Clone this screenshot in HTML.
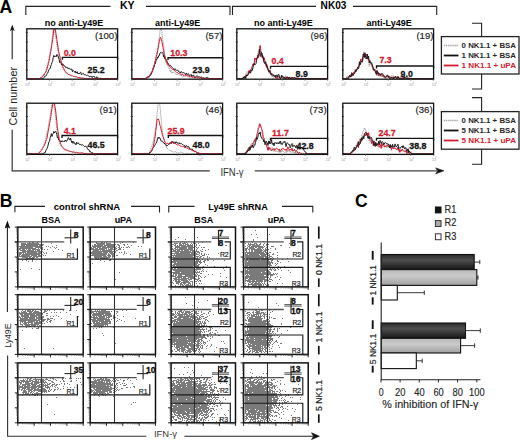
<!DOCTYPE html><html><head><meta charset="utf-8"><title>Figure</title><style>html,body{margin:0;padding:0;background:#fff;overflow:hidden}svg{display:block}text{font-family:"Liberation Sans",sans-serif}</style></head><body><svg width="520" height="441" viewBox="0 0 520 441" font-family="Liberation Sans, sans-serif"><rect width="520" height="441" fill="#fff"/><defs><clipPath id="ca00"><rect x="26.8" y="28.8" width="90.8" height="50.4"/></clipPath><clipPath id="ca01"><rect x="131.8" y="28.8" width="90.8" height="50.4"/></clipPath><clipPath id="ca02"><rect x="236.8" y="28.8" width="90.8" height="50.4"/></clipPath><clipPath id="ca03"><rect x="342.8" y="28.8" width="90.8" height="50.4"/></clipPath><clipPath id="ca10"><rect x="26.8" y="103.2" width="90.8" height="51.2"/></clipPath><clipPath id="ca11"><rect x="131.8" y="103.2" width="90.8" height="51.2"/></clipPath><clipPath id="ca12"><rect x="236.8" y="103.2" width="90.8" height="51.2"/></clipPath><clipPath id="ca13"><rect x="342.8" y="103.2" width="90.8" height="51.2"/></clipPath><linearGradient id="gd" x1="0" y1="0" x2="0" y2="1"><stop offset="0" stop-color="#2a2a2a"/><stop offset="0.38" stop-color="#4e4e4e"/><stop offset="1" stop-color="#161616"/></linearGradient><linearGradient id="gl" x1="0" y1="0" x2="0" y2="1"><stop offset="0" stop-color="#b8b8b8"/><stop offset="0.4" stop-color="#cacaca"/><stop offset="1" stop-color="#a0a0a0"/></linearGradient></defs><g clip-path="url(#ca00)" fill="none" stroke-linejoin="round">
<path d="M26.8 78.6 27.4 78.6 28 78.6 28.6 78.6 29.2 78.6 29.8 78.6 30.4 78.6 31 78.6 31.6 78.6 32.2 78.6 32.8 78.6 33.4 78.6 34 78.6 34.6 78.6 35.2 78.6 35.8 78.6 36.4 78.6 37 78.6 37.6 78.6 38.2 78.6 38.8 78.5 39.4 78.5 40 78.1 40.6 77.4 41.2 77.2 41.8 77.3 42.4 76.3 43 75.2 43.6 74.4 44.2 73.6 44.8 72.8 45.4 72.2 46 70 46.6 68.3 47.2 66.2 47.8 63.3 48.4 61.5 49 58.6 49.6 55.3 50.2 52.3 50.8 48.9 51.4 45.1 52 40.2 52.6 35.3 53.2 29.9 53.8 28.8 54.4 28.8 55 32.8 55.6 36.2 56.2 40.5 56.8 44.8 57.4 47.5 58 51.2 58.6 54.1 59.2 56.4 59.8 60.2 60.4 62.1 61 63.6 61.6 65 62.2 67 62.8 68.5 63.4 69.7 64 70.2 64.6 70.7 65.2 72.2 65.8 73.1 66.4 73.1 67 73.7 67.6 74.3 68.2 74.2 68.8 74.4 69.4 75.1 70 75.3 70.6 75.3 71.2 75.8 71.8 76.3 72.4 76.1 73 76.5 73.6 76.3 74.2 76.7 74.8 76.7 75.4 76.7 76 77 76.6 77.2 77.2 77.5 77.8 76.9 78.4 77.2 79 78 79.6 78 80.2 77.7 80.8 78.1 81.4 78 82 77.9 82.6 78.1 83.2 78.3 83.8 78.3 84.4 78.4 85 78.4 85.6 78.5 86.2 78.5 86.8 78.5 87.4 78.6 88 78.6 88.6 78.6 89.2 78.6 89.8 78.6 90.4 78.6 91 78.6 91.6 78.6 92.2 78.6 92.8 78.6 93.4 78.6 94 78.6 94.6 78.6 95.2 78.6 95.8 78.6 96.4 78.6 97 78.6 97.6 78.6 98.2 78.6 98.8 78.6 99.4 78.6 100 78.6 100.6 78.6 101.2 78.6 101.8 78.6 102.4 78.6 103 78.6 103.6 78.6 104.2 78.6 104.8 78.6 105.4 78.6 106 78.6 106.6 78.6 107.2 78.6 107.8 78.6 108.4 78.6 109 78.6 109.6 78.6 110.2 78.6 110.8 78.6 111.4 78.6 112 78.6 112.6 78.6 113.2 78.6 113.8 78.6 114.4 78.6 115 78.6 115.6 78.6 116.2 78.6 116.8 78.6 117.4 78.6" stroke="#8a8a8a" stroke-width="0.9" stroke-dasharray="1.2 0.8"/>
<path d="M26.8 78.6 27.4 78.6 28 78.6 28.6 78.6 29.2 78.6 29.8 78.6 30.4 78.6 31 78.6 31.6 78.6 32.2 78.6 32.8 78.6 33.4 78.6 34 78.6 34.6 78.6 35.2 78.6 35.8 78.6 36.4 78.6 37 78.6 37.6 78.6 38.2 78.6 38.8 78.6 39.4 78.6 40 78.6 40.6 78.6 41.2 78.6 41.8 78.5 42.4 78.3 43 78.6 43.6 78.4 44.2 77.2 44.8 76.2 45.4 76.2 46 75.9 46.6 74.4 47.2 73.3 47.8 73 48.4 71.2 49 69.5 49.6 69.1 50.2 68.2 50.8 66 51.4 64.6 52 62.2 52.6 61.5 53.2 57.4 53.8 55.4 54.4 56.7 55 56.1 55.6 56.1 56.2 56.9 56.8 54.5 57.4 54.8 58 56 58.6 58.2 59.2 59.6 59.8 62.6 60.4 61.7 61 62.4 61.6 65 62.2 63.8 62.8 64.9 63.4 64.5 64 66 64.6 66.1 65.2 66.3 65.8 67.7 66.4 66.9 67 67.8 67.6 67.7 68.2 68.8 68.8 67.9 69.4 68.6 70 69.5 70.6 69.2 71.2 69.1 71.8 69 72.4 71.7 73 70.3 73.6 70.9 74.2 71.5 74.8 72.4 75.4 71.1 76 73.1 76.6 72 77.2 71.7 77.8 73.8 78.4 73.1 79 74 79.6 73.1 80.2 72.4 80.8 72.2 81.4 74.9 82 74.2 82.6 73.6 83.2 73.2 83.8 74.1 84.4 75 85 74.5 85.6 74.9 86.2 75.2 86.8 75.7 87.4 75.3 88 75.5 88.6 75.9 89.2 76.2 89.8 77 90.4 76.7 91 75.9 91.6 76.8 92.2 77.6 92.8 76.3 93.4 76.9 94 76.2 94.6 77.4 95.2 77.8 95.8 78.4 96.4 77.2 97 76.7 97.6 78.4 98.2 78.4 98.8 77.9 99.4 78.6 100 78.3 100.6 78.4 101.2 78.4 101.8 78.5 102.4 78.5 103 78.6 103.6 78.6 104.2 78.6 104.8 78.6 105.4 78.6 106 78.6 106.6 78.6 107.2 78.6 107.8 78.6 108.4 78.6 109 78.6 109.6 78.6 110.2 78.6 110.8 78.6 111.4 78.6 112 78.6 112.6 78.6 113.2 78.6 113.8 78.6 114.4 78.6 115 78.6 115.6 78.6 116.2 78.6 116.8 78.6 117.4 78.6" stroke="#1a1a1a" stroke-width="1.0"/>
<path d="M26.8 78.6 27.4 78.6 28 78.6 28.6 78.6 29.2 78.6 29.8 78.6 30.4 78.6 31 78.6 31.6 78.6 32.2 78.6 32.8 78.6 33.4 78.6 34 78.6 34.6 78.6 35.2 78.6 35.8 78.6 36.4 78.6 37 78.6 37.6 78.6 38.2 78.6 38.8 78.6 39.4 78.5 40 78.3 40.6 77.9 41.2 77.6 41.8 77.2 42.4 76.7 43 76.3 43.6 75.2 44.2 75 44.8 73.4 45.4 72.7 46 71.5 46.6 70.2 47.2 68 47.8 65.9 48.4 63.5 49 61.3 49.6 58.2 50.2 54.3 50.8 51.4 51.4 48.2 52 43.6 52.6 39.9 53.2 34.8 53.8 29.4 54.4 28.8 55 28.8 55.6 31 56.2 34.9 56.8 39.4 57.4 43 58 47 58.6 51.2 59.2 53.5 59.8 56 60.4 58.7 61 60.8 61.6 62.7 62.2 64.1 62.8 66.4 63.4 67.9 64 68.9 64.6 70.3 65.2 71.3 65.8 71.9 66.4 72.2 67 72.8 67.6 73.9 68.2 74.5 68.8 74.5 69.4 74.7 70 75 70.6 75.1 71.2 75.2 71.8 75.6 72.4 75.7 73 76.3 73.6 76.5 74.2 76.3 74.8 76.4 75.4 76.5 76 76.7 76.6 76.8 77.2 76.9 77.8 77.6 78.4 77.5 79 77.4 79.6 77.5 80.2 78.1 80.8 77.7 81.4 78.1 82 78.1 82.6 78.1 83.2 78.1 83.8 78.3 84.4 78.4 85 78.4 85.6 78.5 86.2 78.5 86.8 78.5 87.4 78.6 88 78.6 88.6 78.6 89.2 78.6 89.8 78.6 90.4 78.6 91 78.6 91.6 78.6 92.2 78.6 92.8 78.6 93.4 78.6 94 78.6 94.6 78.6 95.2 78.6 95.8 78.6 96.4 78.6 97 78.6 97.6 78.6 98.2 78.6 98.8 78.6 99.4 78.6 100 78.6 100.6 78.6 101.2 78.6 101.8 78.6 102.4 78.6 103 78.6 103.6 78.6 104.2 78.6 104.8 78.6 105.4 78.6 106 78.6 106.6 78.6 107.2 78.6 107.8 78.6 108.4 78.6 109 78.6 109.6 78.6 110.2 78.6 110.8 78.6 111.4 78.6 112 78.6 112.6 78.6 113.2 78.6 113.8 78.6 114.4 78.6 115 78.6 115.6 78.6 116.2 78.6 116.8 78.6 117.4 78.6" stroke="#d41a2e" stroke-width="1.0"/>
</g>
<rect x="26.8" y="28.8" width="90.8" height="50.4" fill="none" stroke="#111" stroke-width="1.3"/>
<path d="M62.4 59.7V57.3H117.6V59.7" stroke="#151515" stroke-width="1.35" fill="none"/>
<line x1="25.8" y1="69.9" x2="28" y2="69.9" stroke="#333" stroke-width="0.9"/>
<line x1="25.8" y1="60.5" x2="28" y2="60.5" stroke="#333" stroke-width="0.9"/>
<line x1="25.8" y1="51.2" x2="28" y2="51.2" stroke="#333" stroke-width="0.9"/>
<line x1="25.8" y1="41.9" x2="28" y2="41.9" stroke="#333" stroke-width="0.9"/>
<line x1="25.8" y1="32.5" x2="28" y2="32.5" stroke="#333" stroke-width="0.9"/>
<line x1="26.8" y1="79.2" x2="26.8" y2="80.8" stroke="#666" stroke-width="0.7"/>
<text x="25" y="85.5" font-size="3.6" fill="#9a9a9a">10</text>
<text x="28.4" y="83.8" font-size="2.6" fill="#9a9a9a">0</text>
<line x1="49.5" y1="79.2" x2="49.5" y2="80.8" stroke="#666" stroke-width="0.7"/>
<text x="47.7" y="85.5" font-size="3.6" fill="#9a9a9a">10</text>
<text x="51.1" y="83.8" font-size="2.6" fill="#9a9a9a">1</text>
<line x1="72.2" y1="79.2" x2="72.2" y2="80.8" stroke="#666" stroke-width="0.7"/>
<text x="70.4" y="85.5" font-size="3.6" fill="#9a9a9a">10</text>
<text x="73.8" y="83.8" font-size="2.6" fill="#9a9a9a">2</text>
<line x1="94.9" y1="79.2" x2="94.9" y2="80.8" stroke="#666" stroke-width="0.7"/>
<text x="93.1" y="85.5" font-size="3.6" fill="#9a9a9a">10</text>
<text x="96.5" y="83.8" font-size="2.6" fill="#9a9a9a">3</text>
<line x1="117.6" y1="79.2" x2="117.6" y2="80.8" stroke="#666" stroke-width="0.7"/>
<text x="115.8" y="85.5" font-size="3.6" fill="#9a9a9a">10</text>
<text x="119.2" y="83.8" font-size="2.6" fill="#9a9a9a">4</text>
<text x="63.7" y="55.9" font-size="9.8" font-weight="bold" fill="#d41a2e" textLength="12.2" lengthAdjust="spacingAndGlyphs" stroke="#d41a2e" stroke-width="0.3">0.0</text>
<text x="87.5" y="72.7" font-size="9.8" font-weight="bold" fill="#111" textLength="17.2" lengthAdjust="spacingAndGlyphs" stroke="#111" stroke-width="0.3">25.2</text>
<text x="95" y="39.2" font-size="9.6" fill="#1a1a1a" stroke="#1a1a1a" stroke-width="0.15">(100)</text>
<g clip-path="url(#ca01)" fill="none" stroke-linejoin="round">
<path d="M131.8 78.6 132.4 78.6 133 78.6 133.6 78.6 134.2 78.6 134.8 78.6 135.4 78.6 136 78.6 136.6 78.6 137.2 78.6 137.8 78.6 138.4 78.6 139 78.6 139.6 78.6 140.2 78.6 140.8 78.6 141.4 78.6 142 78.6 142.6 78.6 143.2 78.6 143.8 78.6 144.4 78.6 145 78.6 145.6 78.5 146.2 77.2 146.8 78.6 147.4 78.2 148 77.5 148.6 76.6 149.2 77.1 149.8 75.6 150.4 74.6 151 73.5 151.6 74.2 152.2 70.9 152.8 68.5 153.4 67.3 154 66.1 154.6 63.7 155.2 63.2 155.8 57.8 156.4 54 157 51.8 157.6 52.2 158.2 45.8 158.8 41 159.4 37.2 160 30.7 160.6 29.8 161.2 28.8 161.8 31.9 162.4 37.5 163 41.8 163.6 44.4 164.2 49.5 164.8 55.7 165.4 57.5 166 61.8 166.6 64.8 167.2 64.9 167.8 65.4 168.4 67.3 169 68.1 169.6 69.4 170.2 72 170.8 70.2 171.4 71 172 73.4 172.6 72.4 173.2 72.9 173.8 71.9 174.4 72.8 175 73 175.6 73.3 176.2 74.6 176.8 75.2 177.4 74.2 178 74.6 178.6 74.7 179.2 74.9 179.8 75.3 180.4 74.9 181 75.3 181.6 75.9 182.2 76.8 182.8 77.4 183.4 76.8 184 76.2 184.6 75.8 185.2 76.7 185.8 76.2 186.4 76 187 75.5 187.6 76.8 188.2 76.2 188.8 77 189.4 77.9 190 78.5 190.6 77.3 191.2 77.1 191.8 76.3 192.4 78 193 77.5 193.6 77.9 194.2 78.6 194.8 77.8 195.4 78.2 196 78.6 196.6 77.5 197.2 78.3 197.8 78.4 198.4 78.4 199 78.5 199.6 78.5 200.2 78.6 200.8 78.6 201.4 78.6 202 78.6 202.6 78.6 203.2 78.6 203.8 78.6 204.4 78.6 205 78.6 205.6 78.6 206.2 78.6 206.8 78.6 207.4 78.6 208 78.6 208.6 78.6 209.2 78.6 209.8 78.6 210.4 78.6 211 78.6 211.6 78.6 212.2 78.6 212.8 78.6 213.4 78.6 214 78.6 214.6 78.6 215.2 78.6 215.8 78.6 216.4 78.6 217 78.6 217.6 78.6 218.2 78.6 218.8 78.6 219.4 78.6 220 78.6 220.6 78.6 221.2 78.6 221.8 78.6 222.4 78.6" stroke="#8a8a8a" stroke-width="0.9" stroke-dasharray="1.2 0.8"/>
<path d="M131.8 78.6 132.4 78.6 133 78.6 133.6 78.6 134.2 78.6 134.8 78.6 135.4 78.6 136 78.6 136.6 78.6 137.2 78.6 137.8 78.6 138.4 78.6 139 78.6 139.6 78.6 140.2 78.6 140.8 78.6 141.4 78.6 142 78.6 142.6 78.6 143.2 78.6 143.8 78.6 144.4 78.6 145 78.6 145.6 78.5 146.2 78.4 146.8 77.5 147.4 77.6 148 76.4 148.6 77.3 149.2 76.1 149.8 75.3 150.4 75.4 151 74.8 151.6 72.2 152.2 71.4 152.8 70.3 153.4 68.1 154 67.2 154.6 64.6 155.2 63.9 155.8 61.7 156.4 59.4 157 59.4 157.6 56.9 158.2 57.6 158.8 55.6 159.4 55.5 160 53.1 160.6 52.3 161.2 52.5 161.8 53.2 162.4 52.5 163 53.4 163.6 56.9 164.2 55.2 164.8 59 165.4 58.8 166 59.3 166.6 60.1 167.2 62.3 167.8 63.2 168.4 63.5 169 65.1 169.6 65.8 170.2 65.2 170.8 65.5 171.4 66.9 172 67.2 172.6 67.7 173.2 68.4 173.8 68.9 174.4 69.7 175 68.7 175.6 69.7 176.2 70.2 176.8 70.3 177.4 70.4 178 70.1 178.6 71.7 179.2 72.1 179.8 71.9 180.4 72.9 181 71.5 181.6 72 182.2 72.3 182.8 73.1 183.4 72.6 184 72.5 184.6 73 185.2 73.7 185.8 74.9 186.4 73.1 187 74.2 187.6 74.7 188.2 73.6 188.8 74.2 189.4 75.6 190 74.9 190.6 75.1 191.2 74.5 191.8 76.6 192.4 75.8 193 75.8 193.6 74.9 194.2 76.7 194.8 78 195.4 77.2 196 76.3 196.6 76.1 197.2 75.6 197.8 76.5 198.4 77.4 199 76.5 199.6 77.1 200.2 77.3 200.8 77.3 201.4 76.7 202 78 202.6 78.1 203.2 77.7 203.8 77.8 204.4 78.2 205 78.4 205.6 77.8 206.2 77.3 206.8 77.7 207.4 77.8 208 77.6 208.6 78.3 209.2 78.4 209.8 78.5 210.4 78.5 211 78.6 211.6 78.6 212.2 78.6 212.8 78.6 213.4 78.6 214 78.6 214.6 78.6 215.2 78.6 215.8 78.6 216.4 78.6 217 78.6 217.6 78.6 218.2 78.6 218.8 78.6 219.4 78.6 220 78.6 220.6 78.6 221.2 78.6 221.8 78.6 222.4 78.6" stroke="#1a1a1a" stroke-width="1.0"/>
<path d="M131.8 78.6 132.4 78.6 133 78.6 133.6 78.6 134.2 78.6 134.8 78.6 135.4 78.6 136 78.6 136.6 78.6 137.2 78.6 137.8 78.6 138.4 78.6 139 78.6 139.6 78.6 140.2 78.6 140.8 78.6 141.4 78.6 142 78.6 142.6 78.6 143.2 78.6 143.8 78.6 144.4 78.6 145 78.6 145.6 78.5 146.2 78.4 146.8 78.1 147.4 76.9 148 77.1 148.6 77 149.2 76.4 149.8 74.8 150.4 74.8 151 73.2 151.6 72 152.2 72.3 152.8 69 153.4 67.7 154 65.9 154.6 63.4 155.2 60.7 155.8 58.5 156.4 56.1 157 54.3 157.6 50.6 158.2 47.7 158.8 44.1 159.4 41.4 160 38.3 160.6 37.2 161.2 39.2 161.8 41.3 162.4 44 163 47.5 163.6 50.5 164.2 54.5 164.8 56.1 165.4 57.8 166 61.2 166.6 62.5 167.2 62.2 167.8 64.6 168.4 65.2 169 65.6 169.6 66.7 170.2 67.6 170.8 68 171.4 68.5 172 69.1 172.6 69.3 173.2 69.2 173.8 70.2 174.4 70.1 175 70.9 175.6 71.3 176.2 71.8 176.8 72.5 177.4 72.5 178 72.9 178.6 73.7 179.2 73.2 179.8 73.5 180.4 73.8 181 74.3 181.6 75.3 182.2 73.9 182.8 74.7 183.4 75.6 184 74.7 184.6 75.3 185.2 75 185.8 75.4 186.4 75.1 187 75.6 187.6 75.7 188.2 75.9 188.8 75.7 189.4 76.7 190 76 190.6 76.3 191.2 76.9 191.8 76.8 192.4 77.1 193 77 193.6 76.9 194.2 77.5 194.8 77.1 195.4 77.2 196 77.3 196.6 77.1 197.2 77.7 197.8 77.6 198.4 77.1 199 77.9 199.6 78 200.2 78 200.8 77.9 201.4 78.3 202 78.3 202.6 78.6 203.2 78.3 203.8 78.4 204.4 78.4 205 78.5 205.6 78.5 206.2 78.6 206.8 78.6 207.4 78.6 208 78.6 208.6 78.6 209.2 78.6 209.8 78.6 210.4 78.6 211 78.6 211.6 78.6 212.2 78.6 212.8 78.6 213.4 78.6 214 78.6 214.6 78.6 215.2 78.6 215.8 78.6 216.4 78.6 217 78.6 217.6 78.6 218.2 78.6 218.8 78.6 219.4 78.6 220 78.6 220.6 78.6 221.2 78.6 221.8 78.6 222.4 78.6" stroke="#d41a2e" stroke-width="1.0"/>
</g>
<rect x="131.8" y="28.8" width="90.8" height="50.4" fill="none" stroke="#111" stroke-width="1.3"/>
<path d="M168 60.1V57.7H222.6V60.1" stroke="#151515" stroke-width="1.35" fill="none"/>
<line x1="130.8" y1="69.9" x2="133" y2="69.9" stroke="#333" stroke-width="0.9"/>
<line x1="130.8" y1="60.5" x2="133" y2="60.5" stroke="#333" stroke-width="0.9"/>
<line x1="130.8" y1="51.2" x2="133" y2="51.2" stroke="#333" stroke-width="0.9"/>
<line x1="130.8" y1="41.9" x2="133" y2="41.9" stroke="#333" stroke-width="0.9"/>
<line x1="130.8" y1="32.5" x2="133" y2="32.5" stroke="#333" stroke-width="0.9"/>
<line x1="131.8" y1="79.2" x2="131.8" y2="80.8" stroke="#666" stroke-width="0.7"/>
<text x="130" y="85.5" font-size="3.6" fill="#9a9a9a">10</text>
<text x="133.4" y="83.8" font-size="2.6" fill="#9a9a9a">0</text>
<line x1="154.5" y1="79.2" x2="154.5" y2="80.8" stroke="#666" stroke-width="0.7"/>
<text x="152.7" y="85.5" font-size="3.6" fill="#9a9a9a">10</text>
<text x="156.1" y="83.8" font-size="2.6" fill="#9a9a9a">1</text>
<line x1="177.2" y1="79.2" x2="177.2" y2="80.8" stroke="#666" stroke-width="0.7"/>
<text x="175.4" y="85.5" font-size="3.6" fill="#9a9a9a">10</text>
<text x="178.8" y="83.8" font-size="2.6" fill="#9a9a9a">2</text>
<line x1="199.9" y1="79.2" x2="199.9" y2="80.8" stroke="#666" stroke-width="0.7"/>
<text x="198.1" y="85.5" font-size="3.6" fill="#9a9a9a">10</text>
<text x="201.5" y="83.8" font-size="2.6" fill="#9a9a9a">3</text>
<line x1="222.6" y1="79.2" x2="222.6" y2="80.8" stroke="#666" stroke-width="0.7"/>
<text x="220.8" y="85.5" font-size="3.6" fill="#9a9a9a">10</text>
<text x="224.2" y="83.8" font-size="2.6" fill="#9a9a9a">4</text>
<text x="170.3" y="55.9" font-size="9.8" font-weight="bold" fill="#d41a2e" textLength="17.2" lengthAdjust="spacingAndGlyphs" stroke="#d41a2e" stroke-width="0.3">10.3</text>
<text x="192.5" y="72.7" font-size="9.8" font-weight="bold" fill="#111" textLength="17.2" lengthAdjust="spacingAndGlyphs" stroke="#111" stroke-width="0.3">23.9</text>
<text x="205.4" y="39.2" font-size="9.6" fill="#1a1a1a" stroke="#1a1a1a" stroke-width="0.15">(57)</text>
<g clip-path="url(#ca02)" fill="none" stroke-linejoin="round">
<path d="M236.8 78.6 237.4 78.6 238 78.6 238.6 78.6 239.2 78.6 239.8 78.6 240.4 78.6 241 78.6 241.6 78.6 242.2 78.4 242.8 78.1 243.4 77.3 244 76.6 244.6 76.5 245.2 75.2 245.8 74.9 246.4 73.1 247 71.6 247.6 73.5 248.2 72.8 248.8 71 249.4 73.4 250 69.3 250.6 69.7 251.2 69.3 251.8 69.7 252.4 66.3 253 64 253.6 64.8 254.2 64.5 254.8 62.7 255.4 60.8 256 61.6 256.6 59 257.2 58.8 257.8 55.3 258.4 49.7 259 51.5 259.6 45.7 260.2 50.7 260.8 53.9 261.4 54.5 262 55.6 262.6 56.8 263.2 58.3 263.8 61.3 264.4 60.4 265 63.7 265.6 63.6 266.2 65.3 266.8 66.8 267.4 68 268 70.6 268.6 69.6 269.2 70.6 269.8 73.1 270.4 69.5 271 73.6 271.6 76.1 272.2 76.9 272.8 76.3 273.4 78.4 274 75.4 274.6 77.5 275.2 76 275.8 78.3 276.4 76.6 277 75.6 277.6 76.3 278.2 78.6 278.8 77.1 279.4 77.7 280 76 280.6 76.9 281.2 75.3 281.8 77.2 282.4 78.6 283 78.5 283.6 76.2 284.2 78.6 284.8 77.5 285.4 75.3 286 77.7 286.6 78.6 287.2 76.8 287.8 77.4 288.4 78.6 289 77.1 289.6 77.7 290.2 77.2 290.8 78.6 291.4 76.8 292 78.6 292.6 76.8 293.2 78.6 293.8 77.8 294.4 77.8 295 78.6 295.6 78.6 296.2 78.6 296.8 78.3 297.4 78.3 298 78.4 298.6 78.4 299.2 78.4 299.8 78.5 300.4 78.5 301 78.6 301.6 78.6 302.2 78.6 302.8 78.6 303.4 78.6 304 78.6 304.6 78.6 305.2 78.6 305.8 78.6 306.4 78.6 307 78.6 307.6 78.6 308.2 78.6 308.8 78.6 309.4 78.6 310 78.6 310.6 78.6 311.2 78.6 311.8 78.6 312.4 78.6 313 78.6 313.6 78.6 314.2 78.6 314.8 78.6 315.4 78.6 316 78.6 316.6 78.6 317.2 78.6 317.8 78.6 318.4 78.6 319 78.6 319.6 78.6 320.2 78.6 320.8 78.6 321.4 78.6 322 78.6 322.6 78.6 323.2 78.6 323.8 78.6 324.4 78.6 325 78.6 325.6 78.6 326.2 78.6 326.8 78.6 327.4 78.6" stroke="#8a8a8a" stroke-width="0.9" stroke-dasharray="1.2 0.8"/>
<path d="M236.8 78.6 237.4 78.6 238 78.6 238.6 78.6 239.2 78.6 239.8 78.6 240.4 78.6 241 78.6 241.6 78.6 242.2 78.6 242.8 78.4 243.4 77.7 244 76.3 244.6 76.7 245.2 76.9 245.8 75.3 246.4 75.4 247 74.4 247.6 74.7 248.2 74.6 248.8 70.6 249.4 71.8 250 70.3 250.6 70.3 251.2 69.3 251.8 68.1 252.4 65.6 253 63.8 253.6 63.7 254.2 64.4 254.8 57.9 255.4 59.9 256 58.5 256.6 59.7 257.2 57.9 257.8 54.9 258.4 57.5 259 54.2 259.6 50.7 260.2 45.5 260.8 50.4 261.4 55.5 262 57.4 262.6 55 263.2 59.5 263.8 60.1 264.4 57.8 265 62.3 265.6 64.4 266.2 66.4 266.8 64.5 267.4 65.8 268 69.7 268.6 71.7 269.2 71 269.8 70.1 270.4 72.1 271 74.9 271.6 73.6 272.2 73.6 272.8 74.9 273.4 75.1 274 75.6 274.6 76.5 275.2 76.9 275.8 77.9 276.4 77.9 277 78.6 277.6 76.5 278.2 76.6 278.8 77.1 279.4 76.8 280 77.2 280.6 78.1 281.2 77.2 281.8 77.8 282.4 77.7 283 78.6 283.6 78.1 284.2 77.3 284.8 78 285.4 78.5 286 78.6 286.6 78.4 287.2 76.6 287.8 78.5 288.4 77 289 78.4 289.6 77.1 290.2 78.5 290.8 77.7 291.4 77.5 292 77.6 292.6 78.6 293.2 78.5 293.8 78.6 294.4 78.3 295 78.5 295.6 78.5 296.2 77.8 296.8 78.3 297.4 78.3 298 78.4 298.6 78.4 299.2 78.4 299.8 78.5 300.4 78.5 301 78.6 301.6 78.6 302.2 78.6 302.8 78.6 303.4 78.6 304 78.6 304.6 78.6 305.2 78.6 305.8 78.6 306.4 78.6 307 78.6 307.6 78.6 308.2 78.6 308.8 78.6 309.4 78.6 310 78.6 310.6 78.6 311.2 78.6 311.8 78.6 312.4 78.6 313 78.6 313.6 78.6 314.2 78.6 314.8 78.6 315.4 78.6 316 78.6 316.6 78.6 317.2 78.6 317.8 78.6 318.4 78.6 319 78.6 319.6 78.6 320.2 78.6 320.8 78.6 321.4 78.6 322 78.6 322.6 78.6 323.2 78.6 323.8 78.6 324.4 78.6 325 78.6 325.6 78.6 326.2 78.6 326.8 78.6 327.4 78.6" stroke="#d41a2e" stroke-width="1.0"/>
<path d="M236.8 78.6 237.4 78.6 238 78.6 238.6 78.6 239.2 78.6 239.8 78.6 240.4 78.6 241 78.6 241.6 78.6 242.2 78.6 242.8 78.5 243.4 77 244 78.6 244.6 76.6 245.2 76.4 245.8 78.6 246.4 74.9 247 76.1 247.6 75 248.2 74.8 248.8 73.8 249.4 72.1 250 71.2 250.6 73.2 251.2 70 251.8 71.1 252.4 70.1 253 67.4 253.6 64.2 254.2 63.6 254.8 65.1 255.4 64.3 256 63.5 256.6 60.3 257.2 57.4 257.8 57.8 258.4 54.6 259 53.7 259.6 49.4 260.2 56.5 260.8 56 261.4 52.6 262 53.1 262.6 57.2 263.2 56.7 263.8 61.7 264.4 63.2 265 63.5 265.6 61.7 266.2 63.4 266.8 67.5 267.4 67 268 69.6 268.6 69.4 269.2 72.4 269.8 71.5 270.4 73.5 271 73.2 271.6 74.8 272.2 75.5 272.8 74.5 273.4 75.5 274 75.3 274.6 76.3 275.2 75.1 275.8 77.3 276.4 75.4 277 74.8 277.6 77.1 278.2 74.6 278.8 74.3 279.4 76.5 280 78.6 280.6 78.6 281.2 77.5 281.8 75.2 282.4 76.7 283 76.6 283.6 77.9 284.2 78.5 284.8 77.2 285.4 78.6 286 78 286.6 77.2 287.2 77.8 287.8 77.2 288.4 78.4 289 77.2 289.6 77.5 290.2 78.6 290.8 78.6 291.4 78.6 292 77.3 292.6 77.8 293.2 77.8 293.8 78 294.4 77.5 295 77.2 295.6 78.6 296.2 78.6 296.8 78.3 297.4 78.3 298 78.4 298.6 78.4 299.2 78.4 299.8 78.5 300.4 78.5 301 78.6 301.6 78.6 302.2 78.6 302.8 78.6 303.4 78.6 304 78.6 304.6 78.6 305.2 78.6 305.8 78.6 306.4 78.6 307 78.6 307.6 78.6 308.2 78.6 308.8 78.6 309.4 78.6 310 78.6 310.6 78.6 311.2 78.6 311.8 78.6 312.4 78.6 313 78.6 313.6 78.6 314.2 78.6 314.8 78.6 315.4 78.6 316 78.6 316.6 78.6 317.2 78.6 317.8 78.6 318.4 78.6 319 78.6 319.6 78.6 320.2 78.6 320.8 78.6 321.4 78.6 322 78.6 322.6 78.6 323.2 78.6 323.8 78.6 324.4 78.6 325 78.6 325.6 78.6 326.2 78.6 326.8 78.6 327.4 78.6" stroke="#1a1a1a" stroke-width="1.0"/>
</g>
<rect x="236.8" y="28.8" width="90.8" height="50.4" fill="none" stroke="#111" stroke-width="1.3"/>
<path d="M270.5 68.7V66.3H327.6V68.7" stroke="#151515" stroke-width="1.35" fill="none"/>
<line x1="235.8" y1="69.9" x2="238" y2="69.9" stroke="#333" stroke-width="0.9"/>
<line x1="235.8" y1="60.5" x2="238" y2="60.5" stroke="#333" stroke-width="0.9"/>
<line x1="235.8" y1="51.2" x2="238" y2="51.2" stroke="#333" stroke-width="0.9"/>
<line x1="235.8" y1="41.9" x2="238" y2="41.9" stroke="#333" stroke-width="0.9"/>
<line x1="235.8" y1="32.5" x2="238" y2="32.5" stroke="#333" stroke-width="0.9"/>
<line x1="236.8" y1="79.2" x2="236.8" y2="80.8" stroke="#666" stroke-width="0.7"/>
<text x="235" y="85.5" font-size="3.6" fill="#9a9a9a">10</text>
<text x="238.4" y="83.8" font-size="2.6" fill="#9a9a9a">0</text>
<line x1="259.5" y1="79.2" x2="259.5" y2="80.8" stroke="#666" stroke-width="0.7"/>
<text x="257.7" y="85.5" font-size="3.6" fill="#9a9a9a">10</text>
<text x="261.1" y="83.8" font-size="2.6" fill="#9a9a9a">1</text>
<line x1="282.2" y1="79.2" x2="282.2" y2="80.8" stroke="#666" stroke-width="0.7"/>
<text x="280.4" y="85.5" font-size="3.6" fill="#9a9a9a">10</text>
<text x="283.8" y="83.8" font-size="2.6" fill="#9a9a9a">2</text>
<line x1="304.9" y1="79.2" x2="304.9" y2="80.8" stroke="#666" stroke-width="0.7"/>
<text x="303.1" y="85.5" font-size="3.6" fill="#9a9a9a">10</text>
<text x="306.5" y="83.8" font-size="2.6" fill="#9a9a9a">3</text>
<line x1="327.6" y1="79.2" x2="327.6" y2="80.8" stroke="#666" stroke-width="0.7"/>
<text x="325.8" y="85.5" font-size="3.6" fill="#9a9a9a">10</text>
<text x="329.2" y="83.8" font-size="2.6" fill="#9a9a9a">4</text>
<text x="271.5" y="63.6" font-size="9.8" font-weight="bold" fill="#d41a2e" textLength="12.2" lengthAdjust="spacingAndGlyphs" stroke="#d41a2e" stroke-width="0.3">0.4</text>
<text x="295.6" y="76.7" font-size="9.8" font-weight="bold" fill="#111" textLength="12.2" lengthAdjust="spacingAndGlyphs" stroke="#111" stroke-width="0.3">8.9</text>
<text x="310.4" y="39.2" font-size="9.6" fill="#1a1a1a" stroke="#1a1a1a" stroke-width="0.15">(96)</text>
<g clip-path="url(#ca03)" fill="none" stroke-linejoin="round">
<path d="M342.8 78.6 343.4 78.6 344 78.6 344.6 78.6 345.2 78.5 345.8 78.4 346.4 78.6 347 76.4 347.6 78.6 348.2 78 348.8 76.6 349.4 76.3 350 75.6 350.6 76.4 351.2 76.5 351.8 76.6 352.4 73.8 353 74 353.6 72.4 354.2 72.3 354.8 69.5 355.4 70 356 69.9 356.6 69.3 357.2 69.3 357.8 68.1 358.4 66.9 359 62.4 359.6 64.3 360.2 63.9 360.8 61.2 361.4 59.1 362 61.5 362.6 62.6 363.2 56.8 363.8 51.5 364.4 54 365 52.3 365.6 54.3 366.2 54.6 366.8 58.5 367.4 59 368 56.1 368.6 59.1 369.2 66.4 369.8 60.2 370.4 60 371 65.2 371.6 64.3 372.2 68.2 372.8 67.6 373.4 68.5 374 70.5 374.6 68.8 375.2 70.1 375.8 70.6 376.4 70.9 377 76.1 377.6 72.9 378.2 76.1 378.8 74.9 379.4 74.7 380 76.4 380.6 75 381.2 77.2 381.8 76.2 382.4 74.7 383 77.2 383.6 75.9 384.2 78.2 384.8 76 385.4 78.6 386 77.9 386.6 78.6 387.2 76.5 387.8 78.1 388.4 77.7 389 76.8 389.6 76.1 390.2 76.5 390.8 77.5 391.4 75.6 392 76.4 392.6 77.6 393.2 75.3 393.8 78.6 394.4 77.7 395 76.2 395.6 76.8 396.2 77.1 396.8 78.1 397.4 78.6 398 78.2 398.6 77.3 399.2 78.4 399.8 78.6 400.4 78.3 401 75.6 401.6 76.9 402.2 75.7 402.8 77.9 403.4 78.1 404 78.5 404.6 76.1 405.2 78.6 405.8 78.1 406.4 77.4 407 78.6 407.6 78.6 408.2 78.3 408.8 78.4 409.4 78.4 410 78.5 410.6 78.5 411.2 78.5 411.8 78.6 412.4 78.6 413 78.6 413.6 78.6 414.2 78.6 414.8 78.6 415.4 78.6 416 78.6 416.6 78.6 417.2 78.6 417.8 78.6 418.4 78.6 419 78.6 419.6 78.6 420.2 78.6 420.8 78.6 421.4 78.6 422 78.6 422.6 78.6 423.2 78.6 423.8 78.6 424.4 78.6 425 78.6 425.6 78.6 426.2 78.6 426.8 78.6 427.4 78.6 428 78.6 428.6 78.6 429.2 78.6 429.8 78.6 430.4 78.6 431 78.6 431.6 78.6 432.2 78.6 432.8 78.6 433.4 78.6" stroke="#8a8a8a" stroke-width="0.9" stroke-dasharray="1.2 0.8"/>
<path d="M342.8 78.6 343.4 78.6 344 78.6 344.6 78.6 345.2 78.6 345.8 78.5 346.4 78.3 347 78.4 347.6 77.8 348.2 78.3 348.8 76.2 349.4 75.9 350 76.3 350.6 74.8 351.2 75.1 351.8 76.1 352.4 74.2 353 75.2 353.6 72.4 354.2 72.9 354.8 72.4 355.4 72.3 356 69.1 356.6 70.1 357.2 69.7 357.8 68.6 358.4 66.3 359 65.4 359.6 64.1 360.2 62.9 360.8 59 361.4 61.9 362 60.8 362.6 60 363.2 56.1 363.8 53.6 364.4 53.4 365 54.7 365.6 55.7 366.2 54.1 366.8 55.1 367.4 56.6 368 59.7 368.6 59.3 369.2 60.6 369.8 61.6 370.4 61.6 371 63.7 371.6 64 372.2 65.9 372.8 66.6 373.4 67.1 374 70.9 374.6 70.2 375.2 71.2 375.8 72 376.4 72.2 377 70.6 377.6 74.1 378.2 72.4 378.8 76 379.4 74.8 380 74.6 380.6 74.4 381.2 74.5 381.8 74.6 382.4 76 383 76.3 383.6 75.1 384.2 76.4 384.8 77.6 385.4 77.6 386 77.5 386.6 76.1 387.2 76.6 387.8 76.1 388.4 77.4 389 76.8 389.6 76.5 390.2 77.5 390.8 76.8 391.4 77.9 392 77.7 392.6 77.8 393.2 78.6 393.8 77 394.4 78 395 77.6 395.6 77.2 396.2 77.3 396.8 77.1 397.4 77.9 398 78.2 398.6 77.9 399.2 78.6 399.8 78.6 400.4 78.6 401 78.6 401.6 77.7 402.2 78.6 402.8 78.4 403.4 77 404 78.4 404.6 77.5 405.2 78.6 405.8 78.4 406.4 78.6 407 78.5 407.6 77.6 408.2 78.3 408.8 78.4 409.4 78.4 410 78.5 410.6 78.5 411.2 78.5 411.8 78.6 412.4 78.6 413 78.6 413.6 78.6 414.2 78.6 414.8 78.6 415.4 78.6 416 78.6 416.6 78.6 417.2 78.6 417.8 78.6 418.4 78.6 419 78.6 419.6 78.6 420.2 78.6 420.8 78.6 421.4 78.6 422 78.6 422.6 78.6 423.2 78.6 423.8 78.6 424.4 78.6 425 78.6 425.6 78.6 426.2 78.6 426.8 78.6 427.4 78.6 428 78.6 428.6 78.6 429.2 78.6 429.8 78.6 430.4 78.6 431 78.6 431.6 78.6 432.2 78.6 432.8 78.6 433.4 78.6" stroke="#d41a2e" stroke-width="1.0"/>
<path d="M342.8 78.6 343.4 78.6 344 78.6 344.6 78.6 345.2 78.6 345.8 78.6 346.4 78.4 347 78.6 347.6 78.6 348.2 78.6 348.8 78.2 349.4 75.5 350 75.4 350.6 77 351.2 76.6 351.8 72.6 352.4 73.6 353 75.6 353.6 74.1 354.2 73.9 354.8 72.4 355.4 70.5 356 71.7 356.6 69.8 357.2 68.6 357.8 67.3 358.4 68.9 359 67.1 359.6 61.7 360.2 64.8 360.8 63.1 361.4 61.1 362 62 362.6 60.3 363.2 54.3 363.8 53.7 364.4 57.5 365 53.2 365.6 57.2 366.2 59.1 366.8 56.6 367.4 54.1 368 58.6 368.6 56.2 369.2 62.7 369.8 61.2 370.4 62.4 371 63.4 371.6 62.7 372.2 64.5 372.8 67.6 373.4 70 374 69.4 374.6 69.3 375.2 71 375.8 73.4 376.4 74.4 377 70.7 377.6 72.2 378.2 74.1 378.8 73 379.4 73.4 380 74.9 380.6 75.5 381.2 73.4 381.8 74.1 382.4 73.5 383 74.3 383.6 75.5 384.2 76.7 384.8 76.7 385.4 77.1 386 76.4 386.6 76.3 387.2 75.1 387.8 75 388.4 76.9 389 76.5 389.6 78.5 390.2 78 390.8 78.6 391.4 77.1 392 78 392.6 78.3 393.2 77.5 393.8 78.6 394.4 77.7 395 77 395.6 76.1 396.2 78.6 396.8 78.3 397.4 78.6 398 76.3 398.6 78.1 399.2 77.6 399.8 78.6 400.4 78.3 401 78.6 401.6 78.6 402.2 78.6 402.8 78.6 403.4 78.6 404 78.6 404.6 76.7 405.2 78.3 405.8 78.1 406.4 78.2 407 78.6 407.6 78.5 408.2 78.3 408.8 78.4 409.4 78.4 410 78.5 410.6 78.5 411.2 78.5 411.8 78.6 412.4 78.6 413 78.6 413.6 78.6 414.2 78.6 414.8 78.6 415.4 78.6 416 78.6 416.6 78.6 417.2 78.6 417.8 78.6 418.4 78.6 419 78.6 419.6 78.6 420.2 78.6 420.8 78.6 421.4 78.6 422 78.6 422.6 78.6 423.2 78.6 423.8 78.6 424.4 78.6 425 78.6 425.6 78.6 426.2 78.6 426.8 78.6 427.4 78.6 428 78.6 428.6 78.6 429.2 78.6 429.8 78.6 430.4 78.6 431 78.6 431.6 78.6 432.2 78.6 432.8 78.6 433.4 78.6" stroke="#1a1a1a" stroke-width="1.0"/>
</g>
<rect x="342.8" y="28.8" width="90.8" height="50.4" fill="none" stroke="#111" stroke-width="1.3"/>
<path d="M376.5 68.4V66H433.6V68.4" stroke="#151515" stroke-width="1.35" fill="none"/>
<line x1="341.8" y1="69.9" x2="344" y2="69.9" stroke="#333" stroke-width="0.9"/>
<line x1="341.8" y1="60.5" x2="344" y2="60.5" stroke="#333" stroke-width="0.9"/>
<line x1="341.8" y1="51.2" x2="344" y2="51.2" stroke="#333" stroke-width="0.9"/>
<line x1="341.8" y1="41.9" x2="344" y2="41.9" stroke="#333" stroke-width="0.9"/>
<line x1="341.8" y1="32.5" x2="344" y2="32.5" stroke="#333" stroke-width="0.9"/>
<line x1="342.8" y1="79.2" x2="342.8" y2="80.8" stroke="#666" stroke-width="0.7"/>
<text x="341" y="85.5" font-size="3.6" fill="#9a9a9a">10</text>
<text x="344.4" y="83.8" font-size="2.6" fill="#9a9a9a">0</text>
<line x1="365.5" y1="79.2" x2="365.5" y2="80.8" stroke="#666" stroke-width="0.7"/>
<text x="363.7" y="85.5" font-size="3.6" fill="#9a9a9a">10</text>
<text x="367.1" y="83.8" font-size="2.6" fill="#9a9a9a">1</text>
<line x1="388.2" y1="79.2" x2="388.2" y2="80.8" stroke="#666" stroke-width="0.7"/>
<text x="386.4" y="85.5" font-size="3.6" fill="#9a9a9a">10</text>
<text x="389.8" y="83.8" font-size="2.6" fill="#9a9a9a">2</text>
<line x1="410.9" y1="79.2" x2="410.9" y2="80.8" stroke="#666" stroke-width="0.7"/>
<text x="409.1" y="85.5" font-size="3.6" fill="#9a9a9a">10</text>
<text x="412.5" y="83.8" font-size="2.6" fill="#9a9a9a">3</text>
<line x1="433.6" y1="79.2" x2="433.6" y2="80.8" stroke="#666" stroke-width="0.7"/>
<text x="431.8" y="85.5" font-size="3.6" fill="#9a9a9a">10</text>
<text x="435.2" y="83.8" font-size="2.6" fill="#9a9a9a">4</text>
<text x="379.4" y="62.6" font-size="9.8" font-weight="bold" fill="#d41a2e" textLength="12.2" lengthAdjust="spacingAndGlyphs" stroke="#d41a2e" stroke-width="0.3">7.3</text>
<text x="400.6" y="76.7" font-size="9.8" font-weight="bold" fill="#111" textLength="12.2" lengthAdjust="spacingAndGlyphs" stroke="#111" stroke-width="0.3">9.0</text>
<text x="416.4" y="39.2" font-size="9.6" fill="#1a1a1a" stroke="#1a1a1a" stroke-width="0.15">(19)</text>
<g clip-path="url(#ca10)" fill="none" stroke-linejoin="round">
<path d="M26.8 153.8 27.4 153.8 28 153.8 28.6 153.8 29.2 153.8 29.8 153.8 30.4 153.8 31 153.8 31.6 153.8 32.2 153.8 32.8 153.8 33.4 153.8 34 153.8 34.6 153.8 35.2 153.8 35.8 153.8 36.4 153.8 37 153.8 37.6 153.7 38.2 153.6 38.8 152.7 39.4 151.9 40 151.8 40.6 150.4 41.2 149.5 41.8 148.7 42.4 147.4 43 146.9 43.6 145.1 44.2 143.9 44.8 142.4 45.4 140.5 46 137.7 46.6 134.4 47.2 132.4 47.8 129.7 48.4 125.9 49 121.5 49.6 118.9 50.2 115.4 50.8 111.2 51.4 106.8 52 103.2 52.6 103.2 53.2 103.2 53.8 105.4 54.4 108.7 55 112.6 55.6 118.1 56.2 124.1 56.8 129.3 57.4 132.8 58 137.3 58.6 139.6 59.2 141.3 59.8 143.9 60.4 145.2 61 145.7 61.6 146.6 62.2 147.8 62.8 148.4 63.4 148.8 64 149.1 64.6 149.7 65.2 149.7 65.8 150.8 66.4 150.4 67 150.9 67.6 150.7 68.2 151 68.8 150.7 69.4 151.3 70 151.5 70.6 151.5 71.2 151.5 71.8 151.9 72.4 152.3 73 152.3 73.6 152 74.2 151.8 74.8 152.6 75.4 152.3 76 152.9 76.6 152.4 77.2 152.8 77.8 152.8 78.4 152.5 79 152.4 79.6 153.1 80.2 153.3 80.8 153.3 81.4 153.1 82 153.3 82.6 153.4 83.2 153.6 83.8 153.4 84.4 153.6 85 153.5 85.6 153.6 86.2 153.6 86.8 153.7 87.4 153.7 88 153.8 88.6 153.8 89.2 153.8 89.8 153.8 90.4 153.8 91 153.8 91.6 153.8 92.2 153.8 92.8 153.8 93.4 153.8 94 153.8 94.6 153.8 95.2 153.8 95.8 153.8 96.4 153.8 97 153.8 97.6 153.8 98.2 153.8 98.8 153.8 99.4 153.8 100 153.8 100.6 153.8 101.2 153.8 101.8 153.8 102.4 153.8 103 153.8 103.6 153.8 104.2 153.8 104.8 153.8 105.4 153.8 106 153.8 106.6 153.8 107.2 153.8 107.8 153.8 108.4 153.8 109 153.8 109.6 153.8 110.2 153.8 110.8 153.8 111.4 153.8 112 153.8 112.6 153.8 113.2 153.8 113.8 153.8 114.4 153.8 115 153.8 115.6 153.8 116.2 153.8 116.8 153.8 117.4 153.8" stroke="#8a8a8a" stroke-width="0.9" stroke-dasharray="1.2 0.8"/>
<path d="M26.8 153.8 27.4 153.8 28 153.8 28.6 153.8 29.2 153.8 29.8 153.8 30.4 153.8 31 153.8 31.6 153.8 32.2 153.8 32.8 153.8 33.4 153.8 34 153.8 34.6 153.8 35.2 153.8 35.8 153.8 36.4 153.8 37 153.8 37.6 153.8 38.2 153.8 38.8 153.8 39.4 153.8 40 153.8 40.6 153.8 41.2 153.8 41.8 153.8 42.4 153.8 43 153.8 43.6 153.8 44.2 152.6 44.8 153.1 45.4 152 46 150.2 46.6 149 47.2 148.3 47.8 146.3 48.4 144 49 141.5 49.6 141.1 50.2 137.3 50.8 135.8 51.4 133.6 52 136.5 52.6 134.3 53.2 133.7 53.8 131.4 54.4 132.9 55 131.9 55.6 131.3 56.2 132.5 56.8 134.4 57.4 137.5 58 136.6 58.6 139.9 59.2 140 59.8 140.4 60.4 141.7 61 140.8 61.6 142.1 62.2 140.8 62.8 141 63.4 141.8 64 141.2 64.6 141.6 65.2 140.1 65.8 141.2 66.4 141.4 67 140.1 67.6 140 68.2 137.6 68.8 138.1 69.4 139.3 70 140.1 70.6 138.2 71.2 140.5 71.8 142.6 72.4 141.4 73 143.4 73.6 141.5 74.2 142.4 74.8 143.8 75.4 143.6 76 144.9 76.6 142.2 77.2 143.5 77.8 143.2 78.4 142.8 79 144.2 79.6 144.5 80.2 144.6 80.8 144.2 81.4 145.2 82 145 82.6 144.7 83.2 145.1 83.8 145.8 84.4 146.5 85 146.6 85.6 146.2 86.2 146.3 86.8 147.1 87.4 148.8 88 149 88.6 150 89.2 150.1 89.8 151.9 90.4 151.4 91 152.4 91.6 153.2 92.2 152.4 92.8 153.7 93.4 153.8 94 153.8 94.6 153.8 95.2 153.8 95.8 153.8 96.4 153.8 97 153.8 97.6 153.8 98.2 153.8 98.8 153.8 99.4 153.8 100 153.8 100.6 153.8 101.2 153.8 101.8 153.8 102.4 153.8 103 153.8 103.6 153.8 104.2 153.8 104.8 153.8 105.4 153.8 106 153.8 106.6 153.8 107.2 153.8 107.8 153.8 108.4 153.8 109 153.8 109.6 153.8 110.2 153.8 110.8 153.8 111.4 153.8 112 153.8 112.6 153.8 113.2 153.8 113.8 153.8 114.4 153.8 115 153.8 115.6 153.8 116.2 153.8 116.8 153.8 117.4 153.8" stroke="#1a1a1a" stroke-width="1.0"/>
<path d="M26.8 153.8 27.4 153.8 28 153.8 28.6 153.8 29.2 153.8 29.8 153.8 30.4 153.8 31 153.8 31.6 153.8 32.2 153.8 32.8 153.8 33.4 153.8 34 153.8 34.6 153.8 35.2 153.8 35.8 153.8 36.4 153.8 37 153.8 37.6 153.8 38.2 153.8 38.8 153 39.4 153.1 40 152.1 40.6 151.1 41.2 150.5 41.8 150 42.4 148.8 43 147.8 43.6 146.7 44.2 145.8 44.8 144.1 45.4 143 46 141 46.6 139.4 47.2 137.2 47.8 133.1 48.4 130.2 49 126.9 49.6 123.6 50.2 120.2 50.8 116.6 51.4 112.2 52 108.6 52.6 104.3 53.2 103.2 53.8 103.2 54.4 103.2 55 106.9 55.6 110.1 56.2 115.8 56.8 121.6 57.4 127.9 58 131.6 58.6 135 59.2 139.1 59.8 141.3 60.4 143.1 61 144.5 61.6 145.8 62.2 146.4 62.8 147.2 63.4 148.1 64 148.9 64.6 149.2 65.2 149.3 65.8 149.8 66.4 149.9 67 150.4 67.6 150.4 68.2 150.7 68.8 151.1 69.4 151.2 70 151.5 70.6 151.5 71.2 151.7 71.8 151.7 72.4 151.9 73 152.1 73.6 152 74.2 152.4 74.8 152.3 75.4 152.8 76 152.6 76.6 152.4 77.2 152.6 77.8 152.6 78.4 152.9 79 153.1 79.6 153.1 80.2 152.9 80.8 153.1 81.4 152.7 82 152.7 82.6 153 83.2 153.4 83.8 153.2 84.4 153.4 85 153.4 85.6 153.5 86.2 153.4 86.8 153.5 87.4 153.6 88 153.6 88.6 153.7 89.2 153.7 89.8 153.8 90.4 153.8 91 153.8 91.6 153.8 92.2 153.8 92.8 153.8 93.4 153.8 94 153.8 94.6 153.8 95.2 153.8 95.8 153.8 96.4 153.8 97 153.8 97.6 153.8 98.2 153.8 98.8 153.8 99.4 153.8 100 153.8 100.6 153.8 101.2 153.8 101.8 153.8 102.4 153.8 103 153.8 103.6 153.8 104.2 153.8 104.8 153.8 105.4 153.8 106 153.8 106.6 153.8 107.2 153.8 107.8 153.8 108.4 153.8 109 153.8 109.6 153.8 110.2 153.8 110.8 153.8 111.4 153.8 112 153.8 112.6 153.8 113.2 153.8 113.8 153.8 114.4 153.8 115 153.8 115.6 153.8 116.2 153.8 116.8 153.8 117.4 153.8" stroke="#d41a2e" stroke-width="1.0"/>
</g>
<rect x="26.8" y="103.2" width="90.8" height="51.2" fill="none" stroke="#111" stroke-width="1.3"/>
<path d="M62 137.9V135.5H117.6V137.9" stroke="#151515" stroke-width="1.35" fill="none"/>
<line x1="25.8" y1="144.9" x2="28" y2="144.9" stroke="#333" stroke-width="0.9"/>
<line x1="25.8" y1="135.4" x2="28" y2="135.4" stroke="#333" stroke-width="0.9"/>
<line x1="25.8" y1="126" x2="28" y2="126" stroke="#333" stroke-width="0.9"/>
<line x1="25.8" y1="116.5" x2="28" y2="116.5" stroke="#333" stroke-width="0.9"/>
<line x1="25.8" y1="107" x2="28" y2="107" stroke="#333" stroke-width="0.9"/>
<line x1="26.8" y1="154.4" x2="26.8" y2="156" stroke="#666" stroke-width="0.7"/>
<text x="25" y="160.7" font-size="3.6" fill="#9a9a9a">10</text>
<text x="28.4" y="159" font-size="2.6" fill="#9a9a9a">0</text>
<line x1="49.5" y1="154.4" x2="49.5" y2="156" stroke="#666" stroke-width="0.7"/>
<text x="47.7" y="160.7" font-size="3.6" fill="#9a9a9a">10</text>
<text x="51.1" y="159" font-size="2.6" fill="#9a9a9a">1</text>
<line x1="72.2" y1="154.4" x2="72.2" y2="156" stroke="#666" stroke-width="0.7"/>
<text x="70.4" y="160.7" font-size="3.6" fill="#9a9a9a">10</text>
<text x="73.8" y="159" font-size="2.6" fill="#9a9a9a">2</text>
<line x1="94.9" y1="154.4" x2="94.9" y2="156" stroke="#666" stroke-width="0.7"/>
<text x="93.1" y="160.7" font-size="3.6" fill="#9a9a9a">10</text>
<text x="96.5" y="159" font-size="2.6" fill="#9a9a9a">3</text>
<line x1="117.6" y1="154.4" x2="117.6" y2="156" stroke="#666" stroke-width="0.7"/>
<text x="115.8" y="160.7" font-size="3.6" fill="#9a9a9a">10</text>
<text x="119.2" y="159" font-size="2.6" fill="#9a9a9a">4</text>
<text x="63.7" y="133.7" font-size="9.8" font-weight="bold" fill="#d41a2e" textLength="12.2" lengthAdjust="spacingAndGlyphs" stroke="#d41a2e" stroke-width="0.3">4.1</text>
<text x="87.5" y="147.7" font-size="9.8" font-weight="bold" fill="#111" textLength="17.2" lengthAdjust="spacingAndGlyphs" stroke="#111" stroke-width="0.3">46.5</text>
<text x="99.6" y="113.4" font-size="9.6" fill="#1a1a1a" stroke="#1a1a1a" stroke-width="0.15">(91)</text>
<g clip-path="url(#ca11)" fill="none" stroke-linejoin="round">
<path d="M131.8 153.8 132.4 153.8 133 153.8 133.6 153.8 134.2 153.8 134.8 153.8 135.4 153.8 136 153.8 136.6 153.8 137.2 153.8 137.8 153.8 138.4 153.8 139 153.8 139.6 153.8 140.2 153.8 140.8 153.8 141.4 153.8 142 153.8 142.6 153.8 143.2 153.8 143.8 153.8 144.4 153.8 145 153.8 145.6 153.8 146.2 153.8 146.8 153.8 147.4 153.8 148 153.8 148.6 153.6 149.2 153.2 149.8 151.9 150.4 150.2 151 148.3 151.6 146.6 152.2 144.6 152.8 142.8 153.4 140.8 154 137.5 154.6 135.6 155.2 130.3 155.8 127.2 156.4 122 157 114.7 157.6 108.9 158.2 103.2 158.8 103.2 159.4 103.2 160 106.4 160.6 113.5 161.2 118.7 161.8 126.6 162.4 131.1 163 134.5 163.6 138.2 164.2 139.8 164.8 141.3 165.4 144.3 166 145.9 166.6 147.8 167.2 148.1 167.8 149.1 168.4 149.6 169 150.4 169.6 150.5 170.2 150.8 170.8 150.4 171.4 151.5 172 151.2 172.6 151.4 173.2 151.8 173.8 152.1 174.4 151.7 175 152.1 175.6 151.7 176.2 151.6 176.8 152.7 177.4 152.3 178 152.6 178.6 153 179.2 152.9 179.8 152.4 180.4 152.2 181 152.6 181.6 152.4 182.2 152.7 182.8 152.5 183.4 153.2 184 153.4 184.6 152.9 185.2 153.5 185.8 153.6 186.4 153.3 187 153 187.6 153.4 188.2 153.2 188.8 153.5 189.4 152.8 190 153.5 190.6 153.4 191.2 153.5 191.8 153.5 192.4 153.5 193 153.6 193.6 153.6 194.2 153.7 194.8 153.7 195.4 153.7 196 153.8 196.6 153.8 197.2 153.8 197.8 153.8 198.4 153.8 199 153.8 199.6 153.8 200.2 153.8 200.8 153.8 201.4 153.8 202 153.8 202.6 153.8 203.2 153.8 203.8 153.8 204.4 153.8 205 153.8 205.6 153.8 206.2 153.8 206.8 153.8 207.4 153.8 208 153.8 208.6 153.8 209.2 153.8 209.8 153.8 210.4 153.8 211 153.8 211.6 153.8 212.2 153.8 212.8 153.8 213.4 153.8 214 153.8 214.6 153.8 215.2 153.8 215.8 153.8 216.4 153.8 217 153.8 217.6 153.8 218.2 153.8 218.8 153.8 219.4 153.8 220 153.8 220.6 153.8 221.2 153.8 221.8 153.8 222.4 153.8" stroke="#8a8a8a" stroke-width="0.9" stroke-dasharray="1.2 0.8"/>
<path d="M131.8 153.8 132.4 153.8 133 153.8 133.6 153.8 134.2 153.8 134.8 153.8 135.4 153.8 136 153.8 136.6 153.8 137.2 153.8 137.8 153.8 138.4 153.8 139 153.8 139.6 153.8 140.2 153.8 140.8 153.8 141.4 153.8 142 153.8 142.6 153.8 143.2 153.8 143.8 153.8 144.4 153.8 145 153.8 145.6 153.8 146.2 153.8 146.8 153.8 147.4 153.8 148 153.8 148.6 153.7 149.2 153.8 149.8 152.2 150.4 152.6 151 151.4 151.6 150.7 152.2 149.4 152.8 148 153.4 147.6 154 146.8 154.6 145.6 155.2 144.7 155.8 143.5 156.4 142.9 157 141.1 157.6 138.3 158.2 137.2 158.8 138.5 159.4 137.4 160 138 160.6 139.9 161.2 141.1 161.8 141.4 162.4 141.3 163 141.8 163.6 143 164.2 143 164.8 144.1 165.4 144.1 166 144.9 166.6 146.1 167.2 145.8 167.8 145.1 168.4 144.4 169 144.5 169.6 142.9 170.2 143.2 170.8 143.4 171.4 143.4 172 141.1 172.6 142.5 173.2 142.9 173.8 141.8 174.4 142.5 175 141.8 175.6 143.5 176.2 141.9 176.8 142 177.4 143.1 178 143.7 178.6 143.1 179.2 142.6 179.8 144 180.4 143.9 181 143.2 181.6 143.8 182.2 144.5 182.8 144.5 183.4 144.8 184 145.5 184.6 145.5 185.2 147.5 185.8 145.9 186.4 145.7 187 146.2 187.6 147.2 188.2 146.2 188.8 146.8 189.4 148.5 190 148.3 190.6 148.9 191.2 149.5 191.8 148.8 192.4 149.2 193 150.5 193.6 150.6 194.2 150.7 194.8 151.4 195.4 151.1 196 151.9 196.6 152.3 197.2 153.6 197.8 152.8 198.4 153.6 199 153.8 199.6 153.8 200.2 153.8 200.8 153.8 201.4 153.8 202 153.8 202.6 153.8 203.2 153.8 203.8 153.8 204.4 153.8 205 153.8 205.6 153.8 206.2 153.8 206.8 153.8 207.4 153.8 208 153.8 208.6 153.8 209.2 153.8 209.8 153.8 210.4 153.8 211 153.8 211.6 153.8 212.2 153.8 212.8 153.8 213.4 153.8 214 153.8 214.6 153.8 215.2 153.8 215.8 153.8 216.4 153.8 217 153.8 217.6 153.8 218.2 153.8 218.8 153.8 219.4 153.8 220 153.8 220.6 153.8 221.2 153.8 221.8 153.8 222.4 153.8" stroke="#1a1a1a" stroke-width="1.0"/>
<path d="M131.8 153.8 132.4 153.8 133 153.8 133.6 153.8 134.2 153.8 134.8 153.8 135.4 153.8 136 153.8 136.6 153.8 137.2 153.8 137.8 153.8 138.4 153.8 139 153.8 139.6 153.8 140.2 153.8 140.8 153.8 141.4 153.8 142 153.8 142.6 153.8 143.2 153.8 143.8 153.8 144.4 153.8 145 153.8 145.6 153.8 146.2 153.8 146.8 153.8 147.4 153.8 148 153.8 148.6 153.7 149.2 153.3 149.8 153.3 150.4 152.7 151 151.9 151.6 151 152.2 150 152.8 147.8 153.4 146.1 154 143 154.6 139.4 155.2 136.3 155.8 130.6 156.4 126.3 157 120.3 157.6 118.9 158.2 118.9 158.8 120.2 159.4 122.2 160 125.6 160.6 126.7 161.2 129.8 161.8 132.1 162.4 135.4 163 136.7 163.6 138 164.2 140.1 164.8 141.7 165.4 142.6 166 143.3 166.6 143.7 167.2 143.4 167.8 143.1 168.4 144 169 144.3 169.6 143.6 170.2 142.6 170.8 142.4 171.4 143.5 172 142.3 172.6 142.1 173.2 143.4 173.8 143.4 174.4 143.5 175 143.3 175.6 143.9 176.2 144.2 176.8 144.7 177.4 145.2 178 144.4 178.6 145.2 179.2 145.5 179.8 145.7 180.4 146.1 181 145.9 181.6 146.4 182.2 146.9 182.8 146.3 183.4 146.5 184 146.8 184.6 147.7 185.2 147.6 185.8 147.3 186.4 148.1 187 148.3 187.6 148.3 188.2 148.4 188.8 149.5 189.4 149.1 190 149.7 190.6 149.5 191.2 149.9 191.8 150.2 192.4 150.6 193 150.8 193.6 151 194.2 151.3 194.8 151.7 195.4 151.6 196 151.5 196.6 152.5 197.2 152.4 197.8 152.9 198.4 152.6 199 153 199.6 153.3 200.2 153.6 200.8 153.7 201.4 153.8 202 153.8 202.6 153.8 203.2 153.8 203.8 153.8 204.4 153.8 205 153.8 205.6 153.8 206.2 153.8 206.8 153.8 207.4 153.8 208 153.8 208.6 153.8 209.2 153.8 209.8 153.8 210.4 153.8 211 153.8 211.6 153.8 212.2 153.8 212.8 153.8 213.4 153.8 214 153.8 214.6 153.8 215.2 153.8 215.8 153.8 216.4 153.8 217 153.8 217.6 153.8 218.2 153.8 218.8 153.8 219.4 153.8 220 153.8 220.6 153.8 221.2 153.8 221.8 153.8 222.4 153.8" stroke="#d41a2e" stroke-width="1.0"/>
</g>
<rect x="131.8" y="103.2" width="90.8" height="51.2" fill="none" stroke="#111" stroke-width="1.3"/>
<path d="M168.3 137.9V135.5H222.6V137.9" stroke="#151515" stroke-width="1.35" fill="none"/>
<line x1="130.8" y1="144.9" x2="133" y2="144.9" stroke="#333" stroke-width="0.9"/>
<line x1="130.8" y1="135.4" x2="133" y2="135.4" stroke="#333" stroke-width="0.9"/>
<line x1="130.8" y1="126" x2="133" y2="126" stroke="#333" stroke-width="0.9"/>
<line x1="130.8" y1="116.5" x2="133" y2="116.5" stroke="#333" stroke-width="0.9"/>
<line x1="130.8" y1="107" x2="133" y2="107" stroke="#333" stroke-width="0.9"/>
<line x1="131.8" y1="154.4" x2="131.8" y2="156" stroke="#666" stroke-width="0.7"/>
<text x="130" y="160.7" font-size="3.6" fill="#9a9a9a">10</text>
<text x="133.4" y="159" font-size="2.6" fill="#9a9a9a">0</text>
<line x1="154.5" y1="154.4" x2="154.5" y2="156" stroke="#666" stroke-width="0.7"/>
<text x="152.7" y="160.7" font-size="3.6" fill="#9a9a9a">10</text>
<text x="156.1" y="159" font-size="2.6" fill="#9a9a9a">1</text>
<line x1="177.2" y1="154.4" x2="177.2" y2="156" stroke="#666" stroke-width="0.7"/>
<text x="175.4" y="160.7" font-size="3.6" fill="#9a9a9a">10</text>
<text x="178.8" y="159" font-size="2.6" fill="#9a9a9a">2</text>
<line x1="199.9" y1="154.4" x2="199.9" y2="156" stroke="#666" stroke-width="0.7"/>
<text x="198.1" y="160.7" font-size="3.6" fill="#9a9a9a">10</text>
<text x="201.5" y="159" font-size="2.6" fill="#9a9a9a">3</text>
<line x1="222.6" y1="154.4" x2="222.6" y2="156" stroke="#666" stroke-width="0.7"/>
<text x="220.8" y="160.7" font-size="3.6" fill="#9a9a9a">10</text>
<text x="224.2" y="159" font-size="2.6" fill="#9a9a9a">4</text>
<text x="167.5" y="133.7" font-size="9.8" font-weight="bold" fill="#d41a2e" textLength="17.2" lengthAdjust="spacingAndGlyphs" stroke="#d41a2e" stroke-width="0.3">25.9</text>
<text x="192.5" y="147.7" font-size="9.8" font-weight="bold" fill="#111" textLength="17.2" lengthAdjust="spacingAndGlyphs" stroke="#111" stroke-width="0.3">48.0</text>
<text x="205.4" y="113.4" font-size="9.6" fill="#1a1a1a" stroke="#1a1a1a" stroke-width="0.15">(46)</text>
<g clip-path="url(#ca12)" fill="none" stroke-linejoin="round">
<path d="M236.8 153.8 237.4 153.8 238 153.8 238.6 153.8 239.2 153.8 239.8 153.8 240.4 153.8 241 153.8 241.6 153.8 242.2 153.8 242.8 153.8 243.4 153.8 244 153.8 244.6 153.5 245.2 152.1 245.8 152.9 246.4 150 247 151.4 247.6 150.4 248.2 148.1 248.8 148.4 249.4 146.6 250 146.3 250.6 147.6 251.2 143.8 251.8 144.1 252.4 143 253 142.6 253.6 144.7 254.2 142.3 254.8 138.9 255.4 140.8 256 140.6 256.6 136.5 257.2 133.4 257.8 128.8 258.4 126.4 259 124.8 259.6 122.9 260.2 125.2 260.8 127.9 261.4 127.6 262 133.1 262.6 134.4 263.2 139.7 263.8 140.5 264.4 141.5 265 141.9 265.6 144 266.2 145.9 266.8 146.2 267.4 148.7 268 146.3 268.6 150.1 269.2 148.9 269.8 148.2 270.4 151 271 150.4 271.6 149.3 272.2 147.2 272.8 150.9 273.4 149 274 151.4 274.6 148.9 275.2 150.3 275.8 151.9 276.4 151.2 277 150.8 277.6 151.8 278.2 152.2 278.8 149.4 279.4 151.1 280 152.8 280.6 152 281.2 150.5 281.8 152.1 282.4 150.4 283 150.9 283.6 152.1 284.2 152.4 284.8 152.7 285.4 152 286 151.4 286.6 152.8 287.2 149.8 287.8 151.9 288.4 150.5 289 150.9 289.6 149.4 290.2 152.6 290.8 151.7 291.4 152.2 292 152.6 292.6 151.1 293.2 151.2 293.8 152.8 294.4 151.9 295 153.8 295.6 151.9 296.2 153.6 296.8 153.6 297.4 151.6 298 153.7 298.6 153.1 299.2 152.5 299.8 153.6 300.4 153.6 301 153.7 301.6 153.8 302.2 153.8 302.8 153.8 303.4 153.8 304 153.8 304.6 153.8 305.2 153.8 305.8 153.8 306.4 153.8 307 153.8 307.6 153.8 308.2 153.8 308.8 153.8 309.4 153.8 310 153.8 310.6 153.8 311.2 153.8 311.8 153.8 312.4 153.8 313 153.8 313.6 153.8 314.2 153.8 314.8 153.8 315.4 153.8 316 153.8 316.6 153.8 317.2 153.8 317.8 153.8 318.4 153.8 319 153.8 319.6 153.8 320.2 153.8 320.8 153.8 321.4 153.8 322 153.8 322.6 153.8 323.2 153.8 323.8 153.8 324.4 153.8 325 153.8 325.6 153.8 326.2 153.8 326.8 153.8 327.4 153.8" stroke="#8a8a8a" stroke-width="0.9" stroke-dasharray="1.2 0.8"/>
<path d="M236.8 153.8 237.4 153.8 238 153.8 238.6 153.8 239.2 153.8 239.8 153.8 240.4 153.8 241 153.8 241.6 153.8 242.2 153.8 242.8 153.8 243.4 153.8 244 153.8 244.6 153.7 245.2 153.3 245.8 153.8 246.4 151.7 247 151 247.6 151.1 248.2 148.9 248.8 147.5 249.4 147.5 250 147.5 250.6 147.6 251.2 145.6 251.8 147 252.4 143.6 253 142.9 253.6 142.7 254.2 140.6 254.8 141.5 255.4 138.6 256 137.7 256.6 136.9 257.2 133.7 257.8 132.4 258.4 128.4 259 127.6 259.6 124.1 260.2 124.3 260.8 126.1 261.4 128.4 262 129.9 262.6 131.6 263.2 137.1 263.8 137.5 264.4 140.3 265 141.7 265.6 142.8 266.2 143.3 266.8 146.6 267.4 148.1 268 150.4 268.6 147.2 269.2 149.3 269.8 147.5 270.4 148.5 271 149.7 271.6 150.7 272.2 149.7 272.8 149.3 273.4 149.1 274 148.4 274.6 150.4 275.2 149.5 275.8 149.4 276.4 148 277 148.6 277.6 149.1 278.2 149.3 278.8 150.3 279.4 149.1 280 151.5 280.6 150.6 281.2 150.1 281.8 148.8 282.4 148.8 283 148.8 283.6 148.5 284.2 149.9 284.8 149.6 285.4 150.3 286 149 286.6 150.5 287.2 149 287.8 146.8 288.4 147.6 289 149.8 289.6 150.3 290.2 149.3 290.8 150.2 291.4 150.3 292 148.1 292.6 151.1 293.2 150.1 293.8 150.7 294.4 149.3 295 150.5 295.6 151.6 296.2 150.1 296.8 151.1 297.4 152.4 298 152.4 298.6 153.5 299.2 152.5 299.8 152.3 300.4 152.9 301 153.7 301.6 153.4 302.2 153.7 302.8 153.8 303.4 153.8 304 153.8 304.6 153.8 305.2 153.8 305.8 153.8 306.4 153.8 307 153.8 307.6 153.8 308.2 153.8 308.8 153.8 309.4 153.8 310 153.8 310.6 153.8 311.2 153.8 311.8 153.8 312.4 153.8 313 153.8 313.6 153.8 314.2 153.8 314.8 153.8 315.4 153.8 316 153.8 316.6 153.8 317.2 153.8 317.8 153.8 318.4 153.8 319 153.8 319.6 153.8 320.2 153.8 320.8 153.8 321.4 153.8 322 153.8 322.6 153.8 323.2 153.8 323.8 153.8 324.4 153.8 325 153.8 325.6 153.8 326.2 153.8 326.8 153.8 327.4 153.8" stroke="#d41a2e" stroke-width="1.0"/>
<path d="M236.8 153.8 237.4 153.8 238 153.8 238.6 153.8 239.2 153.8 239.8 153.8 240.4 153.8 241 153.8 241.6 153.8 242.2 153.8 242.8 153.8 243.4 153.8 244 153.8 244.6 153.8 245.2 153.7 245.8 153.8 246.4 152.1 247 152.5 247.6 150.9 248.2 149.8 248.8 151.1 249.4 147.6 250 150.2 250.6 147.1 251.2 146.9 251.8 147.6 252.4 145 253 147.2 253.6 147.7 254.2 144.7 254.8 145.3 255.4 142.7 256 140.9 256.6 137.4 257.2 139.4 257.8 137.2 258.4 134.6 259 132.9 259.6 133.9 260.2 131.9 260.8 136.5 261.4 136.8 262 138.5 262.6 139.1 263.2 139.4 263.8 142 264.4 140.8 265 144.7 265.6 143.4 266.2 141.1 266.8 142.6 267.4 143 268 145.5 268.6 140.9 269.2 143.8 269.8 141.1 270.4 143.7 271 143 271.6 139.6 272.2 144.2 272.8 144.2 273.4 143.1 274 145.9 274.6 142.7 275.2 142.5 275.8 142.9 276.4 143.8 277 142.5 277.6 143.5 278.2 143 278.8 143.9 279.4 141.6 280 143.4 280.6 141.2 281.2 144.4 281.8 143.5 282.4 144.4 283 142.7 283.6 141.7 284.2 142.5 284.8 141.3 285.4 143.2 286 146.7 286.6 144 287.2 142.7 287.8 143.4 288.4 144.4 289 144.5 289.6 144.6 290.2 147.8 290.8 146.4 291.4 144.3 292 143.5 292.6 146.7 293.2 146.5 293.8 145.2 294.4 145.4 295 146.5 295.6 147.6 296.2 145.4 296.8 145.4 297.4 149.1 298 149.4 298.6 146.6 299.2 147.4 299.8 149.2 300.4 148.6 301 148.3 301.6 147.3 302.2 148.4 302.8 148.7 303.4 149 304 150.3 304.6 151.2 305.2 152.1 305.8 152 306.4 153.8 307 153.7 307.6 153.8 308.2 153.8 308.8 153.8 309.4 153.8 310 153.8 310.6 153.8 311.2 153.8 311.8 153.8 312.4 153.8 313 153.8 313.6 153.8 314.2 153.8 314.8 153.8 315.4 153.8 316 153.8 316.6 153.8 317.2 153.8 317.8 153.8 318.4 153.8 319 153.8 319.6 153.8 320.2 153.8 320.8 153.8 321.4 153.8 322 153.8 322.6 153.8 323.2 153.8 323.8 153.8 324.4 153.8 325 153.8 325.6 153.8 326.2 153.8 326.8 153.8 327.4 153.8" stroke="#1a1a1a" stroke-width="1.0"/>
</g>
<rect x="236.8" y="103.2" width="90.8" height="51.2" fill="none" stroke="#111" stroke-width="1.3"/>
<path d="M270.5 140.8V138.4H327.6V140.8" stroke="#151515" stroke-width="1.35" fill="none"/>
<line x1="235.8" y1="144.9" x2="238" y2="144.9" stroke="#333" stroke-width="0.9"/>
<line x1="235.8" y1="135.4" x2="238" y2="135.4" stroke="#333" stroke-width="0.9"/>
<line x1="235.8" y1="126" x2="238" y2="126" stroke="#333" stroke-width="0.9"/>
<line x1="235.8" y1="116.5" x2="238" y2="116.5" stroke="#333" stroke-width="0.9"/>
<line x1="235.8" y1="107" x2="238" y2="107" stroke="#333" stroke-width="0.9"/>
<line x1="236.8" y1="154.4" x2="236.8" y2="156" stroke="#666" stroke-width="0.7"/>
<text x="235" y="160.7" font-size="3.6" fill="#9a9a9a">10</text>
<text x="238.4" y="159" font-size="2.6" fill="#9a9a9a">0</text>
<line x1="259.5" y1="154.4" x2="259.5" y2="156" stroke="#666" stroke-width="0.7"/>
<text x="257.7" y="160.7" font-size="3.6" fill="#9a9a9a">10</text>
<text x="261.1" y="159" font-size="2.6" fill="#9a9a9a">1</text>
<line x1="282.2" y1="154.4" x2="282.2" y2="156" stroke="#666" stroke-width="0.7"/>
<text x="280.4" y="160.7" font-size="3.6" fill="#9a9a9a">10</text>
<text x="283.8" y="159" font-size="2.6" fill="#9a9a9a">2</text>
<line x1="304.9" y1="154.4" x2="304.9" y2="156" stroke="#666" stroke-width="0.7"/>
<text x="303.1" y="160.7" font-size="3.6" fill="#9a9a9a">10</text>
<text x="306.5" y="159" font-size="2.6" fill="#9a9a9a">3</text>
<line x1="327.6" y1="154.4" x2="327.6" y2="156" stroke="#666" stroke-width="0.7"/>
<text x="325.8" y="160.7" font-size="3.6" fill="#9a9a9a">10</text>
<text x="329.2" y="159" font-size="2.6" fill="#9a9a9a">4</text>
<text x="272.1" y="135.6" font-size="9.8" font-weight="bold" fill="#d41a2e" textLength="16.7" lengthAdjust="spacingAndGlyphs" stroke="#d41a2e" stroke-width="0.3">11.7</text>
<text x="296.5" y="149.1" font-size="9.8" font-weight="bold" fill="#111" textLength="17.2" lengthAdjust="spacingAndGlyphs" stroke="#111" stroke-width="0.3">42.8</text>
<text x="309.6" y="113.4" font-size="9.6" fill="#1a1a1a" stroke="#1a1a1a" stroke-width="0.15">(73)</text>
<g clip-path="url(#ca13)" fill="none" stroke-linejoin="round">
<path d="M342.8 153.8 343.4 153.8 344 153.8 344.6 153.8 345.2 153.8 345.8 153.8 346.4 153.8 347 153.8 347.6 153.8 348.2 153.8 348.8 153.8 349.4 153.8 350 153.8 350.6 153.8 351.2 152.1 351.8 152.7 352.4 152.3 353 150.7 353.6 150.5 354.2 148.7 354.8 150.6 355.4 148 356 145 356.6 146.7 357.2 143.2 357.8 142 358.4 144.8 359 142 359.6 143 360.2 141.2 360.8 140.9 361.4 137.3 362 134.8 362.6 132.7 363.2 130.5 363.8 130.3 364.4 128.1 365 128 365.6 130.6 366.2 135 366.8 133.7 367.4 134 368 137.5 368.6 136.9 369.2 139.2 369.8 142.2 370.4 141.6 371 139.9 371.6 142.9 372.2 143.5 372.8 144.7 373.4 145.2 374 139.8 374.6 143.1 375.2 144.6 375.8 142.7 376.4 145.8 377 145.3 377.6 144.6 378.2 146.9 378.8 142.9 379.4 143.2 380 144.6 380.6 145.7 381.2 144.5 381.8 147.4 382.4 147.3 383 147.2 383.6 146.2 384.2 145.5 384.8 146.6 385.4 145.8 386 146.3 386.6 147.9 387.2 148.1 387.8 144.5 388.4 146.9 389 147.8 389.6 147.4 390.2 148 390.8 147.1 391.4 150.5 392 148.5 392.6 145.8 393.2 147.1 393.8 148.9 394.4 148.3 395 148.3 395.6 148.8 396.2 148.6 396.8 149.8 397.4 148.9 398 149 398.6 151.3 399.2 149.2 399.8 151.8 400.4 150.2 401 149.2 401.6 151 402.2 149.8 402.8 149.5 403.4 150.3 404 150.7 404.6 150.8 405.2 151.3 405.8 151.5 406.4 153.8 407 149.8 407.6 151.5 408.2 153.8 408.8 149.9 409.4 150.4 410 152.8 410.6 151.5 411.2 151.8 411.8 153.6 412.4 153.8 413 153.8 413.6 153.8 414.2 153.8 414.8 153.8 415.4 153.8 416 153.8 416.6 153.8 417.2 153.8 417.8 153.8 418.4 153.8 419 153.8 419.6 153.8 420.2 153.8 420.8 153.8 421.4 153.8 422 153.8 422.6 153.8 423.2 153.8 423.8 153.8 424.4 153.8 425 153.8 425.6 153.8 426.2 153.8 426.8 153.8 427.4 153.8 428 153.8 428.6 153.8 429.2 153.8 429.8 153.8 430.4 153.8 431 153.8 431.6 153.8 432.2 153.8 432.8 153.8 433.4 153.8" stroke="#8a8a8a" stroke-width="0.9" stroke-dasharray="1.2 0.8"/>
<path d="M342.8 153.8 343.4 153.8 344 153.8 344.6 153.8 345.2 153.8 345.8 153.8 346.4 153.8 347 153.8 347.6 153.8 348.2 153.8 348.8 153.8 349.4 153.8 350 153.8 350.6 153.5 351.2 151.9 351.8 153.1 352.4 151.3 353 150.5 353.6 150.8 354.2 149.9 354.8 150.4 355.4 149.1 356 147.4 356.6 146.6 357.2 145.1 357.8 143.6 358.4 147.7 359 144.5 359.6 143.5 360.2 139 360.8 141.7 361.4 139.6 362 137.6 362.6 138 363.2 138.6 363.8 136.5 364.4 134.7 365 134.8 365.6 135.9 366.2 131.9 366.8 134.6 367.4 133 368 136.2 368.6 132.7 369.2 136.5 369.8 139.4 370.4 138.3 371 139.5 371.6 143.6 372.2 143 372.8 141.1 373.4 146 374 141.1 374.6 142.1 375.2 143.2 375.8 142.8 376.4 145.1 377 145.8 377.6 144.7 378.2 143.4 378.8 145.2 379.4 147.3 380 146.2 380.6 144.7 381.2 148.6 381.8 143.1 382.4 146.2 383 144.7 383.6 143.6 384.2 145.6 384.8 147.2 385.4 146 386 146.5 386.6 146.4 387.2 144.8 387.8 145.9 388.4 146.5 389 145.6 389.6 145.9 390.2 147.5 390.8 145.6 391.4 149.6 392 148.6 392.6 147.2 393.2 148.9 393.8 148.5 394.4 148.4 395 148.2 395.6 148.1 396.2 149.3 396.8 149.9 397.4 149.3 398 147 398.6 150.3 399.2 149.3 399.8 152.4 400.4 149.9 401 150.6 401.6 151.2 402.2 149 402.8 150.3 403.4 150.8 404 151.4 404.6 151.7 405.2 151.9 405.8 150.2 406.4 150.3 407 153.4 407.6 151.6 408.2 150.9 408.8 152.5 409.4 153.5 410 152.8 410.6 152.3 411.2 153.8 411.8 153.6 412.4 153.8 413 153.8 413.6 153.8 414.2 153.8 414.8 153.8 415.4 153.8 416 153.8 416.6 153.8 417.2 153.8 417.8 153.8 418.4 153.8 419 153.8 419.6 153.8 420.2 153.8 420.8 153.8 421.4 153.8 422 153.8 422.6 153.8 423.2 153.8 423.8 153.8 424.4 153.8 425 153.8 425.6 153.8 426.2 153.8 426.8 153.8 427.4 153.8 428 153.8 428.6 153.8 429.2 153.8 429.8 153.8 430.4 153.8 431 153.8 431.6 153.8 432.2 153.8 432.8 153.8 433.4 153.8" stroke="#d41a2e" stroke-width="1.0"/>
<path d="M342.8 153.8 343.4 153.8 344 153.8 344.6 153.8 345.2 153.8 345.8 153.8 346.4 153.8 347 153.8 347.6 153.8 348.2 153.8 348.8 153.8 349.4 153.8 350 153.8 350.6 153.5 351.2 152.6 351.8 151.5 352.4 151.3 353 149.9 353.6 151.3 354.2 147.1 354.8 148.1 355.4 149.5 356 148 356.6 146.7 357.2 145.2 357.8 146.4 358.4 141.6 359 144.8 359.6 144 360.2 143.8 360.8 141.4 361.4 137.9 362 140.3 362.6 138.8 363.2 136.2 363.8 138.8 364.4 133.7 365 133.2 365.6 132.5 366.2 133.2 366.8 134.3 367.4 136.2 368 138.3 368.6 136.3 369.2 138.7 369.8 136.7 370.4 137.3 371 137 371.6 137.6 372.2 140.4 372.8 140.6 373.4 141.7 374 145.4 374.6 143.4 375.2 146.5 375.8 142.4 376.4 145.4 377 145.1 377.6 143.7 378.2 143.5 378.8 141.1 379.4 144.8 380 140.4 380.6 141.1 381.2 143.5 381.8 142.1 382.4 141.6 383 142.5 383.6 144.8 384.2 144.1 384.8 143 385.4 142.3 386 142.7 386.6 143.8 387.2 143.7 387.8 144 388.4 144.1 389 145.9 389.6 147.9 390.2 144.4 390.8 147.4 391.4 145.8 392 146.7 392.6 144.2 393.2 147 393.8 147 394.4 147.1 395 143.9 395.6 145.4 396.2 146.9 396.8 146 397.4 145.7 398 144.2 398.6 148.6 399.2 147.9 399.8 148.1 400.4 148.3 401 146.8 401.6 146.5 402.2 146 402.8 148.1 403.4 145.7 404 147.3 404.6 149.1 405.2 147.7 405.8 147.7 406.4 149.6 407 151.1 407.6 149.1 408.2 148.7 408.8 152.6 409.4 151.2 410 152.4 410.6 152.6 411.2 153.7 411.8 153.8 412.4 153.8 413 153.8 413.6 153.8 414.2 153.8 414.8 153.8 415.4 153.8 416 153.8 416.6 153.8 417.2 153.8 417.8 153.8 418.4 153.8 419 153.8 419.6 153.8 420.2 153.8 420.8 153.8 421.4 153.8 422 153.8 422.6 153.8 423.2 153.8 423.8 153.8 424.4 153.8 425 153.8 425.6 153.8 426.2 153.8 426.8 153.8 427.4 153.8 428 153.8 428.6 153.8 429.2 153.8 429.8 153.8 430.4 153.8 431 153.8 431.6 153.8 432.2 153.8 432.8 153.8 433.4 153.8" stroke="#1a1a1a" stroke-width="1.0"/>
</g>
<rect x="342.8" y="103.2" width="90.8" height="51.2" fill="none" stroke="#111" stroke-width="1.3"/>
<path d="M376.5 140.8V138.4H433.6V140.8" stroke="#151515" stroke-width="1.35" fill="none"/>
<line x1="341.8" y1="144.9" x2="344" y2="144.9" stroke="#333" stroke-width="0.9"/>
<line x1="341.8" y1="135.4" x2="344" y2="135.4" stroke="#333" stroke-width="0.9"/>
<line x1="341.8" y1="126" x2="344" y2="126" stroke="#333" stroke-width="0.9"/>
<line x1="341.8" y1="116.5" x2="344" y2="116.5" stroke="#333" stroke-width="0.9"/>
<line x1="341.8" y1="107" x2="344" y2="107" stroke="#333" stroke-width="0.9"/>
<line x1="342.8" y1="154.4" x2="342.8" y2="156" stroke="#666" stroke-width="0.7"/>
<text x="341" y="160.7" font-size="3.6" fill="#9a9a9a">10</text>
<text x="344.4" y="159" font-size="2.6" fill="#9a9a9a">0</text>
<line x1="365.5" y1="154.4" x2="365.5" y2="156" stroke="#666" stroke-width="0.7"/>
<text x="363.7" y="160.7" font-size="3.6" fill="#9a9a9a">10</text>
<text x="367.1" y="159" font-size="2.6" fill="#9a9a9a">1</text>
<line x1="388.2" y1="154.4" x2="388.2" y2="156" stroke="#666" stroke-width="0.7"/>
<text x="386.4" y="160.7" font-size="3.6" fill="#9a9a9a">10</text>
<text x="389.8" y="159" font-size="2.6" fill="#9a9a9a">2</text>
<line x1="410.9" y1="154.4" x2="410.9" y2="156" stroke="#666" stroke-width="0.7"/>
<text x="409.1" y="160.7" font-size="3.6" fill="#9a9a9a">10</text>
<text x="412.5" y="159" font-size="2.6" fill="#9a9a9a">3</text>
<line x1="433.6" y1="154.4" x2="433.6" y2="156" stroke="#666" stroke-width="0.7"/>
<text x="431.8" y="160.7" font-size="3.6" fill="#9a9a9a">10</text>
<text x="435.2" y="159" font-size="2.6" fill="#9a9a9a">4</text>
<text x="378.5" y="135.6" font-size="9.8" font-weight="bold" fill="#d41a2e" textLength="17.2" lengthAdjust="spacingAndGlyphs" stroke="#d41a2e" stroke-width="0.3">24.7</text>
<text x="409.3" y="149.1" font-size="9.8" font-weight="bold" fill="#111" textLength="17.2" lengthAdjust="spacingAndGlyphs" stroke="#111" stroke-width="0.3">38.8</text>
<text x="415.6" y="113.4" font-size="9.6" fill="#1a1a1a" stroke="#1a1a1a" stroke-width="0.15">(36)</text>
<text x="-0.6" y="12.5" font-size="17.6" font-weight="bold">A</text>
<path d="M25.8 15.1V6.4H110.5M146 6.4H230V14.9" stroke="#222" stroke-width="1.1" fill="none"/>
<path d="M232.5 14.9V6.4H316M353 6.4H436.7V14.9" stroke="#222" stroke-width="1.1" fill="none"/>
<text x="119.9" y="9.3" font-size="10.6" font-weight="bold" textLength="14.6" lengthAdjust="spacingAndGlyphs">KY</text>
<text x="320.6" y="9.3" font-size="10.4" font-weight="bold" textLength="25.8" lengthAdjust="spacingAndGlyphs">NK03</text>
<text x="74" y="26.4" font-size="9" font-weight="bold" text-anchor="middle">no anti-Ly49E</text>
<text x="177.7" y="26.4" font-size="9" font-weight="bold" text-anchor="middle">anti-Ly49E</text>
<text x="283.4" y="26.4" font-size="9" font-weight="bold" text-anchor="middle">no anti-Ly49E</text>
<text x="389.1" y="26.4" font-size="9" font-weight="bold" text-anchor="middle">anti-Ly49E</text>
<path d="M12.2 28V59.2" stroke="#222" stroke-width="1.1" fill="none"/>
<path d="M12.3 24.4L9.9 31.2L12.3 29.6L14.7 31.2Z" stroke="none" stroke-width="1" fill="#111"/>
<text x="17.1" y="96.2" font-size="10.8" fill="#222" text-anchor="middle" textLength="58.5" lengthAdjust="spacingAndGlyphs" transform="rotate(-90 17.1 96.2)">Cell number</text>
<path d="M12.2 129.7V170.9H209.8" stroke="#333" stroke-width="1.2" fill="none"/>
<text x="220.4" y="175.9" font-size="11" fill="#333" textLength="23.2" lengthAdjust="spacingAndGlyphs">IFN-γ</text>
<path d="M254.7 170.9H437" stroke="#444" stroke-width="1.3" fill="none"/>
<path d="M443.9 170.8L435.6 167.9L437.8 170.8L435.6 173.8Z" stroke="#111" stroke-width="0.6" fill="#111"/>
<path d="M472 23.2H481.6V36.6M481.6 74V89H472" stroke="#222" stroke-width="1.1" fill="none"/>
<rect x="441.4" y="36.6" width="77.6" height="37.4" fill="#fff" stroke="#222" stroke-width="1.3"/>
<line x1="443.8" y1="45.5" x2="458.5" y2="45.5" stroke="#aaa" stroke-width="1.3" stroke-dasharray="1.5 0.6"/>
<text x="461.6" y="48" font-size="7.9" font-weight="bold" fill="#262626" textLength="54.4" lengthAdjust="spacingAndGlyphs">0 NK1.1 + BSA</text>
<line x1="443.8" y1="55.5" x2="458.5" y2="55.5" stroke="#111" stroke-width="1.8"/>
<text x="461.6" y="58" font-size="7.9" font-weight="bold" fill="#262626" textLength="54.4" lengthAdjust="spacingAndGlyphs">1 NK1.1 + BSA</text>
<line x1="443.8" y1="65.5" x2="458.5" y2="65.5" stroke="#d41a2e" stroke-width="1.8"/>
<text x="461.6" y="68" font-size="7.9" font-weight="bold" fill="#d41a2e" textLength="54.4" lengthAdjust="spacingAndGlyphs">1 NK1.1 + uPA</text>
<path d="M472 97.6H481.6V111.6M481.6 149.2V164.2H472" stroke="#222" stroke-width="1.1" fill="none"/>
<rect x="441.4" y="111.6" width="77.6" height="37.6" fill="#fff" stroke="#222" stroke-width="1.3"/>
<line x1="443.8" y1="120.5" x2="458.5" y2="120.5" stroke="#aaa" stroke-width="1.3" stroke-dasharray="1.5 0.6"/>
<text x="461.6" y="123" font-size="7.9" font-weight="bold" fill="#262626" textLength="54.4" lengthAdjust="spacingAndGlyphs">0 NK1.1 + BSA</text>
<line x1="443.8" y1="130.5" x2="458.5" y2="130.5" stroke="#111" stroke-width="1.8"/>
<text x="461.6" y="133" font-size="7.9" font-weight="bold" fill="#262626" textLength="54.4" lengthAdjust="spacingAndGlyphs">5 NK1.1 + BSA</text>
<line x1="443.8" y1="140.5" x2="458.5" y2="140.5" stroke="#d41a2e" stroke-width="1.8"/>
<text x="461.6" y="143" font-size="7.9" font-weight="bold" fill="#d41a2e" textLength="54.4" lengthAdjust="spacingAndGlyphs">5 NK1.1 + uPA</text>
<path d="M29 242.5h1M32 242.5h2M37 242.5h1M21 243.5h5M27 243.5h12M51 243.5h1M21 244.5h23M21 245.5h4M26 245.5h12M39 245.5h2M42 245.5h1M56 245.5h1M19 246.5h22M46 246.5h1M48 246.5h1M52 246.5h1M20 247.5h13M35 247.5h6M42 247.5h1M50 247.5h1M54 247.5h1M56 247.5h1M19 248.5h17M38 248.5h1M40 248.5h1M42 248.5h1M55 248.5h1M19 249.5h2M22 249.5h3M26 249.5h1M28 249.5h3M32 249.5h8M42 249.5h1M44 249.5h1M47 249.5h1M58 249.5h1M20 250.5h6M27 250.5h7M35 250.5h1M37 250.5h3M41 250.5h1M62 250.5h1M22 251.5h19M42 251.5h1M53 251.5h1M19 252.5h7M27 252.5h10M38 252.5h3M43 252.5h1M46 252.5h1M19 253.5h3M23 253.5h1M25 253.5h17M44 253.5h1M46 253.5h1M19 254.5h2M22 254.5h18M41 254.5h2M19 255.5h1M21 255.5h9M31 255.5h6M38 255.5h3M43 255.5h1M45 255.5h1M19 256.5h13M33 256.5h8M22 257.5h6M29 257.5h2M32 257.5h3M36 257.5h2M26 258.5h8M25 259.5h1M32 259.5h1M22 260.5h1M26 260.5h1M32 260.5h1M28 261.5h1M32 261.5h1M31 268.5h1M20 269.5h1M39 269.5h1" stroke="#7a7a7a" stroke-width="1" fill="none"/>
<line x1="41.5" y1="227.1" x2="41.5" y2="286.9" stroke="#333" stroke-width="1.1"/>
<line x1="14.8" y1="241.8" x2="64.3" y2="241.8" stroke="#505050" stroke-width="1.3"/>
<path d="M17.8 259.1H77.4V248.4" stroke="#1a1a1a" stroke-width="1.15" fill="none"/>
<text x="66.4" y="257.9" font-size="8" fill="#1a1a1a" textLength="8.8" lengthAdjust="spacingAndGlyphs" stroke="#1a1a1a" stroke-width="0.2">R1</text>
<line x1="64.5" y1="237.8" x2="75.6" y2="237.8" stroke="#2a2a2a" stroke-width="1.1"/>
<line x1="70.7" y1="229.3" x2="70.7" y2="243.5" stroke="#2a2a2a" stroke-width="1.1"/>
<text x="73.7" y="237.5" font-size="8.6" font-weight="bold" fill="#111" stroke="#111" stroke-width="0.3">8</text>
<rect x="17.8" y="227.1" width="65.4" height="59.8" fill="none" stroke="#111" stroke-width="1.5"/>
<line x1="14.8" y1="286.9" x2="17.8" y2="286.9" stroke="#222" stroke-width="1.0"/>
<line x1="16.2" y1="282.4" x2="17.8" y2="282.4" stroke="#555" stroke-width="0.6"/>
<line x1="16.2" y1="279.8" x2="17.8" y2="279.8" stroke="#555" stroke-width="0.6"/>
<line x1="16.2" y1="277.9" x2="17.8" y2="277.9" stroke="#555" stroke-width="0.6"/>
<line x1="16.2" y1="276.5" x2="17.8" y2="276.5" stroke="#555" stroke-width="0.6"/>
<line x1="16.2" y1="275.3" x2="17.8" y2="275.3" stroke="#555" stroke-width="0.6"/>
<line x1="16.2" y1="274.3" x2="17.8" y2="274.3" stroke="#555" stroke-width="0.6"/>
<line x1="16.2" y1="273.4" x2="17.8" y2="273.4" stroke="#555" stroke-width="0.6"/>
<line x1="16.2" y1="272.6" x2="17.8" y2="272.6" stroke="#555" stroke-width="0.6"/>
<line x1="14.8" y1="271.9" x2="17.8" y2="271.9" stroke="#222" stroke-width="1.0"/>
<line x1="16.2" y1="267.4" x2="17.8" y2="267.4" stroke="#555" stroke-width="0.6"/>
<line x1="16.2" y1="264.8" x2="17.8" y2="264.8" stroke="#555" stroke-width="0.6"/>
<line x1="16.2" y1="262.9" x2="17.8" y2="262.9" stroke="#555" stroke-width="0.6"/>
<line x1="16.2" y1="261.5" x2="17.8" y2="261.5" stroke="#555" stroke-width="0.6"/>
<line x1="16.2" y1="260.3" x2="17.8" y2="260.3" stroke="#555" stroke-width="0.6"/>
<line x1="16.2" y1="259.3" x2="17.8" y2="259.3" stroke="#555" stroke-width="0.6"/>
<line x1="16.2" y1="258.4" x2="17.8" y2="258.4" stroke="#555" stroke-width="0.6"/>
<line x1="16.2" y1="257.7" x2="17.8" y2="257.7" stroke="#555" stroke-width="0.6"/>
<line x1="14.8" y1="257" x2="17.8" y2="257" stroke="#222" stroke-width="1.0"/>
<line x1="16.2" y1="252.5" x2="17.8" y2="252.5" stroke="#555" stroke-width="0.6"/>
<line x1="16.2" y1="249.9" x2="17.8" y2="249.9" stroke="#555" stroke-width="0.6"/>
<line x1="16.2" y1="248" x2="17.8" y2="248" stroke="#555" stroke-width="0.6"/>
<line x1="16.2" y1="246.6" x2="17.8" y2="246.6" stroke="#555" stroke-width="0.6"/>
<line x1="16.2" y1="245.4" x2="17.8" y2="245.4" stroke="#555" stroke-width="0.6"/>
<line x1="16.2" y1="244.4" x2="17.8" y2="244.4" stroke="#555" stroke-width="0.6"/>
<line x1="16.2" y1="243.5" x2="17.8" y2="243.5" stroke="#555" stroke-width="0.6"/>
<line x1="16.2" y1="242.7" x2="17.8" y2="242.7" stroke="#555" stroke-width="0.6"/>
<line x1="14.8" y1="242" x2="17.8" y2="242" stroke="#222" stroke-width="1.0"/>
<line x1="16.2" y1="237.5" x2="17.8" y2="237.5" stroke="#555" stroke-width="0.6"/>
<line x1="16.2" y1="234.9" x2="17.8" y2="234.9" stroke="#555" stroke-width="0.6"/>
<line x1="16.2" y1="233" x2="17.8" y2="233" stroke="#555" stroke-width="0.6"/>
<line x1="16.2" y1="231.6" x2="17.8" y2="231.6" stroke="#555" stroke-width="0.6"/>
<line x1="16.2" y1="230.4" x2="17.8" y2="230.4" stroke="#555" stroke-width="0.6"/>
<line x1="16.2" y1="229.4" x2="17.8" y2="229.4" stroke="#555" stroke-width="0.6"/>
<line x1="16.2" y1="228.5" x2="17.8" y2="228.5" stroke="#555" stroke-width="0.6"/>
<line x1="16.2" y1="227.8" x2="17.8" y2="227.8" stroke="#555" stroke-width="0.6"/>
<line x1="14.8" y1="227.1" x2="17.8" y2="227.1" stroke="#222" stroke-width="1.0"/>
<line x1="17.8" y1="286.9" x2="17.8" y2="289.9" stroke="#222" stroke-width="1.0"/>
<line x1="22.7" y1="286.9" x2="22.7" y2="288.5" stroke="#555" stroke-width="0.6"/>
<line x1="25.6" y1="286.9" x2="25.6" y2="288.5" stroke="#555" stroke-width="0.6"/>
<line x1="27.6" y1="286.9" x2="27.6" y2="288.5" stroke="#555" stroke-width="0.6"/>
<line x1="29.2" y1="286.9" x2="29.2" y2="288.5" stroke="#555" stroke-width="0.6"/>
<line x1="30.5" y1="286.9" x2="30.5" y2="288.5" stroke="#555" stroke-width="0.6"/>
<line x1="31.6" y1="286.9" x2="31.6" y2="288.5" stroke="#555" stroke-width="0.6"/>
<line x1="32.6" y1="286.9" x2="32.6" y2="288.5" stroke="#555" stroke-width="0.6"/>
<line x1="33.4" y1="286.9" x2="33.4" y2="288.5" stroke="#555" stroke-width="0.6"/>
<line x1="34.2" y1="286.9" x2="34.2" y2="289.9" stroke="#222" stroke-width="1.0"/>
<line x1="39.1" y1="286.9" x2="39.1" y2="288.5" stroke="#555" stroke-width="0.6"/>
<line x1="42" y1="286.9" x2="42" y2="288.5" stroke="#555" stroke-width="0.6"/>
<line x1="44" y1="286.9" x2="44" y2="288.5" stroke="#555" stroke-width="0.6"/>
<line x1="45.6" y1="286.9" x2="45.6" y2="288.5" stroke="#555" stroke-width="0.6"/>
<line x1="46.9" y1="286.9" x2="46.9" y2="288.5" stroke="#555" stroke-width="0.6"/>
<line x1="48" y1="286.9" x2="48" y2="288.5" stroke="#555" stroke-width="0.6"/>
<line x1="48.9" y1="286.9" x2="48.9" y2="288.5" stroke="#555" stroke-width="0.6"/>
<line x1="49.8" y1="286.9" x2="49.8" y2="288.5" stroke="#555" stroke-width="0.6"/>
<line x1="50.5" y1="286.9" x2="50.5" y2="289.9" stroke="#222" stroke-width="1.0"/>
<line x1="55.4" y1="286.9" x2="55.4" y2="288.5" stroke="#555" stroke-width="0.6"/>
<line x1="58.3" y1="286.9" x2="58.3" y2="288.5" stroke="#555" stroke-width="0.6"/>
<line x1="60.3" y1="286.9" x2="60.3" y2="288.5" stroke="#555" stroke-width="0.6"/>
<line x1="61.9" y1="286.9" x2="61.9" y2="288.5" stroke="#555" stroke-width="0.6"/>
<line x1="63.2" y1="286.9" x2="63.2" y2="288.5" stroke="#555" stroke-width="0.6"/>
<line x1="64.3" y1="286.9" x2="64.3" y2="288.5" stroke="#555" stroke-width="0.6"/>
<line x1="65.3" y1="286.9" x2="65.3" y2="288.5" stroke="#555" stroke-width="0.6"/>
<line x1="66.1" y1="286.9" x2="66.1" y2="288.5" stroke="#555" stroke-width="0.6"/>
<line x1="66.9" y1="286.9" x2="66.9" y2="289.9" stroke="#222" stroke-width="1.0"/>
<line x1="71.8" y1="286.9" x2="71.8" y2="288.5" stroke="#555" stroke-width="0.6"/>
<line x1="74.7" y1="286.9" x2="74.7" y2="288.5" stroke="#555" stroke-width="0.6"/>
<line x1="76.7" y1="286.9" x2="76.7" y2="288.5" stroke="#555" stroke-width="0.6"/>
<line x1="78.3" y1="286.9" x2="78.3" y2="288.5" stroke="#555" stroke-width="0.6"/>
<line x1="79.6" y1="286.9" x2="79.6" y2="288.5" stroke="#555" stroke-width="0.6"/>
<line x1="80.7" y1="286.9" x2="80.7" y2="288.5" stroke="#555" stroke-width="0.6"/>
<line x1="81.6" y1="286.9" x2="81.6" y2="288.5" stroke="#555" stroke-width="0.6"/>
<line x1="82.5" y1="286.9" x2="82.5" y2="288.5" stroke="#555" stroke-width="0.6"/>
<line x1="83.2" y1="286.9" x2="83.2" y2="289.9" stroke="#222" stroke-width="1.0"/>
<path d="M96 242.5h1M101 242.5h2M104 242.5h1M106 242.5h1M122 242.5h1M133 242.5h1M96 243.5h9M106 243.5h5M120 243.5h1M94 244.5h2M97 244.5h8M106 244.5h8M115 244.5h1M117 244.5h2M123 244.5h2M127 244.5h1M92 245.5h1M94 245.5h9M104 245.5h11M118 245.5h2M124 245.5h1M131 245.5h1M92 246.5h14M107 246.5h7M116 246.5h1M119 246.5h1M128 246.5h1M138 246.5h1M141 246.5h1M91 247.5h1M93 247.5h3M97 247.5h4M102 247.5h12M115 247.5h1M118 247.5h2M121 247.5h1M123 247.5h1M126 247.5h2M129 247.5h1M91 248.5h3M95 248.5h3M99 248.5h8M108 248.5h1M110 248.5h3M115 248.5h2M119 248.5h2M91 249.5h14M106 249.5h1M108 249.5h8M118 249.5h3M123 249.5h1M93 250.5h6M100 250.5h1M102 250.5h10M116 250.5h2M92 251.5h24M124 251.5h1M91 252.5h11M103 252.5h5M109 252.5h4M115 252.5h1M119 252.5h1M121 252.5h1M124 252.5h1M91 253.5h16M108 253.5h1M110 253.5h4M124 253.5h1M126 253.5h1M92 254.5h15M108 254.5h2M111 254.5h3M123 254.5h1M130 254.5h1M91 255.5h15M107 255.5h4M112 255.5h3M116 255.5h2M94 256.5h8M103 256.5h4M108 256.5h3M112 256.5h2M94 257.5h16M112 257.5h1M95 258.5h2M98 258.5h1M100 258.5h8M97 259.5h1M110 259.5h1M100 260.5h1M109 260.5h2M104 261.5h1M92 263.5h1M119 272.5h1M115 279.5h1" stroke="#7a7a7a" stroke-width="1" fill="none"/>
<line x1="114.5" y1="227.1" x2="114.5" y2="286.9" stroke="#333" stroke-width="1.1"/>
<line x1="87.2" y1="241.8" x2="136.7" y2="241.8" stroke="#505050" stroke-width="1.3"/>
<path d="M90.2 259.1H149.8V248.4" stroke="#1a1a1a" stroke-width="1.15" fill="none"/>
<text x="138.8" y="257.9" font-size="8" fill="#1a1a1a" textLength="8.8" lengthAdjust="spacingAndGlyphs" stroke="#1a1a1a" stroke-width="0.2">R1</text>
<line x1="136.9" y1="237.8" x2="148" y2="237.8" stroke="#2a2a2a" stroke-width="1.1"/>
<line x1="143.1" y1="229.3" x2="143.1" y2="243.5" stroke="#2a2a2a" stroke-width="1.1"/>
<text x="146.1" y="237.5" font-size="8.6" font-weight="bold" fill="#111" stroke="#111" stroke-width="0.3">8</text>
<rect x="90.2" y="227.1" width="65.3" height="59.8" fill="none" stroke="#111" stroke-width="1.5"/>
<line x1="87.2" y1="286.9" x2="90.2" y2="286.9" stroke="#222" stroke-width="1.0"/>
<line x1="88.6" y1="282.4" x2="90.2" y2="282.4" stroke="#555" stroke-width="0.6"/>
<line x1="88.6" y1="279.8" x2="90.2" y2="279.8" stroke="#555" stroke-width="0.6"/>
<line x1="88.6" y1="277.9" x2="90.2" y2="277.9" stroke="#555" stroke-width="0.6"/>
<line x1="88.6" y1="276.5" x2="90.2" y2="276.5" stroke="#555" stroke-width="0.6"/>
<line x1="88.6" y1="275.3" x2="90.2" y2="275.3" stroke="#555" stroke-width="0.6"/>
<line x1="88.6" y1="274.3" x2="90.2" y2="274.3" stroke="#555" stroke-width="0.6"/>
<line x1="88.6" y1="273.4" x2="90.2" y2="273.4" stroke="#555" stroke-width="0.6"/>
<line x1="88.6" y1="272.6" x2="90.2" y2="272.6" stroke="#555" stroke-width="0.6"/>
<line x1="87.2" y1="271.9" x2="90.2" y2="271.9" stroke="#222" stroke-width="1.0"/>
<line x1="88.6" y1="267.4" x2="90.2" y2="267.4" stroke="#555" stroke-width="0.6"/>
<line x1="88.6" y1="264.8" x2="90.2" y2="264.8" stroke="#555" stroke-width="0.6"/>
<line x1="88.6" y1="262.9" x2="90.2" y2="262.9" stroke="#555" stroke-width="0.6"/>
<line x1="88.6" y1="261.5" x2="90.2" y2="261.5" stroke="#555" stroke-width="0.6"/>
<line x1="88.6" y1="260.3" x2="90.2" y2="260.3" stroke="#555" stroke-width="0.6"/>
<line x1="88.6" y1="259.3" x2="90.2" y2="259.3" stroke="#555" stroke-width="0.6"/>
<line x1="88.6" y1="258.4" x2="90.2" y2="258.4" stroke="#555" stroke-width="0.6"/>
<line x1="88.6" y1="257.7" x2="90.2" y2="257.7" stroke="#555" stroke-width="0.6"/>
<line x1="87.2" y1="257" x2="90.2" y2="257" stroke="#222" stroke-width="1.0"/>
<line x1="88.6" y1="252.5" x2="90.2" y2="252.5" stroke="#555" stroke-width="0.6"/>
<line x1="88.6" y1="249.9" x2="90.2" y2="249.9" stroke="#555" stroke-width="0.6"/>
<line x1="88.6" y1="248" x2="90.2" y2="248" stroke="#555" stroke-width="0.6"/>
<line x1="88.6" y1="246.6" x2="90.2" y2="246.6" stroke="#555" stroke-width="0.6"/>
<line x1="88.6" y1="245.4" x2="90.2" y2="245.4" stroke="#555" stroke-width="0.6"/>
<line x1="88.6" y1="244.4" x2="90.2" y2="244.4" stroke="#555" stroke-width="0.6"/>
<line x1="88.6" y1="243.5" x2="90.2" y2="243.5" stroke="#555" stroke-width="0.6"/>
<line x1="88.6" y1="242.7" x2="90.2" y2="242.7" stroke="#555" stroke-width="0.6"/>
<line x1="87.2" y1="242" x2="90.2" y2="242" stroke="#222" stroke-width="1.0"/>
<line x1="88.6" y1="237.5" x2="90.2" y2="237.5" stroke="#555" stroke-width="0.6"/>
<line x1="88.6" y1="234.9" x2="90.2" y2="234.9" stroke="#555" stroke-width="0.6"/>
<line x1="88.6" y1="233" x2="90.2" y2="233" stroke="#555" stroke-width="0.6"/>
<line x1="88.6" y1="231.6" x2="90.2" y2="231.6" stroke="#555" stroke-width="0.6"/>
<line x1="88.6" y1="230.4" x2="90.2" y2="230.4" stroke="#555" stroke-width="0.6"/>
<line x1="88.6" y1="229.4" x2="90.2" y2="229.4" stroke="#555" stroke-width="0.6"/>
<line x1="88.6" y1="228.5" x2="90.2" y2="228.5" stroke="#555" stroke-width="0.6"/>
<line x1="88.6" y1="227.8" x2="90.2" y2="227.8" stroke="#555" stroke-width="0.6"/>
<line x1="87.2" y1="227.1" x2="90.2" y2="227.1" stroke="#222" stroke-width="1.0"/>
<line x1="90.2" y1="286.9" x2="90.2" y2="289.9" stroke="#222" stroke-width="1.0"/>
<line x1="95.1" y1="286.9" x2="95.1" y2="288.5" stroke="#555" stroke-width="0.6"/>
<line x1="98" y1="286.9" x2="98" y2="288.5" stroke="#555" stroke-width="0.6"/>
<line x1="100" y1="286.9" x2="100" y2="288.5" stroke="#555" stroke-width="0.6"/>
<line x1="101.6" y1="286.9" x2="101.6" y2="288.5" stroke="#555" stroke-width="0.6"/>
<line x1="102.9" y1="286.9" x2="102.9" y2="288.5" stroke="#555" stroke-width="0.6"/>
<line x1="104" y1="286.9" x2="104" y2="288.5" stroke="#555" stroke-width="0.6"/>
<line x1="104.9" y1="286.9" x2="104.9" y2="288.5" stroke="#555" stroke-width="0.6"/>
<line x1="105.8" y1="286.9" x2="105.8" y2="288.5" stroke="#555" stroke-width="0.6"/>
<line x1="106.5" y1="286.9" x2="106.5" y2="289.9" stroke="#222" stroke-width="1.0"/>
<line x1="111.4" y1="286.9" x2="111.4" y2="288.5" stroke="#555" stroke-width="0.6"/>
<line x1="114.3" y1="286.9" x2="114.3" y2="288.5" stroke="#555" stroke-width="0.6"/>
<line x1="116.4" y1="286.9" x2="116.4" y2="288.5" stroke="#555" stroke-width="0.6"/>
<line x1="117.9" y1="286.9" x2="117.9" y2="288.5" stroke="#555" stroke-width="0.6"/>
<line x1="119.2" y1="286.9" x2="119.2" y2="288.5" stroke="#555" stroke-width="0.6"/>
<line x1="120.3" y1="286.9" x2="120.3" y2="288.5" stroke="#555" stroke-width="0.6"/>
<line x1="121.3" y1="286.9" x2="121.3" y2="288.5" stroke="#555" stroke-width="0.6"/>
<line x1="122.1" y1="286.9" x2="122.1" y2="288.5" stroke="#555" stroke-width="0.6"/>
<line x1="122.8" y1="286.9" x2="122.8" y2="289.9" stroke="#222" stroke-width="1.0"/>
<line x1="127.8" y1="286.9" x2="127.8" y2="288.5" stroke="#555" stroke-width="0.6"/>
<line x1="130.6" y1="286.9" x2="130.6" y2="288.5" stroke="#555" stroke-width="0.6"/>
<line x1="132.7" y1="286.9" x2="132.7" y2="288.5" stroke="#555" stroke-width="0.6"/>
<line x1="134.3" y1="286.9" x2="134.3" y2="288.5" stroke="#555" stroke-width="0.6"/>
<line x1="135.6" y1="286.9" x2="135.6" y2="288.5" stroke="#555" stroke-width="0.6"/>
<line x1="136.6" y1="286.9" x2="136.6" y2="288.5" stroke="#555" stroke-width="0.6"/>
<line x1="137.6" y1="286.9" x2="137.6" y2="288.5" stroke="#555" stroke-width="0.6"/>
<line x1="138.4" y1="286.9" x2="138.4" y2="288.5" stroke="#555" stroke-width="0.6"/>
<line x1="139.2" y1="286.9" x2="139.2" y2="289.9" stroke="#222" stroke-width="1.0"/>
<line x1="144.1" y1="286.9" x2="144.1" y2="288.5" stroke="#555" stroke-width="0.6"/>
<line x1="147" y1="286.9" x2="147" y2="288.5" stroke="#555" stroke-width="0.6"/>
<line x1="149" y1="286.9" x2="149" y2="288.5" stroke="#555" stroke-width="0.6"/>
<line x1="150.6" y1="286.9" x2="150.6" y2="288.5" stroke="#555" stroke-width="0.6"/>
<line x1="151.9" y1="286.9" x2="151.9" y2="288.5" stroke="#555" stroke-width="0.6"/>
<line x1="153" y1="286.9" x2="153" y2="288.5" stroke="#555" stroke-width="0.6"/>
<line x1="153.9" y1="286.9" x2="153.9" y2="288.5" stroke="#555" stroke-width="0.6"/>
<line x1="154.8" y1="286.9" x2="154.8" y2="288.5" stroke="#555" stroke-width="0.6"/>
<line x1="155.5" y1="286.9" x2="155.5" y2="289.9" stroke="#222" stroke-width="1.0"/>
<path d="M178 237.5h1M197 237.5h1M175 239.5h1M185 239.5h1M182 241.5h1M180 242.5h1M184 242.5h1M186 242.5h1M193 242.5h1M202 242.5h1M174 243.5h4M179 243.5h2M182 243.5h4M187 243.5h1M191 243.5h1M193 243.5h1M195 243.5h1M198 243.5h1M172 244.5h2M175 244.5h1M179 244.5h3M183 244.5h1M185 244.5h4M190 244.5h1M192 244.5h1M194 244.5h1M196 244.5h1M174 245.5h2M177 245.5h1M179 245.5h7M187 245.5h6M196 245.5h1M199 245.5h1M225 245.5h2M172 246.5h1M175 246.5h5M181 246.5h12M194 246.5h2M175 247.5h12M188 247.5h6M196 247.5h1M198 247.5h1M201 247.5h1M203 247.5h2M172 248.5h1M174 248.5h2M177 248.5h1M179 248.5h8M188 248.5h5M194 248.5h1M197 248.5h1M172 249.5h2M175 249.5h18M194 249.5h1M196 249.5h1M202 249.5h1M208 249.5h1M173 250.5h3M177 250.5h3M181 250.5h2M184 250.5h5M190 250.5h5M196 250.5h1M200 250.5h1M205 250.5h1M172 251.5h19M192 251.5h7M201 251.5h2M175 252.5h4M180 252.5h16M197 252.5h3M221 252.5h1M172 253.5h18M191 253.5h6M199 253.5h1M201 253.5h1M204 253.5h1M218 253.5h1M174 254.5h1M176 254.5h23M201 254.5h1M204 254.5h1M206 254.5h1M208 254.5h1M172 255.5h24M199 255.5h1M202 255.5h3M173 256.5h1M175 256.5h18M194 256.5h5M200 256.5h2M207 256.5h1M172 257.5h24M197 257.5h1M199 257.5h2M203 257.5h1M207 257.5h1M209 257.5h1M173 258.5h25M172 259.5h28M202 259.5h1M207 259.5h1M173 260.5h22M196 260.5h3M200 260.5h1M204 260.5h2M207 260.5h2M213 260.5h1M224 260.5h1M172 261.5h29M203 261.5h2M172 262.5h4M177 262.5h21M199 262.5h3M204 262.5h1M174 263.5h24M200 263.5h1M173 264.5h24M198 264.5h2M205 264.5h1M172 265.5h3M176 265.5h23M207 265.5h1M173 266.5h20M195 266.5h4M203 266.5h1M214 266.5h1M226 266.5h1M172 267.5h18M191 267.5h6M198 267.5h2M172 268.5h1M174 268.5h2M177 268.5h18M196 268.5h5M202 268.5h1M223 268.5h1M172 269.5h29M203 269.5h1M173 270.5h22M196 270.5h1M202 270.5h1M224 270.5h1M175 271.5h19M195 271.5h1M197 271.5h1M199 271.5h1M201 271.5h1M203 271.5h1M206 271.5h1M172 272.5h8M181 272.5h19M173 273.5h22M196 273.5h1M200 273.5h2M220 273.5h1M173 274.5h1M175 274.5h2M178 274.5h18M197 274.5h1M208 274.5h1M212 274.5h1M172 275.5h2M175 275.5h2M178 275.5h4M185 275.5h8M194 275.5h3M198 275.5h2M172 276.5h4M177 276.5h20M198 276.5h1M200 276.5h1M205 276.5h1M220 276.5h1M175 277.5h7M183 277.5h3M188 277.5h6M198 277.5h1M201 277.5h1M204 277.5h1M226 277.5h1M173 278.5h4M178 278.5h2M181 278.5h8M190 278.5h4M195 278.5h1M198 278.5h2M174 279.5h13M188 279.5h4M195 279.5h4M173 280.5h1M175 280.5h2M178 280.5h2M181 280.5h7M189 280.5h1M194 280.5h1M197 280.5h1M199 280.5h2M175 281.5h6M183 281.5h6M190 281.5h3M195 281.5h2M198 281.5h1M200 281.5h1M172 282.5h1M176 282.5h4M181 282.5h9M192 282.5h1M173 283.5h1M176 283.5h3M180 283.5h2M183 283.5h3M188 283.5h3M192 283.5h1M194 283.5h1M196 283.5h1M199 283.5h1M201 283.5h1M178 284.5h1M180 284.5h3M184 284.5h1M186 284.5h3M190 284.5h1M192 284.5h1M225 284.5h1M175 285.5h1M180 285.5h1M182 285.5h2M185 285.5h8M194 285.5h1M197 285.5h1" stroke="#7a7a7a" stroke-width="1" fill="none"/>
<line x1="194.5" y1="227.1" x2="194.5" y2="286.9" stroke="#333" stroke-width="1.1"/>
<line x1="167.6" y1="241.9" x2="211.3" y2="241.9" stroke="#505050" stroke-width="1.3"/>
<path d="M224.6 241.9H230.3V259H171.1" stroke="#1a1a1a" stroke-width="1.15" fill="none"/>
<path d="M171.1 267.4H230.3V286.9" stroke="#1a1a1a" stroke-width="1.15" fill="none"/>
<text x="219.9" y="257" font-size="8" fill="#1a1a1a" textLength="8.8" lengthAdjust="spacingAndGlyphs" stroke="#1a1a1a" stroke-width="0.2">R2</text>
<text x="219.3" y="285.6" font-size="8" fill="#1a1a1a" textLength="8.8" lengthAdjust="spacingAndGlyphs" stroke="#1a1a1a" stroke-width="0.2">R3</text>
<line x1="211.9" y1="237" x2="229.1" y2="237" stroke="#555" stroke-width="1"/>
<line x1="211.9" y1="238.5" x2="229.1" y2="238.5" stroke="#555" stroke-width="1"/>
<line x1="218.5" y1="230" x2="218.5" y2="245.9" stroke="#222" stroke-width="1.1"/>
<text x="218.5" y="236.3" font-size="8.6" font-weight="bold" fill="#111" stroke="#111" stroke-width="0.3">7</text>
<text x="218.5" y="245.9" font-size="8.6" font-weight="bold" fill="#111" stroke="#111" stroke-width="0.3">8</text>
<rect x="171.1" y="227.1" width="64.4" height="59.8" fill="none" stroke="#111" stroke-width="1.5"/>
<line x1="168.1" y1="286.9" x2="171.1" y2="286.9" stroke="#222" stroke-width="1.0"/>
<line x1="169.5" y1="282.4" x2="171.1" y2="282.4" stroke="#555" stroke-width="0.6"/>
<line x1="169.5" y1="279.8" x2="171.1" y2="279.8" stroke="#555" stroke-width="0.6"/>
<line x1="169.5" y1="277.9" x2="171.1" y2="277.9" stroke="#555" stroke-width="0.6"/>
<line x1="169.5" y1="276.5" x2="171.1" y2="276.5" stroke="#555" stroke-width="0.6"/>
<line x1="169.5" y1="275.3" x2="171.1" y2="275.3" stroke="#555" stroke-width="0.6"/>
<line x1="169.5" y1="274.3" x2="171.1" y2="274.3" stroke="#555" stroke-width="0.6"/>
<line x1="169.5" y1="273.4" x2="171.1" y2="273.4" stroke="#555" stroke-width="0.6"/>
<line x1="169.5" y1="272.6" x2="171.1" y2="272.6" stroke="#555" stroke-width="0.6"/>
<line x1="168.1" y1="271.9" x2="171.1" y2="271.9" stroke="#222" stroke-width="1.0"/>
<line x1="169.5" y1="267.4" x2="171.1" y2="267.4" stroke="#555" stroke-width="0.6"/>
<line x1="169.5" y1="264.8" x2="171.1" y2="264.8" stroke="#555" stroke-width="0.6"/>
<line x1="169.5" y1="262.9" x2="171.1" y2="262.9" stroke="#555" stroke-width="0.6"/>
<line x1="169.5" y1="261.5" x2="171.1" y2="261.5" stroke="#555" stroke-width="0.6"/>
<line x1="169.5" y1="260.3" x2="171.1" y2="260.3" stroke="#555" stroke-width="0.6"/>
<line x1="169.5" y1="259.3" x2="171.1" y2="259.3" stroke="#555" stroke-width="0.6"/>
<line x1="169.5" y1="258.4" x2="171.1" y2="258.4" stroke="#555" stroke-width="0.6"/>
<line x1="169.5" y1="257.7" x2="171.1" y2="257.7" stroke="#555" stroke-width="0.6"/>
<line x1="168.1" y1="257" x2="171.1" y2="257" stroke="#222" stroke-width="1.0"/>
<line x1="169.5" y1="252.5" x2="171.1" y2="252.5" stroke="#555" stroke-width="0.6"/>
<line x1="169.5" y1="249.9" x2="171.1" y2="249.9" stroke="#555" stroke-width="0.6"/>
<line x1="169.5" y1="248" x2="171.1" y2="248" stroke="#555" stroke-width="0.6"/>
<line x1="169.5" y1="246.6" x2="171.1" y2="246.6" stroke="#555" stroke-width="0.6"/>
<line x1="169.5" y1="245.4" x2="171.1" y2="245.4" stroke="#555" stroke-width="0.6"/>
<line x1="169.5" y1="244.4" x2="171.1" y2="244.4" stroke="#555" stroke-width="0.6"/>
<line x1="169.5" y1="243.5" x2="171.1" y2="243.5" stroke="#555" stroke-width="0.6"/>
<line x1="169.5" y1="242.7" x2="171.1" y2="242.7" stroke="#555" stroke-width="0.6"/>
<line x1="168.1" y1="242" x2="171.1" y2="242" stroke="#222" stroke-width="1.0"/>
<line x1="169.5" y1="237.5" x2="171.1" y2="237.5" stroke="#555" stroke-width="0.6"/>
<line x1="169.5" y1="234.9" x2="171.1" y2="234.9" stroke="#555" stroke-width="0.6"/>
<line x1="169.5" y1="233" x2="171.1" y2="233" stroke="#555" stroke-width="0.6"/>
<line x1="169.5" y1="231.6" x2="171.1" y2="231.6" stroke="#555" stroke-width="0.6"/>
<line x1="169.5" y1="230.4" x2="171.1" y2="230.4" stroke="#555" stroke-width="0.6"/>
<line x1="169.5" y1="229.4" x2="171.1" y2="229.4" stroke="#555" stroke-width="0.6"/>
<line x1="169.5" y1="228.5" x2="171.1" y2="228.5" stroke="#555" stroke-width="0.6"/>
<line x1="169.5" y1="227.8" x2="171.1" y2="227.8" stroke="#555" stroke-width="0.6"/>
<line x1="168.1" y1="227.1" x2="171.1" y2="227.1" stroke="#222" stroke-width="1.0"/>
<line x1="171.1" y1="286.9" x2="171.1" y2="289.9" stroke="#222" stroke-width="1.0"/>
<line x1="175.9" y1="286.9" x2="175.9" y2="288.5" stroke="#555" stroke-width="0.6"/>
<line x1="178.8" y1="286.9" x2="178.8" y2="288.5" stroke="#555" stroke-width="0.6"/>
<line x1="180.8" y1="286.9" x2="180.8" y2="288.5" stroke="#555" stroke-width="0.6"/>
<line x1="182.4" y1="286.9" x2="182.4" y2="288.5" stroke="#555" stroke-width="0.6"/>
<line x1="183.6" y1="286.9" x2="183.6" y2="288.5" stroke="#555" stroke-width="0.6"/>
<line x1="184.7" y1="286.9" x2="184.7" y2="288.5" stroke="#555" stroke-width="0.6"/>
<line x1="185.6" y1="286.9" x2="185.6" y2="288.5" stroke="#555" stroke-width="0.6"/>
<line x1="186.5" y1="286.9" x2="186.5" y2="288.5" stroke="#555" stroke-width="0.6"/>
<line x1="187.2" y1="286.9" x2="187.2" y2="289.9" stroke="#222" stroke-width="1.0"/>
<line x1="192" y1="286.9" x2="192" y2="288.5" stroke="#555" stroke-width="0.6"/>
<line x1="194.9" y1="286.9" x2="194.9" y2="288.5" stroke="#555" stroke-width="0.6"/>
<line x1="196.9" y1="286.9" x2="196.9" y2="288.5" stroke="#555" stroke-width="0.6"/>
<line x1="198.5" y1="286.9" x2="198.5" y2="288.5" stroke="#555" stroke-width="0.6"/>
<line x1="199.7" y1="286.9" x2="199.7" y2="288.5" stroke="#555" stroke-width="0.6"/>
<line x1="200.8" y1="286.9" x2="200.8" y2="288.5" stroke="#555" stroke-width="0.6"/>
<line x1="201.7" y1="286.9" x2="201.7" y2="288.5" stroke="#555" stroke-width="0.6"/>
<line x1="202.6" y1="286.9" x2="202.6" y2="288.5" stroke="#555" stroke-width="0.6"/>
<line x1="203.3" y1="286.9" x2="203.3" y2="289.9" stroke="#222" stroke-width="1.0"/>
<line x1="208.1" y1="286.9" x2="208.1" y2="288.5" stroke="#555" stroke-width="0.6"/>
<line x1="211" y1="286.9" x2="211" y2="288.5" stroke="#555" stroke-width="0.6"/>
<line x1="213" y1="286.9" x2="213" y2="288.5" stroke="#555" stroke-width="0.6"/>
<line x1="214.6" y1="286.9" x2="214.6" y2="288.5" stroke="#555" stroke-width="0.6"/>
<line x1="215.8" y1="286.9" x2="215.8" y2="288.5" stroke="#555" stroke-width="0.6"/>
<line x1="216.9" y1="286.9" x2="216.9" y2="288.5" stroke="#555" stroke-width="0.6"/>
<line x1="217.8" y1="286.9" x2="217.8" y2="288.5" stroke="#555" stroke-width="0.6"/>
<line x1="218.7" y1="286.9" x2="218.7" y2="288.5" stroke="#555" stroke-width="0.6"/>
<line x1="219.4" y1="286.9" x2="219.4" y2="289.9" stroke="#222" stroke-width="1.0"/>
<line x1="224.2" y1="286.9" x2="224.2" y2="288.5" stroke="#555" stroke-width="0.6"/>
<line x1="227.1" y1="286.9" x2="227.1" y2="288.5" stroke="#555" stroke-width="0.6"/>
<line x1="229.1" y1="286.9" x2="229.1" y2="288.5" stroke="#555" stroke-width="0.6"/>
<line x1="230.7" y1="286.9" x2="230.7" y2="288.5" stroke="#555" stroke-width="0.6"/>
<line x1="231.9" y1="286.9" x2="231.9" y2="288.5" stroke="#555" stroke-width="0.6"/>
<line x1="233" y1="286.9" x2="233" y2="288.5" stroke="#555" stroke-width="0.6"/>
<line x1="233.9" y1="286.9" x2="233.9" y2="288.5" stroke="#555" stroke-width="0.6"/>
<line x1="234.8" y1="286.9" x2="234.8" y2="288.5" stroke="#555" stroke-width="0.6"/>
<line x1="235.5" y1="286.9" x2="235.5" y2="289.9" stroke="#222" stroke-width="1.0"/>
<path d="M255 230.5h1M251 234.5h1M256 234.5h1M269 234.5h1M257 237.5h1M253 239.5h1M253 240.5h1M251 241.5h1M263 241.5h1M252 242.5h1M245 243.5h1M248 243.5h1M250 243.5h1M254 243.5h3M260 243.5h1M264 243.5h1M289 243.5h1M248 244.5h7M256 244.5h2M259 244.5h2M263 244.5h1M266 244.5h1M268 244.5h1M247 245.5h1M249 245.5h2M252 245.5h8M263 245.5h1M266 245.5h1M280 245.5h2M245 246.5h1M248 246.5h2M251 246.5h12M264 246.5h1M267 246.5h1M271 246.5h3M247 247.5h1M249 247.5h5M255 247.5h2M258 247.5h6M266 247.5h1M289 247.5h1M245 248.5h3M249 248.5h6M257 248.5h4M262 248.5h1M265 248.5h1M270 248.5h1M275 248.5h1M245 249.5h2M248 249.5h2M251 249.5h11M263 249.5h1M265 249.5h2M268 249.5h1M275 249.5h1M245 250.5h2M249 250.5h1M251 250.5h2M254 250.5h9M264 250.5h3M246 251.5h1M249 251.5h1M251 251.5h2M254 251.5h8M263 251.5h3M267 251.5h1M245 252.5h19M265 252.5h3M269 252.5h2M277 252.5h1M245 253.5h1M247 253.5h18M266 253.5h1M268 253.5h1M273 253.5h1M298 253.5h1M245 254.5h3M249 254.5h10M260 254.5h8M269 254.5h1M272 254.5h2M245 255.5h15M261 255.5h5M267 255.5h3M277 255.5h1M245 256.5h23M269 256.5h3M245 257.5h19M265 257.5h5M272 257.5h1M277 257.5h1M246 258.5h22M270 258.5h2M273 258.5h1M287 258.5h1M246 259.5h2M249 259.5h11M261 259.5h6M268 259.5h3M272 259.5h1M282 259.5h1M245 260.5h24M271 260.5h2M277 260.5h1M245 261.5h2M248 261.5h22M271 261.5h1M277 261.5h2M288 261.5h1M245 262.5h28M280 262.5h1M245 263.5h26M272 263.5h1M275 263.5h1M277 263.5h1M245 264.5h26M276 264.5h1M245 265.5h23M269 265.5h3M275 265.5h1M245 266.5h3M249 266.5h21M278 266.5h1M284 266.5h1M245 267.5h23M270 267.5h1M272 267.5h1M245 268.5h23M270 268.5h1M272 268.5h1M274 268.5h1M277 268.5h1M280 268.5h1M245 269.5h1M247 269.5h21M269 269.5h3M273 269.5h1M275 269.5h1M278 269.5h1M245 270.5h3M249 270.5h20M271 270.5h1M274 270.5h2M281 270.5h1M288 270.5h1M245 271.5h20M266 271.5h4M245 272.5h16M262 272.5h9M290 272.5h1M245 273.5h26M273 273.5h1M275 273.5h1M277 273.5h1M245 274.5h1M247 274.5h1M249 274.5h18M268 274.5h7M276 274.5h1M246 275.5h3M250 275.5h14M266 275.5h3M270 275.5h3M245 276.5h23M270 276.5h1M277 276.5h1M245 277.5h24M270 277.5h1M275 277.5h1M280 277.5h1M245 278.5h3M249 278.5h16M269 278.5h1M245 279.5h1M248 279.5h19M269 279.5h3M279 279.5h1M245 280.5h6M252 280.5h3M256 280.5h7M264 280.5h3M268 280.5h1M272 280.5h1M245 281.5h1M247 281.5h16M264 281.5h2M267 281.5h1M269 281.5h2M249 282.5h2M252 282.5h2M255 282.5h2M258 282.5h2M261 282.5h1M264 282.5h1M245 283.5h1M248 283.5h1M251 283.5h2M254 283.5h7M262 283.5h1M264 283.5h1M277 283.5h1M282 283.5h1M248 284.5h14M263 284.5h1M265 284.5h1M267 284.5h2M294 284.5h1M245 285.5h1M248 285.5h1M252 285.5h5M258 285.5h4M263 285.5h1M266 285.5h1M268 285.5h1" stroke="#7a7a7a" stroke-width="1" fill="none"/>
<line x1="267.5" y1="227.1" x2="267.5" y2="286.9" stroke="#333" stroke-width="1.1"/>
<line x1="240.1" y1="241.9" x2="283.8" y2="241.9" stroke="#505050" stroke-width="1.3"/>
<path d="M297.1 241.9H302.8V259H243.6" stroke="#1a1a1a" stroke-width="1.15" fill="none"/>
<path d="M243.6 267.4H302.8V286.9" stroke="#1a1a1a" stroke-width="1.15" fill="none"/>
<text x="292.4" y="257" font-size="8" fill="#1a1a1a" textLength="8.8" lengthAdjust="spacingAndGlyphs" stroke="#1a1a1a" stroke-width="0.2">R2</text>
<text x="291.8" y="285.6" font-size="8" fill="#1a1a1a" textLength="8.8" lengthAdjust="spacingAndGlyphs" stroke="#1a1a1a" stroke-width="0.2">R3</text>
<line x1="284.4" y1="237" x2="301.6" y2="237" stroke="#555" stroke-width="1"/>
<line x1="284.4" y1="238.5" x2="301.6" y2="238.5" stroke="#555" stroke-width="1"/>
<line x1="291" y1="230" x2="291" y2="245.9" stroke="#222" stroke-width="1.1"/>
<text x="291" y="236.3" font-size="8.6" font-weight="bold" fill="#111" stroke="#111" stroke-width="0.3">7</text>
<text x="291" y="245.9" font-size="8.6" font-weight="bold" fill="#111" stroke="#111" stroke-width="0.3">8</text>
<rect x="243.6" y="227.1" width="64.6" height="59.8" fill="none" stroke="#111" stroke-width="1.5"/>
<line x1="240.6" y1="286.9" x2="243.6" y2="286.9" stroke="#222" stroke-width="1.0"/>
<line x1="242" y1="282.4" x2="243.6" y2="282.4" stroke="#555" stroke-width="0.6"/>
<line x1="242" y1="279.8" x2="243.6" y2="279.8" stroke="#555" stroke-width="0.6"/>
<line x1="242" y1="277.9" x2="243.6" y2="277.9" stroke="#555" stroke-width="0.6"/>
<line x1="242" y1="276.5" x2="243.6" y2="276.5" stroke="#555" stroke-width="0.6"/>
<line x1="242" y1="275.3" x2="243.6" y2="275.3" stroke="#555" stroke-width="0.6"/>
<line x1="242" y1="274.3" x2="243.6" y2="274.3" stroke="#555" stroke-width="0.6"/>
<line x1="242" y1="273.4" x2="243.6" y2="273.4" stroke="#555" stroke-width="0.6"/>
<line x1="242" y1="272.6" x2="243.6" y2="272.6" stroke="#555" stroke-width="0.6"/>
<line x1="240.6" y1="271.9" x2="243.6" y2="271.9" stroke="#222" stroke-width="1.0"/>
<line x1="242" y1="267.4" x2="243.6" y2="267.4" stroke="#555" stroke-width="0.6"/>
<line x1="242" y1="264.8" x2="243.6" y2="264.8" stroke="#555" stroke-width="0.6"/>
<line x1="242" y1="262.9" x2="243.6" y2="262.9" stroke="#555" stroke-width="0.6"/>
<line x1="242" y1="261.5" x2="243.6" y2="261.5" stroke="#555" stroke-width="0.6"/>
<line x1="242" y1="260.3" x2="243.6" y2="260.3" stroke="#555" stroke-width="0.6"/>
<line x1="242" y1="259.3" x2="243.6" y2="259.3" stroke="#555" stroke-width="0.6"/>
<line x1="242" y1="258.4" x2="243.6" y2="258.4" stroke="#555" stroke-width="0.6"/>
<line x1="242" y1="257.7" x2="243.6" y2="257.7" stroke="#555" stroke-width="0.6"/>
<line x1="240.6" y1="257" x2="243.6" y2="257" stroke="#222" stroke-width="1.0"/>
<line x1="242" y1="252.5" x2="243.6" y2="252.5" stroke="#555" stroke-width="0.6"/>
<line x1="242" y1="249.9" x2="243.6" y2="249.9" stroke="#555" stroke-width="0.6"/>
<line x1="242" y1="248" x2="243.6" y2="248" stroke="#555" stroke-width="0.6"/>
<line x1="242" y1="246.6" x2="243.6" y2="246.6" stroke="#555" stroke-width="0.6"/>
<line x1="242" y1="245.4" x2="243.6" y2="245.4" stroke="#555" stroke-width="0.6"/>
<line x1="242" y1="244.4" x2="243.6" y2="244.4" stroke="#555" stroke-width="0.6"/>
<line x1="242" y1="243.5" x2="243.6" y2="243.5" stroke="#555" stroke-width="0.6"/>
<line x1="242" y1="242.7" x2="243.6" y2="242.7" stroke="#555" stroke-width="0.6"/>
<line x1="240.6" y1="242" x2="243.6" y2="242" stroke="#222" stroke-width="1.0"/>
<line x1="242" y1="237.5" x2="243.6" y2="237.5" stroke="#555" stroke-width="0.6"/>
<line x1="242" y1="234.9" x2="243.6" y2="234.9" stroke="#555" stroke-width="0.6"/>
<line x1="242" y1="233" x2="243.6" y2="233" stroke="#555" stroke-width="0.6"/>
<line x1="242" y1="231.6" x2="243.6" y2="231.6" stroke="#555" stroke-width="0.6"/>
<line x1="242" y1="230.4" x2="243.6" y2="230.4" stroke="#555" stroke-width="0.6"/>
<line x1="242" y1="229.4" x2="243.6" y2="229.4" stroke="#555" stroke-width="0.6"/>
<line x1="242" y1="228.5" x2="243.6" y2="228.5" stroke="#555" stroke-width="0.6"/>
<line x1="242" y1="227.8" x2="243.6" y2="227.8" stroke="#555" stroke-width="0.6"/>
<line x1="240.6" y1="227.1" x2="243.6" y2="227.1" stroke="#222" stroke-width="1.0"/>
<line x1="243.6" y1="286.9" x2="243.6" y2="289.9" stroke="#222" stroke-width="1.0"/>
<line x1="248.5" y1="286.9" x2="248.5" y2="288.5" stroke="#555" stroke-width="0.6"/>
<line x1="251.3" y1="286.9" x2="251.3" y2="288.5" stroke="#555" stroke-width="0.6"/>
<line x1="253.3" y1="286.9" x2="253.3" y2="288.5" stroke="#555" stroke-width="0.6"/>
<line x1="254.9" y1="286.9" x2="254.9" y2="288.5" stroke="#555" stroke-width="0.6"/>
<line x1="256.2" y1="286.9" x2="256.2" y2="288.5" stroke="#555" stroke-width="0.6"/>
<line x1="257.2" y1="286.9" x2="257.2" y2="288.5" stroke="#555" stroke-width="0.6"/>
<line x1="258.2" y1="286.9" x2="258.2" y2="288.5" stroke="#555" stroke-width="0.6"/>
<line x1="259" y1="286.9" x2="259" y2="288.5" stroke="#555" stroke-width="0.6"/>
<line x1="259.8" y1="286.9" x2="259.8" y2="289.9" stroke="#222" stroke-width="1.0"/>
<line x1="264.6" y1="286.9" x2="264.6" y2="288.5" stroke="#555" stroke-width="0.6"/>
<line x1="267.5" y1="286.9" x2="267.5" y2="288.5" stroke="#555" stroke-width="0.6"/>
<line x1="269.5" y1="286.9" x2="269.5" y2="288.5" stroke="#555" stroke-width="0.6"/>
<line x1="271" y1="286.9" x2="271" y2="288.5" stroke="#555" stroke-width="0.6"/>
<line x1="272.3" y1="286.9" x2="272.3" y2="288.5" stroke="#555" stroke-width="0.6"/>
<line x1="273.4" y1="286.9" x2="273.4" y2="288.5" stroke="#555" stroke-width="0.6"/>
<line x1="274.3" y1="286.9" x2="274.3" y2="288.5" stroke="#555" stroke-width="0.6"/>
<line x1="275.2" y1="286.9" x2="275.2" y2="288.5" stroke="#555" stroke-width="0.6"/>
<line x1="275.9" y1="286.9" x2="275.9" y2="289.9" stroke="#222" stroke-width="1.0"/>
<line x1="280.8" y1="286.9" x2="280.8" y2="288.5" stroke="#555" stroke-width="0.6"/>
<line x1="283.6" y1="286.9" x2="283.6" y2="288.5" stroke="#555" stroke-width="0.6"/>
<line x1="285.6" y1="286.9" x2="285.6" y2="288.5" stroke="#555" stroke-width="0.6"/>
<line x1="287.2" y1="286.9" x2="287.2" y2="288.5" stroke="#555" stroke-width="0.6"/>
<line x1="288.5" y1="286.9" x2="288.5" y2="288.5" stroke="#555" stroke-width="0.6"/>
<line x1="289.5" y1="286.9" x2="289.5" y2="288.5" stroke="#555" stroke-width="0.6"/>
<line x1="290.5" y1="286.9" x2="290.5" y2="288.5" stroke="#555" stroke-width="0.6"/>
<line x1="291.3" y1="286.9" x2="291.3" y2="288.5" stroke="#555" stroke-width="0.6"/>
<line x1="292.1" y1="286.9" x2="292.1" y2="289.9" stroke="#222" stroke-width="1.0"/>
<line x1="296.9" y1="286.9" x2="296.9" y2="288.5" stroke="#555" stroke-width="0.6"/>
<line x1="299.8" y1="286.9" x2="299.8" y2="288.5" stroke="#555" stroke-width="0.6"/>
<line x1="301.8" y1="286.9" x2="301.8" y2="288.5" stroke="#555" stroke-width="0.6"/>
<line x1="303.3" y1="286.9" x2="303.3" y2="288.5" stroke="#555" stroke-width="0.6"/>
<line x1="304.6" y1="286.9" x2="304.6" y2="288.5" stroke="#555" stroke-width="0.6"/>
<line x1="305.7" y1="286.9" x2="305.7" y2="288.5" stroke="#555" stroke-width="0.6"/>
<line x1="306.6" y1="286.9" x2="306.6" y2="288.5" stroke="#555" stroke-width="0.6"/>
<line x1="307.5" y1="286.9" x2="307.5" y2="288.5" stroke="#555" stroke-width="0.6"/>
<line x1="308.2" y1="286.9" x2="308.2" y2="289.9" stroke="#222" stroke-width="1.0"/>
<path d="M30 309.5h1M38 309.5h1M22 310.5h1M25 310.5h1M27 310.5h4M32 310.5h2M35 310.5h1M40 310.5h2M44 310.5h2M47 310.5h1M49 310.5h1M54 310.5h1M63 310.5h1M69 310.5h1M76 310.5h1M21 311.5h1M23 311.5h3M27 311.5h6M34 311.5h5M41 311.5h1M44 311.5h3M19 312.5h1M21 312.5h6M29 312.5h3M33 312.5h8M43 312.5h2M51 312.5h1M54 312.5h1M56 312.5h1M60 312.5h1M66 312.5h1M19 313.5h22M42 313.5h1M46 313.5h2M20 314.5h3M24 314.5h11M36 314.5h7M70 314.5h1M21 315.5h8M30 315.5h12M46 315.5h2M56 315.5h1M19 316.5h1M21 316.5h8M30 316.5h7M38 316.5h6M50 316.5h1M53 316.5h1M58 316.5h1M78 316.5h1M19 317.5h2M22 317.5h1M24 317.5h11M36 317.5h5M42 317.5h2M20 318.5h8M29 318.5h6M36 318.5h5M42 318.5h1M47 318.5h2M50 318.5h3M61 318.5h1M20 319.5h17M38 319.5h8M47 319.5h3M54 319.5h1M19 320.5h21M42 320.5h3M47 320.5h1M50 320.5h2M66 320.5h1M20 321.5h6M28 321.5h7M36 321.5h2M39 321.5h5M46 321.5h1M49 321.5h2M20 322.5h1M22 322.5h1M24 322.5h9M34 322.5h8M47 322.5h1M50 322.5h1M20 323.5h1M23 323.5h4M28 323.5h1M31 323.5h2M34 323.5h9M44 323.5h1M20 324.5h3M24 324.5h15M22 325.5h1M25 325.5h5M31 325.5h5M37 325.5h1M39 325.5h2M29 326.5h2M34 326.5h1M26 327.5h1M38 327.5h1M32 328.5h1M36 328.5h3M22 330.5h1M24 348.5h1M53 348.5h1" stroke="#7a7a7a" stroke-width="1" fill="none"/>
<line x1="41.5" y1="294.7" x2="41.5" y2="354.4" stroke="#333" stroke-width="1.1"/>
<line x1="14.8" y1="309.4" x2="64.3" y2="309.4" stroke="#505050" stroke-width="1.3"/>
<path d="M17.8 326.7H77.4V316" stroke="#1a1a1a" stroke-width="1.15" fill="none"/>
<text x="66.4" y="325.5" font-size="8" fill="#1a1a1a" textLength="8.8" lengthAdjust="spacingAndGlyphs" stroke="#1a1a1a" stroke-width="0.2">R1</text>
<line x1="64.5" y1="305.4" x2="75.6" y2="305.4" stroke="#2a2a2a" stroke-width="1.1"/>
<line x1="70.7" y1="296.9" x2="70.7" y2="311.1" stroke="#2a2a2a" stroke-width="1.1"/>
<text x="73.7" y="305.1" font-size="8.6" font-weight="bold" fill="#111" stroke="#111" stroke-width="0.3">20</text>
<rect x="17.8" y="294.7" width="65.4" height="59.7" fill="none" stroke="#111" stroke-width="1.5"/>
<line x1="14.8" y1="354.4" x2="17.8" y2="354.4" stroke="#222" stroke-width="1.0"/>
<line x1="16.2" y1="349.9" x2="17.8" y2="349.9" stroke="#555" stroke-width="0.6"/>
<line x1="16.2" y1="347.3" x2="17.8" y2="347.3" stroke="#555" stroke-width="0.6"/>
<line x1="16.2" y1="345.4" x2="17.8" y2="345.4" stroke="#555" stroke-width="0.6"/>
<line x1="16.2" y1="344" x2="17.8" y2="344" stroke="#555" stroke-width="0.6"/>
<line x1="16.2" y1="342.8" x2="17.8" y2="342.8" stroke="#555" stroke-width="0.6"/>
<line x1="16.2" y1="341.8" x2="17.8" y2="341.8" stroke="#555" stroke-width="0.6"/>
<line x1="16.2" y1="340.9" x2="17.8" y2="340.9" stroke="#555" stroke-width="0.6"/>
<line x1="16.2" y1="340.2" x2="17.8" y2="340.2" stroke="#555" stroke-width="0.6"/>
<line x1="14.8" y1="339.5" x2="17.8" y2="339.5" stroke="#222" stroke-width="1.0"/>
<line x1="16.2" y1="335" x2="17.8" y2="335" stroke="#555" stroke-width="0.6"/>
<line x1="16.2" y1="332.4" x2="17.8" y2="332.4" stroke="#555" stroke-width="0.6"/>
<line x1="16.2" y1="330.5" x2="17.8" y2="330.5" stroke="#555" stroke-width="0.6"/>
<line x1="16.2" y1="329" x2="17.8" y2="329" stroke="#555" stroke-width="0.6"/>
<line x1="16.2" y1="327.9" x2="17.8" y2="327.9" stroke="#555" stroke-width="0.6"/>
<line x1="16.2" y1="326.9" x2="17.8" y2="326.9" stroke="#555" stroke-width="0.6"/>
<line x1="16.2" y1="326" x2="17.8" y2="326" stroke="#555" stroke-width="0.6"/>
<line x1="16.2" y1="325.2" x2="17.8" y2="325.2" stroke="#555" stroke-width="0.6"/>
<line x1="14.8" y1="324.5" x2="17.8" y2="324.5" stroke="#222" stroke-width="1.0"/>
<line x1="16.2" y1="320.1" x2="17.8" y2="320.1" stroke="#555" stroke-width="0.6"/>
<line x1="16.2" y1="317.4" x2="17.8" y2="317.4" stroke="#555" stroke-width="0.6"/>
<line x1="16.2" y1="315.6" x2="17.8" y2="315.6" stroke="#555" stroke-width="0.6"/>
<line x1="16.2" y1="314.1" x2="17.8" y2="314.1" stroke="#555" stroke-width="0.6"/>
<line x1="16.2" y1="312.9" x2="17.8" y2="312.9" stroke="#555" stroke-width="0.6"/>
<line x1="16.2" y1="311.9" x2="17.8" y2="311.9" stroke="#555" stroke-width="0.6"/>
<line x1="16.2" y1="311.1" x2="17.8" y2="311.1" stroke="#555" stroke-width="0.6"/>
<line x1="16.2" y1="310.3" x2="17.8" y2="310.3" stroke="#555" stroke-width="0.6"/>
<line x1="14.8" y1="309.6" x2="17.8" y2="309.6" stroke="#222" stroke-width="1.0"/>
<line x1="16.2" y1="305.1" x2="17.8" y2="305.1" stroke="#555" stroke-width="0.6"/>
<line x1="16.2" y1="302.5" x2="17.8" y2="302.5" stroke="#555" stroke-width="0.6"/>
<line x1="16.2" y1="300.6" x2="17.8" y2="300.6" stroke="#555" stroke-width="0.6"/>
<line x1="16.2" y1="299.2" x2="17.8" y2="299.2" stroke="#555" stroke-width="0.6"/>
<line x1="16.2" y1="298" x2="17.8" y2="298" stroke="#555" stroke-width="0.6"/>
<line x1="16.2" y1="297" x2="17.8" y2="297" stroke="#555" stroke-width="0.6"/>
<line x1="16.2" y1="296.1" x2="17.8" y2="296.1" stroke="#555" stroke-width="0.6"/>
<line x1="16.2" y1="295.4" x2="17.8" y2="295.4" stroke="#555" stroke-width="0.6"/>
<line x1="14.8" y1="294.7" x2="17.8" y2="294.7" stroke="#222" stroke-width="1.0"/>
<line x1="17.8" y1="354.4" x2="17.8" y2="357.4" stroke="#222" stroke-width="1.0"/>
<line x1="22.7" y1="354.4" x2="22.7" y2="356" stroke="#555" stroke-width="0.6"/>
<line x1="25.6" y1="354.4" x2="25.6" y2="356" stroke="#555" stroke-width="0.6"/>
<line x1="27.6" y1="354.4" x2="27.6" y2="356" stroke="#555" stroke-width="0.6"/>
<line x1="29.2" y1="354.4" x2="29.2" y2="356" stroke="#555" stroke-width="0.6"/>
<line x1="30.5" y1="354.4" x2="30.5" y2="356" stroke="#555" stroke-width="0.6"/>
<line x1="31.6" y1="354.4" x2="31.6" y2="356" stroke="#555" stroke-width="0.6"/>
<line x1="32.6" y1="354.4" x2="32.6" y2="356" stroke="#555" stroke-width="0.6"/>
<line x1="33.4" y1="354.4" x2="33.4" y2="356" stroke="#555" stroke-width="0.6"/>
<line x1="34.2" y1="354.4" x2="34.2" y2="357.4" stroke="#222" stroke-width="1.0"/>
<line x1="39.1" y1="354.4" x2="39.1" y2="356" stroke="#555" stroke-width="0.6"/>
<line x1="42" y1="354.4" x2="42" y2="356" stroke="#555" stroke-width="0.6"/>
<line x1="44" y1="354.4" x2="44" y2="356" stroke="#555" stroke-width="0.6"/>
<line x1="45.6" y1="354.4" x2="45.6" y2="356" stroke="#555" stroke-width="0.6"/>
<line x1="46.9" y1="354.4" x2="46.9" y2="356" stroke="#555" stroke-width="0.6"/>
<line x1="48" y1="354.4" x2="48" y2="356" stroke="#555" stroke-width="0.6"/>
<line x1="48.9" y1="354.4" x2="48.9" y2="356" stroke="#555" stroke-width="0.6"/>
<line x1="49.8" y1="354.4" x2="49.8" y2="356" stroke="#555" stroke-width="0.6"/>
<line x1="50.5" y1="354.4" x2="50.5" y2="357.4" stroke="#222" stroke-width="1.0"/>
<line x1="55.4" y1="354.4" x2="55.4" y2="356" stroke="#555" stroke-width="0.6"/>
<line x1="58.3" y1="354.4" x2="58.3" y2="356" stroke="#555" stroke-width="0.6"/>
<line x1="60.3" y1="354.4" x2="60.3" y2="356" stroke="#555" stroke-width="0.6"/>
<line x1="61.9" y1="354.4" x2="61.9" y2="356" stroke="#555" stroke-width="0.6"/>
<line x1="63.2" y1="354.4" x2="63.2" y2="356" stroke="#555" stroke-width="0.6"/>
<line x1="64.3" y1="354.4" x2="64.3" y2="356" stroke="#555" stroke-width="0.6"/>
<line x1="65.3" y1="354.4" x2="65.3" y2="356" stroke="#555" stroke-width="0.6"/>
<line x1="66.1" y1="354.4" x2="66.1" y2="356" stroke="#555" stroke-width="0.6"/>
<line x1="66.9" y1="354.4" x2="66.9" y2="357.4" stroke="#222" stroke-width="1.0"/>
<line x1="71.8" y1="354.4" x2="71.8" y2="356" stroke="#555" stroke-width="0.6"/>
<line x1="74.7" y1="354.4" x2="74.7" y2="356" stroke="#555" stroke-width="0.6"/>
<line x1="76.7" y1="354.4" x2="76.7" y2="356" stroke="#555" stroke-width="0.6"/>
<line x1="78.3" y1="354.4" x2="78.3" y2="356" stroke="#555" stroke-width="0.6"/>
<line x1="79.6" y1="354.4" x2="79.6" y2="356" stroke="#555" stroke-width="0.6"/>
<line x1="80.7" y1="354.4" x2="80.7" y2="356" stroke="#555" stroke-width="0.6"/>
<line x1="81.6" y1="354.4" x2="81.6" y2="356" stroke="#555" stroke-width="0.6"/>
<line x1="82.5" y1="354.4" x2="82.5" y2="356" stroke="#555" stroke-width="0.6"/>
<line x1="83.2" y1="354.4" x2="83.2" y2="357.4" stroke="#222" stroke-width="1.0"/>
<path d="M102 309.5h1M91 310.5h1M95 310.5h1M97 310.5h1M99 310.5h1M101 310.5h5M122 310.5h1M126 310.5h1M91 311.5h19M111 311.5h1M116 311.5h2M91 312.5h3M96 312.5h1M98 312.5h12M114 312.5h1M117 312.5h1M91 313.5h1M93 313.5h18M116 313.5h1M92 314.5h12M105 314.5h6M92 315.5h10M103 315.5h9M113 315.5h1M117 315.5h1M91 316.5h1M93 316.5h2M96 316.5h1M98 316.5h7M106 316.5h1M108 316.5h4M113 316.5h2M123 316.5h1M91 317.5h7M99 317.5h6M106 317.5h4M113 317.5h1M115 317.5h1M93 318.5h14M108 318.5h1M113 318.5h1M117 318.5h1M135 318.5h1M91 319.5h5M97 319.5h13M111 319.5h1M119 319.5h1M92 320.5h12M105 320.5h5M117 320.5h1M121 320.5h1M92 321.5h6M99 321.5h12M116 321.5h1M124 321.5h1M93 322.5h2M96 322.5h4M101 322.5h7M109 322.5h2M114 322.5h1M91 323.5h1M93 323.5h18M94 324.5h14M93 325.5h11M105 325.5h1M107 325.5h1M101 326.5h2M99 327.5h1M101 327.5h1M113 327.5h1M93 328.5h1M96 328.5h1M102 333.5h1M103 335.5h1M115 343.5h1" stroke="#7a7a7a" stroke-width="1" fill="none"/>
<line x1="114.5" y1="294.7" x2="114.5" y2="354.4" stroke="#333" stroke-width="1.1"/>
<line x1="87.2" y1="309.4" x2="136.7" y2="309.4" stroke="#505050" stroke-width="1.3"/>
<path d="M90.2 326.7H149.8V316" stroke="#1a1a1a" stroke-width="1.15" fill="none"/>
<text x="138.8" y="325.5" font-size="8" fill="#1a1a1a" textLength="8.8" lengthAdjust="spacingAndGlyphs" stroke="#1a1a1a" stroke-width="0.2">R1</text>
<line x1="136.9" y1="305.4" x2="148" y2="305.4" stroke="#2a2a2a" stroke-width="1.1"/>
<line x1="143.1" y1="296.9" x2="143.1" y2="311.1" stroke="#2a2a2a" stroke-width="1.1"/>
<text x="146.1" y="305.1" font-size="8.6" font-weight="bold" fill="#111" stroke="#111" stroke-width="0.3">6</text>
<rect x="90.2" y="294.7" width="65.3" height="59.7" fill="none" stroke="#111" stroke-width="1.5"/>
<line x1="87.2" y1="354.4" x2="90.2" y2="354.4" stroke="#222" stroke-width="1.0"/>
<line x1="88.6" y1="349.9" x2="90.2" y2="349.9" stroke="#555" stroke-width="0.6"/>
<line x1="88.6" y1="347.3" x2="90.2" y2="347.3" stroke="#555" stroke-width="0.6"/>
<line x1="88.6" y1="345.4" x2="90.2" y2="345.4" stroke="#555" stroke-width="0.6"/>
<line x1="88.6" y1="344" x2="90.2" y2="344" stroke="#555" stroke-width="0.6"/>
<line x1="88.6" y1="342.8" x2="90.2" y2="342.8" stroke="#555" stroke-width="0.6"/>
<line x1="88.6" y1="341.8" x2="90.2" y2="341.8" stroke="#555" stroke-width="0.6"/>
<line x1="88.6" y1="340.9" x2="90.2" y2="340.9" stroke="#555" stroke-width="0.6"/>
<line x1="88.6" y1="340.2" x2="90.2" y2="340.2" stroke="#555" stroke-width="0.6"/>
<line x1="87.2" y1="339.5" x2="90.2" y2="339.5" stroke="#222" stroke-width="1.0"/>
<line x1="88.6" y1="335" x2="90.2" y2="335" stroke="#555" stroke-width="0.6"/>
<line x1="88.6" y1="332.4" x2="90.2" y2="332.4" stroke="#555" stroke-width="0.6"/>
<line x1="88.6" y1="330.5" x2="90.2" y2="330.5" stroke="#555" stroke-width="0.6"/>
<line x1="88.6" y1="329" x2="90.2" y2="329" stroke="#555" stroke-width="0.6"/>
<line x1="88.6" y1="327.9" x2="90.2" y2="327.9" stroke="#555" stroke-width="0.6"/>
<line x1="88.6" y1="326.9" x2="90.2" y2="326.9" stroke="#555" stroke-width="0.6"/>
<line x1="88.6" y1="326" x2="90.2" y2="326" stroke="#555" stroke-width="0.6"/>
<line x1="88.6" y1="325.2" x2="90.2" y2="325.2" stroke="#555" stroke-width="0.6"/>
<line x1="87.2" y1="324.5" x2="90.2" y2="324.5" stroke="#222" stroke-width="1.0"/>
<line x1="88.6" y1="320.1" x2="90.2" y2="320.1" stroke="#555" stroke-width="0.6"/>
<line x1="88.6" y1="317.4" x2="90.2" y2="317.4" stroke="#555" stroke-width="0.6"/>
<line x1="88.6" y1="315.6" x2="90.2" y2="315.6" stroke="#555" stroke-width="0.6"/>
<line x1="88.6" y1="314.1" x2="90.2" y2="314.1" stroke="#555" stroke-width="0.6"/>
<line x1="88.6" y1="312.9" x2="90.2" y2="312.9" stroke="#555" stroke-width="0.6"/>
<line x1="88.6" y1="311.9" x2="90.2" y2="311.9" stroke="#555" stroke-width="0.6"/>
<line x1="88.6" y1="311.1" x2="90.2" y2="311.1" stroke="#555" stroke-width="0.6"/>
<line x1="88.6" y1="310.3" x2="90.2" y2="310.3" stroke="#555" stroke-width="0.6"/>
<line x1="87.2" y1="309.6" x2="90.2" y2="309.6" stroke="#222" stroke-width="1.0"/>
<line x1="88.6" y1="305.1" x2="90.2" y2="305.1" stroke="#555" stroke-width="0.6"/>
<line x1="88.6" y1="302.5" x2="90.2" y2="302.5" stroke="#555" stroke-width="0.6"/>
<line x1="88.6" y1="300.6" x2="90.2" y2="300.6" stroke="#555" stroke-width="0.6"/>
<line x1="88.6" y1="299.2" x2="90.2" y2="299.2" stroke="#555" stroke-width="0.6"/>
<line x1="88.6" y1="298" x2="90.2" y2="298" stroke="#555" stroke-width="0.6"/>
<line x1="88.6" y1="297" x2="90.2" y2="297" stroke="#555" stroke-width="0.6"/>
<line x1="88.6" y1="296.1" x2="90.2" y2="296.1" stroke="#555" stroke-width="0.6"/>
<line x1="88.6" y1="295.4" x2="90.2" y2="295.4" stroke="#555" stroke-width="0.6"/>
<line x1="87.2" y1="294.7" x2="90.2" y2="294.7" stroke="#222" stroke-width="1.0"/>
<line x1="90.2" y1="354.4" x2="90.2" y2="357.4" stroke="#222" stroke-width="1.0"/>
<line x1="95.1" y1="354.4" x2="95.1" y2="356" stroke="#555" stroke-width="0.6"/>
<line x1="98" y1="354.4" x2="98" y2="356" stroke="#555" stroke-width="0.6"/>
<line x1="100" y1="354.4" x2="100" y2="356" stroke="#555" stroke-width="0.6"/>
<line x1="101.6" y1="354.4" x2="101.6" y2="356" stroke="#555" stroke-width="0.6"/>
<line x1="102.9" y1="354.4" x2="102.9" y2="356" stroke="#555" stroke-width="0.6"/>
<line x1="104" y1="354.4" x2="104" y2="356" stroke="#555" stroke-width="0.6"/>
<line x1="104.9" y1="354.4" x2="104.9" y2="356" stroke="#555" stroke-width="0.6"/>
<line x1="105.8" y1="354.4" x2="105.8" y2="356" stroke="#555" stroke-width="0.6"/>
<line x1="106.5" y1="354.4" x2="106.5" y2="357.4" stroke="#222" stroke-width="1.0"/>
<line x1="111.4" y1="354.4" x2="111.4" y2="356" stroke="#555" stroke-width="0.6"/>
<line x1="114.3" y1="354.4" x2="114.3" y2="356" stroke="#555" stroke-width="0.6"/>
<line x1="116.4" y1="354.4" x2="116.4" y2="356" stroke="#555" stroke-width="0.6"/>
<line x1="117.9" y1="354.4" x2="117.9" y2="356" stroke="#555" stroke-width="0.6"/>
<line x1="119.2" y1="354.4" x2="119.2" y2="356" stroke="#555" stroke-width="0.6"/>
<line x1="120.3" y1="354.4" x2="120.3" y2="356" stroke="#555" stroke-width="0.6"/>
<line x1="121.3" y1="354.4" x2="121.3" y2="356" stroke="#555" stroke-width="0.6"/>
<line x1="122.1" y1="354.4" x2="122.1" y2="356" stroke="#555" stroke-width="0.6"/>
<line x1="122.8" y1="354.4" x2="122.8" y2="357.4" stroke="#222" stroke-width="1.0"/>
<line x1="127.8" y1="354.4" x2="127.8" y2="356" stroke="#555" stroke-width="0.6"/>
<line x1="130.6" y1="354.4" x2="130.6" y2="356" stroke="#555" stroke-width="0.6"/>
<line x1="132.7" y1="354.4" x2="132.7" y2="356" stroke="#555" stroke-width="0.6"/>
<line x1="134.3" y1="354.4" x2="134.3" y2="356" stroke="#555" stroke-width="0.6"/>
<line x1="135.6" y1="354.4" x2="135.6" y2="356" stroke="#555" stroke-width="0.6"/>
<line x1="136.6" y1="354.4" x2="136.6" y2="356" stroke="#555" stroke-width="0.6"/>
<line x1="137.6" y1="354.4" x2="137.6" y2="356" stroke="#555" stroke-width="0.6"/>
<line x1="138.4" y1="354.4" x2="138.4" y2="356" stroke="#555" stroke-width="0.6"/>
<line x1="139.2" y1="354.4" x2="139.2" y2="357.4" stroke="#222" stroke-width="1.0"/>
<line x1="144.1" y1="354.4" x2="144.1" y2="356" stroke="#555" stroke-width="0.6"/>
<line x1="147" y1="354.4" x2="147" y2="356" stroke="#555" stroke-width="0.6"/>
<line x1="149" y1="354.4" x2="149" y2="356" stroke="#555" stroke-width="0.6"/>
<line x1="150.6" y1="354.4" x2="150.6" y2="356" stroke="#555" stroke-width="0.6"/>
<line x1="151.9" y1="354.4" x2="151.9" y2="356" stroke="#555" stroke-width="0.6"/>
<line x1="153" y1="354.4" x2="153" y2="356" stroke="#555" stroke-width="0.6"/>
<line x1="153.9" y1="354.4" x2="153.9" y2="356" stroke="#555" stroke-width="0.6"/>
<line x1="154.8" y1="354.4" x2="154.8" y2="356" stroke="#555" stroke-width="0.6"/>
<line x1="155.5" y1="354.4" x2="155.5" y2="357.4" stroke="#222" stroke-width="1.0"/>
<path d="M185 297.5h1M207 300.5h1M198 302.5h1M186 303.5h1M192 305.5h1M197 307.5h1M226 309.5h1M180 310.5h2M184 310.5h1M193 310.5h2M172 311.5h1M175 311.5h1M178 311.5h4M183 311.5h1M185 311.5h5M191 311.5h2M195 311.5h2M198 311.5h1M201 311.5h1M209 311.5h2M175 312.5h1M177 312.5h1M179 312.5h1M181 312.5h3M185 312.5h6M194 312.5h3M201 312.5h1M208 312.5h1M172 313.5h2M175 313.5h1M177 313.5h3M182 313.5h1M184 313.5h3M188 313.5h2M191 313.5h2M194 313.5h5M203 313.5h2M208 313.5h1M172 314.5h3M176 314.5h1M178 314.5h10M189 314.5h3M193 314.5h1M196 314.5h1M201 314.5h2M206 314.5h1M213 314.5h1M172 315.5h2M175 315.5h1M177 315.5h6M184 315.5h1M186 315.5h4M191 315.5h4M197 315.5h2M200 315.5h1M209 315.5h1M174 316.5h3M179 316.5h15M195 316.5h2M199 316.5h1M201 316.5h3M207 316.5h1M172 317.5h1M174 317.5h3M178 317.5h11M190 317.5h8M199 317.5h2M205 317.5h2M172 318.5h2M177 318.5h4M183 318.5h8M192 318.5h4M197 318.5h3M201 318.5h1M203 318.5h2M174 319.5h19M194 319.5h7M205 319.5h2M172 320.5h4M177 320.5h20M198 320.5h1M205 320.5h1M207 320.5h1M172 321.5h6M179 321.5h22M202 321.5h1M204 321.5h1M208 321.5h1M172 322.5h1M174 322.5h1M176 322.5h23M200 322.5h1M202 322.5h1M204 322.5h2M173 323.5h25M199 323.5h3M203 323.5h3M173 324.5h23M197 324.5h3M201 324.5h1M204 324.5h1M173 325.5h27M201 325.5h4M206 325.5h1M173 326.5h1M175 326.5h27M204 326.5h1M206 326.5h1M211 326.5h1M172 327.5h30M203 327.5h1M209 327.5h3M172 328.5h28M202 328.5h1M206 328.5h1M210 328.5h1M212 328.5h1M172 329.5h33M206 329.5h1M210 329.5h1M172 330.5h27M200 330.5h1M203 330.5h1M208 330.5h3M215 330.5h2M225 330.5h1M172 331.5h30M204 331.5h1M206 331.5h1M208 331.5h1M172 332.5h29M202 332.5h1M204 332.5h1M210 332.5h1M212 332.5h1M217 332.5h1M173 333.5h28M209 333.5h2M214 333.5h2M172 334.5h29M203 334.5h2M207 334.5h1M211 334.5h1M215 334.5h1M172 335.5h26M199 335.5h2M203 335.5h2M207 335.5h1M218 335.5h2M172 336.5h14M187 336.5h18M207 336.5h2M210 336.5h1M212 336.5h1M172 337.5h34M212 337.5h1M172 338.5h5M178 338.5h21M201 338.5h2M205 338.5h2M210 338.5h1M172 339.5h15M188 339.5h9M198 339.5h4M172 340.5h24M197 340.5h3M201 340.5h2M209 340.5h1M172 341.5h28M201 341.5h1M203 341.5h1M207 341.5h1M221 341.5h1M223 341.5h1M172 342.5h3M176 342.5h12M189 342.5h1M191 342.5h3M197 342.5h2M200 342.5h1M203 342.5h3M172 343.5h1M174 343.5h19M194 343.5h2M197 343.5h3M201 343.5h1M203 343.5h1M205 343.5h1M224 343.5h1M172 344.5h15M188 344.5h7M196 344.5h3M200 344.5h1M204 344.5h1M211 344.5h1M174 345.5h1M176 345.5h24M201 345.5h2M207 345.5h1M211 345.5h1M172 346.5h1M174 346.5h1M176 346.5h7M184 346.5h5M190 346.5h5M196 346.5h3M200 346.5h1M202 346.5h1M206 346.5h1M210 346.5h1M175 347.5h5M181 347.5h8M191 347.5h4M197 347.5h2M200 347.5h1M202 347.5h1M216 347.5h1M176 348.5h2M179 348.5h6M187 348.5h11M199 348.5h1M201 348.5h2M206 348.5h1M174 349.5h1M177 349.5h3M181 349.5h5M188 349.5h7M196 349.5h1M198 349.5h2M172 350.5h1M177 350.5h3M181 350.5h4M186 350.5h5M192 350.5h5M199 350.5h1M172 351.5h1M175 351.5h2M179 351.5h1M181 351.5h3M185 351.5h1M187 351.5h5M193 351.5h1M195 351.5h1M198 351.5h1M200 351.5h1M214 351.5h1M183 352.5h1M185 352.5h3M189 352.5h2M199 352.5h1M220 352.5h1" stroke="#7a7a7a" stroke-width="1" fill="none"/>
<line x1="194.5" y1="294.7" x2="194.5" y2="354.4" stroke="#333" stroke-width="1.1"/>
<line x1="167.6" y1="309.5" x2="211.3" y2="309.5" stroke="#505050" stroke-width="1.3"/>
<path d="M224.6 309.5H230.3V326.6H171.1" stroke="#1a1a1a" stroke-width="1.15" fill="none"/>
<path d="M171.1 335H230.3V354.4" stroke="#1a1a1a" stroke-width="1.15" fill="none"/>
<text x="219.9" y="324.6" font-size="8" fill="#1a1a1a" textLength="8.8" lengthAdjust="spacingAndGlyphs" stroke="#1a1a1a" stroke-width="0.2">R2</text>
<text x="219.3" y="353.1" font-size="8" fill="#1a1a1a" textLength="8.8" lengthAdjust="spacingAndGlyphs" stroke="#1a1a1a" stroke-width="0.2">R3</text>
<line x1="211.9" y1="304.6" x2="229.1" y2="304.6" stroke="#555" stroke-width="1"/>
<line x1="211.9" y1="306.1" x2="229.1" y2="306.1" stroke="#555" stroke-width="1"/>
<line x1="218.5" y1="297.6" x2="218.5" y2="313.5" stroke="#222" stroke-width="1.1"/>
<text x="218.5" y="303.9" font-size="8.6" font-weight="bold" fill="#111" stroke="#111" stroke-width="0.3">20</text>
<text x="218.5" y="313.5" font-size="8.6" font-weight="bold" fill="#111" stroke="#111" stroke-width="0.3">13</text>
<rect x="171.1" y="294.7" width="64.4" height="59.7" fill="none" stroke="#111" stroke-width="1.5"/>
<line x1="168.1" y1="354.4" x2="171.1" y2="354.4" stroke="#222" stroke-width="1.0"/>
<line x1="169.5" y1="349.9" x2="171.1" y2="349.9" stroke="#555" stroke-width="0.6"/>
<line x1="169.5" y1="347.3" x2="171.1" y2="347.3" stroke="#555" stroke-width="0.6"/>
<line x1="169.5" y1="345.4" x2="171.1" y2="345.4" stroke="#555" stroke-width="0.6"/>
<line x1="169.5" y1="344" x2="171.1" y2="344" stroke="#555" stroke-width="0.6"/>
<line x1="169.5" y1="342.8" x2="171.1" y2="342.8" stroke="#555" stroke-width="0.6"/>
<line x1="169.5" y1="341.8" x2="171.1" y2="341.8" stroke="#555" stroke-width="0.6"/>
<line x1="169.5" y1="340.9" x2="171.1" y2="340.9" stroke="#555" stroke-width="0.6"/>
<line x1="169.5" y1="340.2" x2="171.1" y2="340.2" stroke="#555" stroke-width="0.6"/>
<line x1="168.1" y1="339.5" x2="171.1" y2="339.5" stroke="#222" stroke-width="1.0"/>
<line x1="169.5" y1="335" x2="171.1" y2="335" stroke="#555" stroke-width="0.6"/>
<line x1="169.5" y1="332.4" x2="171.1" y2="332.4" stroke="#555" stroke-width="0.6"/>
<line x1="169.5" y1="330.5" x2="171.1" y2="330.5" stroke="#555" stroke-width="0.6"/>
<line x1="169.5" y1="329" x2="171.1" y2="329" stroke="#555" stroke-width="0.6"/>
<line x1="169.5" y1="327.9" x2="171.1" y2="327.9" stroke="#555" stroke-width="0.6"/>
<line x1="169.5" y1="326.9" x2="171.1" y2="326.9" stroke="#555" stroke-width="0.6"/>
<line x1="169.5" y1="326" x2="171.1" y2="326" stroke="#555" stroke-width="0.6"/>
<line x1="169.5" y1="325.2" x2="171.1" y2="325.2" stroke="#555" stroke-width="0.6"/>
<line x1="168.1" y1="324.5" x2="171.1" y2="324.5" stroke="#222" stroke-width="1.0"/>
<line x1="169.5" y1="320.1" x2="171.1" y2="320.1" stroke="#555" stroke-width="0.6"/>
<line x1="169.5" y1="317.4" x2="171.1" y2="317.4" stroke="#555" stroke-width="0.6"/>
<line x1="169.5" y1="315.6" x2="171.1" y2="315.6" stroke="#555" stroke-width="0.6"/>
<line x1="169.5" y1="314.1" x2="171.1" y2="314.1" stroke="#555" stroke-width="0.6"/>
<line x1="169.5" y1="312.9" x2="171.1" y2="312.9" stroke="#555" stroke-width="0.6"/>
<line x1="169.5" y1="311.9" x2="171.1" y2="311.9" stroke="#555" stroke-width="0.6"/>
<line x1="169.5" y1="311.1" x2="171.1" y2="311.1" stroke="#555" stroke-width="0.6"/>
<line x1="169.5" y1="310.3" x2="171.1" y2="310.3" stroke="#555" stroke-width="0.6"/>
<line x1="168.1" y1="309.6" x2="171.1" y2="309.6" stroke="#222" stroke-width="1.0"/>
<line x1="169.5" y1="305.1" x2="171.1" y2="305.1" stroke="#555" stroke-width="0.6"/>
<line x1="169.5" y1="302.5" x2="171.1" y2="302.5" stroke="#555" stroke-width="0.6"/>
<line x1="169.5" y1="300.6" x2="171.1" y2="300.6" stroke="#555" stroke-width="0.6"/>
<line x1="169.5" y1="299.2" x2="171.1" y2="299.2" stroke="#555" stroke-width="0.6"/>
<line x1="169.5" y1="298" x2="171.1" y2="298" stroke="#555" stroke-width="0.6"/>
<line x1="169.5" y1="297" x2="171.1" y2="297" stroke="#555" stroke-width="0.6"/>
<line x1="169.5" y1="296.1" x2="171.1" y2="296.1" stroke="#555" stroke-width="0.6"/>
<line x1="169.5" y1="295.4" x2="171.1" y2="295.4" stroke="#555" stroke-width="0.6"/>
<line x1="168.1" y1="294.7" x2="171.1" y2="294.7" stroke="#222" stroke-width="1.0"/>
<line x1="171.1" y1="354.4" x2="171.1" y2="357.4" stroke="#222" stroke-width="1.0"/>
<line x1="175.9" y1="354.4" x2="175.9" y2="356" stroke="#555" stroke-width="0.6"/>
<line x1="178.8" y1="354.4" x2="178.8" y2="356" stroke="#555" stroke-width="0.6"/>
<line x1="180.8" y1="354.4" x2="180.8" y2="356" stroke="#555" stroke-width="0.6"/>
<line x1="182.4" y1="354.4" x2="182.4" y2="356" stroke="#555" stroke-width="0.6"/>
<line x1="183.6" y1="354.4" x2="183.6" y2="356" stroke="#555" stroke-width="0.6"/>
<line x1="184.7" y1="354.4" x2="184.7" y2="356" stroke="#555" stroke-width="0.6"/>
<line x1="185.6" y1="354.4" x2="185.6" y2="356" stroke="#555" stroke-width="0.6"/>
<line x1="186.5" y1="354.4" x2="186.5" y2="356" stroke="#555" stroke-width="0.6"/>
<line x1="187.2" y1="354.4" x2="187.2" y2="357.4" stroke="#222" stroke-width="1.0"/>
<line x1="192" y1="354.4" x2="192" y2="356" stroke="#555" stroke-width="0.6"/>
<line x1="194.9" y1="354.4" x2="194.9" y2="356" stroke="#555" stroke-width="0.6"/>
<line x1="196.9" y1="354.4" x2="196.9" y2="356" stroke="#555" stroke-width="0.6"/>
<line x1="198.5" y1="354.4" x2="198.5" y2="356" stroke="#555" stroke-width="0.6"/>
<line x1="199.7" y1="354.4" x2="199.7" y2="356" stroke="#555" stroke-width="0.6"/>
<line x1="200.8" y1="354.4" x2="200.8" y2="356" stroke="#555" stroke-width="0.6"/>
<line x1="201.7" y1="354.4" x2="201.7" y2="356" stroke="#555" stroke-width="0.6"/>
<line x1="202.6" y1="354.4" x2="202.6" y2="356" stroke="#555" stroke-width="0.6"/>
<line x1="203.3" y1="354.4" x2="203.3" y2="357.4" stroke="#222" stroke-width="1.0"/>
<line x1="208.1" y1="354.4" x2="208.1" y2="356" stroke="#555" stroke-width="0.6"/>
<line x1="211" y1="354.4" x2="211" y2="356" stroke="#555" stroke-width="0.6"/>
<line x1="213" y1="354.4" x2="213" y2="356" stroke="#555" stroke-width="0.6"/>
<line x1="214.6" y1="354.4" x2="214.6" y2="356" stroke="#555" stroke-width="0.6"/>
<line x1="215.8" y1="354.4" x2="215.8" y2="356" stroke="#555" stroke-width="0.6"/>
<line x1="216.9" y1="354.4" x2="216.9" y2="356" stroke="#555" stroke-width="0.6"/>
<line x1="217.8" y1="354.4" x2="217.8" y2="356" stroke="#555" stroke-width="0.6"/>
<line x1="218.7" y1="354.4" x2="218.7" y2="356" stroke="#555" stroke-width="0.6"/>
<line x1="219.4" y1="354.4" x2="219.4" y2="357.4" stroke="#222" stroke-width="1.0"/>
<line x1="224.2" y1="354.4" x2="224.2" y2="356" stroke="#555" stroke-width="0.6"/>
<line x1="227.1" y1="354.4" x2="227.1" y2="356" stroke="#555" stroke-width="0.6"/>
<line x1="229.1" y1="354.4" x2="229.1" y2="356" stroke="#555" stroke-width="0.6"/>
<line x1="230.7" y1="354.4" x2="230.7" y2="356" stroke="#555" stroke-width="0.6"/>
<line x1="231.9" y1="354.4" x2="231.9" y2="356" stroke="#555" stroke-width="0.6"/>
<line x1="233" y1="354.4" x2="233" y2="356" stroke="#555" stroke-width="0.6"/>
<line x1="233.9" y1="354.4" x2="233.9" y2="356" stroke="#555" stroke-width="0.6"/>
<line x1="234.8" y1="354.4" x2="234.8" y2="356" stroke="#555" stroke-width="0.6"/>
<line x1="235.5" y1="354.4" x2="235.5" y2="357.4" stroke="#222" stroke-width="1.0"/>
<path d="M248 302.5h1M276 303.5h1M278 305.5h1M258 307.5h1M254 309.5h1M255 310.5h2M259 310.5h1M261 310.5h2M269 310.5h1M245 311.5h1M253 311.5h1M256 311.5h4M267 311.5h1M272 311.5h1M247 312.5h3M252 312.5h2M255 312.5h5M261 312.5h3M265 312.5h1M270 312.5h1M246 313.5h2M250 313.5h1M253 313.5h1M256 313.5h6M263 313.5h2M248 314.5h2M251 314.5h1M253 314.5h6M260 314.5h1M263 314.5h4M269 314.5h1M245 315.5h1M247 315.5h1M249 315.5h1M251 315.5h4M256 315.5h1M258 315.5h1M260 315.5h1M262 315.5h1M264 315.5h1M248 316.5h1M251 316.5h11M263 316.5h2M266 316.5h2M269 316.5h1M247 317.5h1M249 317.5h4M255 317.5h6M264 317.5h1M269 317.5h1M271 317.5h1M247 318.5h1M249 318.5h14M264 318.5h1M269 318.5h1M273 318.5h3M282 318.5h1M245 319.5h1M248 319.5h14M266 319.5h1M268 319.5h1M245 320.5h2M248 320.5h14M263 320.5h5M269 320.5h1M248 321.5h22M250 322.5h16M268 322.5h1M245 323.5h2M248 323.5h22M281 323.5h1M246 324.5h25M281 324.5h1M245 325.5h1M247 325.5h19M267 325.5h6M245 326.5h1M248 326.5h23M272 326.5h1M274 326.5h1M279 326.5h1M296 326.5h1M245 327.5h1M247 327.5h25M290 327.5h1M247 328.5h1M249 328.5h20M270 328.5h1M274 328.5h1M277 328.5h1M279 328.5h1M247 329.5h1M249 329.5h18M268 329.5h4M273 329.5h2M277 329.5h1M245 330.5h1M247 330.5h21M269 330.5h2M277 330.5h1M287 330.5h1M245 331.5h21M267 331.5h4M272 331.5h2M277 331.5h1M245 332.5h23M269 332.5h1M272 332.5h1M245 333.5h2M248 333.5h17M266 333.5h6M273 333.5h1M275 333.5h1M281 333.5h1M247 334.5h22M245 335.5h28M274 335.5h1M277 335.5h1M245 336.5h1M247 336.5h1M249 336.5h18M268 336.5h4M279 336.5h1M246 337.5h21M268 337.5h1M270 337.5h1M278 337.5h1M246 338.5h3M250 338.5h4M255 338.5h18M245 339.5h17M263 339.5h3M267 339.5h2M270 339.5h3M245 340.5h9M255 340.5h16M272 340.5h1M276 340.5h1M245 341.5h1M247 341.5h21M269 341.5h1M271 341.5h1M275 341.5h2M245 342.5h1M247 342.5h20M268 342.5h3M274 342.5h1M277 342.5h1M245 343.5h2M248 343.5h1M250 343.5h19M270 343.5h1M273 343.5h1M280 343.5h2M248 344.5h3M252 344.5h18M272 344.5h1M246 345.5h2M249 345.5h6M256 345.5h5M262 345.5h8M278 345.5h1M247 346.5h16M264 346.5h2M268 346.5h1M272 346.5h1M248 347.5h2M252 347.5h9M262 347.5h1M264 347.5h4M269 347.5h1M279 347.5h1M245 348.5h1M249 348.5h15M265 348.5h3M271 348.5h1M247 349.5h1M249 349.5h1M252 349.5h9M262 349.5h1M264 349.5h2M267 349.5h1M269 349.5h1M247 350.5h1M250 350.5h1M252 350.5h1M254 350.5h9M265 350.5h1M246 351.5h1M249 351.5h2M252 351.5h3M256 351.5h2M259 351.5h3M263 351.5h1M265 351.5h2M269 351.5h2M272 351.5h1M248 352.5h2M252 352.5h1M255 352.5h4M261 352.5h1M264 352.5h1" stroke="#7a7a7a" stroke-width="1" fill="none"/>
<line x1="267.5" y1="294.7" x2="267.5" y2="354.4" stroke="#333" stroke-width="1.1"/>
<line x1="240.1" y1="309.5" x2="283.8" y2="309.5" stroke="#505050" stroke-width="1.3"/>
<path d="M297.1 309.5H302.8V326.6H243.6" stroke="#1a1a1a" stroke-width="1.15" fill="none"/>
<path d="M243.6 335H302.8V354.4" stroke="#1a1a1a" stroke-width="1.15" fill="none"/>
<text x="292.4" y="324.6" font-size="8" fill="#1a1a1a" textLength="8.8" lengthAdjust="spacingAndGlyphs" stroke="#1a1a1a" stroke-width="0.2">R2</text>
<text x="291.8" y="353.1" font-size="8" fill="#1a1a1a" textLength="8.8" lengthAdjust="spacingAndGlyphs" stroke="#1a1a1a" stroke-width="0.2">R3</text>
<line x1="284.4" y1="304.6" x2="301.6" y2="304.6" stroke="#555" stroke-width="1"/>
<line x1="284.4" y1="306.1" x2="301.6" y2="306.1" stroke="#555" stroke-width="1"/>
<line x1="291" y1="297.6" x2="291" y2="313.5" stroke="#222" stroke-width="1.1"/>
<text x="291" y="303.9" font-size="8.6" font-weight="bold" fill="#111" stroke="#111" stroke-width="0.3">8</text>
<text x="291" y="313.5" font-size="8.6" font-weight="bold" fill="#111" stroke="#111" stroke-width="0.3">10</text>
<rect x="243.6" y="294.7" width="64.6" height="59.7" fill="none" stroke="#111" stroke-width="1.5"/>
<line x1="240.6" y1="354.4" x2="243.6" y2="354.4" stroke="#222" stroke-width="1.0"/>
<line x1="242" y1="349.9" x2="243.6" y2="349.9" stroke="#555" stroke-width="0.6"/>
<line x1="242" y1="347.3" x2="243.6" y2="347.3" stroke="#555" stroke-width="0.6"/>
<line x1="242" y1="345.4" x2="243.6" y2="345.4" stroke="#555" stroke-width="0.6"/>
<line x1="242" y1="344" x2="243.6" y2="344" stroke="#555" stroke-width="0.6"/>
<line x1="242" y1="342.8" x2="243.6" y2="342.8" stroke="#555" stroke-width="0.6"/>
<line x1="242" y1="341.8" x2="243.6" y2="341.8" stroke="#555" stroke-width="0.6"/>
<line x1="242" y1="340.9" x2="243.6" y2="340.9" stroke="#555" stroke-width="0.6"/>
<line x1="242" y1="340.2" x2="243.6" y2="340.2" stroke="#555" stroke-width="0.6"/>
<line x1="240.6" y1="339.5" x2="243.6" y2="339.5" stroke="#222" stroke-width="1.0"/>
<line x1="242" y1="335" x2="243.6" y2="335" stroke="#555" stroke-width="0.6"/>
<line x1="242" y1="332.4" x2="243.6" y2="332.4" stroke="#555" stroke-width="0.6"/>
<line x1="242" y1="330.5" x2="243.6" y2="330.5" stroke="#555" stroke-width="0.6"/>
<line x1="242" y1="329" x2="243.6" y2="329" stroke="#555" stroke-width="0.6"/>
<line x1="242" y1="327.9" x2="243.6" y2="327.9" stroke="#555" stroke-width="0.6"/>
<line x1="242" y1="326.9" x2="243.6" y2="326.9" stroke="#555" stroke-width="0.6"/>
<line x1="242" y1="326" x2="243.6" y2="326" stroke="#555" stroke-width="0.6"/>
<line x1="242" y1="325.2" x2="243.6" y2="325.2" stroke="#555" stroke-width="0.6"/>
<line x1="240.6" y1="324.5" x2="243.6" y2="324.5" stroke="#222" stroke-width="1.0"/>
<line x1="242" y1="320.1" x2="243.6" y2="320.1" stroke="#555" stroke-width="0.6"/>
<line x1="242" y1="317.4" x2="243.6" y2="317.4" stroke="#555" stroke-width="0.6"/>
<line x1="242" y1="315.6" x2="243.6" y2="315.6" stroke="#555" stroke-width="0.6"/>
<line x1="242" y1="314.1" x2="243.6" y2="314.1" stroke="#555" stroke-width="0.6"/>
<line x1="242" y1="312.9" x2="243.6" y2="312.9" stroke="#555" stroke-width="0.6"/>
<line x1="242" y1="311.9" x2="243.6" y2="311.9" stroke="#555" stroke-width="0.6"/>
<line x1="242" y1="311.1" x2="243.6" y2="311.1" stroke="#555" stroke-width="0.6"/>
<line x1="242" y1="310.3" x2="243.6" y2="310.3" stroke="#555" stroke-width="0.6"/>
<line x1="240.6" y1="309.6" x2="243.6" y2="309.6" stroke="#222" stroke-width="1.0"/>
<line x1="242" y1="305.1" x2="243.6" y2="305.1" stroke="#555" stroke-width="0.6"/>
<line x1="242" y1="302.5" x2="243.6" y2="302.5" stroke="#555" stroke-width="0.6"/>
<line x1="242" y1="300.6" x2="243.6" y2="300.6" stroke="#555" stroke-width="0.6"/>
<line x1="242" y1="299.2" x2="243.6" y2="299.2" stroke="#555" stroke-width="0.6"/>
<line x1="242" y1="298" x2="243.6" y2="298" stroke="#555" stroke-width="0.6"/>
<line x1="242" y1="297" x2="243.6" y2="297" stroke="#555" stroke-width="0.6"/>
<line x1="242" y1="296.1" x2="243.6" y2="296.1" stroke="#555" stroke-width="0.6"/>
<line x1="242" y1="295.4" x2="243.6" y2="295.4" stroke="#555" stroke-width="0.6"/>
<line x1="240.6" y1="294.7" x2="243.6" y2="294.7" stroke="#222" stroke-width="1.0"/>
<line x1="243.6" y1="354.4" x2="243.6" y2="357.4" stroke="#222" stroke-width="1.0"/>
<line x1="248.5" y1="354.4" x2="248.5" y2="356" stroke="#555" stroke-width="0.6"/>
<line x1="251.3" y1="354.4" x2="251.3" y2="356" stroke="#555" stroke-width="0.6"/>
<line x1="253.3" y1="354.4" x2="253.3" y2="356" stroke="#555" stroke-width="0.6"/>
<line x1="254.9" y1="354.4" x2="254.9" y2="356" stroke="#555" stroke-width="0.6"/>
<line x1="256.2" y1="354.4" x2="256.2" y2="356" stroke="#555" stroke-width="0.6"/>
<line x1="257.2" y1="354.4" x2="257.2" y2="356" stroke="#555" stroke-width="0.6"/>
<line x1="258.2" y1="354.4" x2="258.2" y2="356" stroke="#555" stroke-width="0.6"/>
<line x1="259" y1="354.4" x2="259" y2="356" stroke="#555" stroke-width="0.6"/>
<line x1="259.8" y1="354.4" x2="259.8" y2="357.4" stroke="#222" stroke-width="1.0"/>
<line x1="264.6" y1="354.4" x2="264.6" y2="356" stroke="#555" stroke-width="0.6"/>
<line x1="267.5" y1="354.4" x2="267.5" y2="356" stroke="#555" stroke-width="0.6"/>
<line x1="269.5" y1="354.4" x2="269.5" y2="356" stroke="#555" stroke-width="0.6"/>
<line x1="271" y1="354.4" x2="271" y2="356" stroke="#555" stroke-width="0.6"/>
<line x1="272.3" y1="354.4" x2="272.3" y2="356" stroke="#555" stroke-width="0.6"/>
<line x1="273.4" y1="354.4" x2="273.4" y2="356" stroke="#555" stroke-width="0.6"/>
<line x1="274.3" y1="354.4" x2="274.3" y2="356" stroke="#555" stroke-width="0.6"/>
<line x1="275.2" y1="354.4" x2="275.2" y2="356" stroke="#555" stroke-width="0.6"/>
<line x1="275.9" y1="354.4" x2="275.9" y2="357.4" stroke="#222" stroke-width="1.0"/>
<line x1="280.8" y1="354.4" x2="280.8" y2="356" stroke="#555" stroke-width="0.6"/>
<line x1="283.6" y1="354.4" x2="283.6" y2="356" stroke="#555" stroke-width="0.6"/>
<line x1="285.6" y1="354.4" x2="285.6" y2="356" stroke="#555" stroke-width="0.6"/>
<line x1="287.2" y1="354.4" x2="287.2" y2="356" stroke="#555" stroke-width="0.6"/>
<line x1="288.5" y1="354.4" x2="288.5" y2="356" stroke="#555" stroke-width="0.6"/>
<line x1="289.5" y1="354.4" x2="289.5" y2="356" stroke="#555" stroke-width="0.6"/>
<line x1="290.5" y1="354.4" x2="290.5" y2="356" stroke="#555" stroke-width="0.6"/>
<line x1="291.3" y1="354.4" x2="291.3" y2="356" stroke="#555" stroke-width="0.6"/>
<line x1="292.1" y1="354.4" x2="292.1" y2="357.4" stroke="#222" stroke-width="1.0"/>
<line x1="296.9" y1="354.4" x2="296.9" y2="356" stroke="#555" stroke-width="0.6"/>
<line x1="299.8" y1="354.4" x2="299.8" y2="356" stroke="#555" stroke-width="0.6"/>
<line x1="301.8" y1="354.4" x2="301.8" y2="356" stroke="#555" stroke-width="0.6"/>
<line x1="303.3" y1="354.4" x2="303.3" y2="356" stroke="#555" stroke-width="0.6"/>
<line x1="304.6" y1="354.4" x2="304.6" y2="356" stroke="#555" stroke-width="0.6"/>
<line x1="305.7" y1="354.4" x2="305.7" y2="356" stroke="#555" stroke-width="0.6"/>
<line x1="306.6" y1="354.4" x2="306.6" y2="356" stroke="#555" stroke-width="0.6"/>
<line x1="307.5" y1="354.4" x2="307.5" y2="356" stroke="#555" stroke-width="0.6"/>
<line x1="308.2" y1="354.4" x2="308.2" y2="357.4" stroke="#222" stroke-width="1.0"/>
<path d="M27 378.5h2M30 378.5h2M35 378.5h1M46 378.5h1M50 378.5h1M52 378.5h2M62 378.5h2M65 378.5h1M69 378.5h1M71 378.5h1M76 378.5h1M78 378.5h1M80 378.5h1M23 379.5h1M25 379.5h1M27 379.5h1M29 379.5h2M33 379.5h11M45 379.5h3M53 379.5h1M55 379.5h1M62 379.5h1M20 380.5h5M26 380.5h2M29 380.5h4M35 380.5h2M38 380.5h1M40 380.5h5M48 380.5h3M56 380.5h1M63 380.5h1M71 380.5h1M76 380.5h1M19 381.5h1M21 381.5h10M32 381.5h7M40 381.5h4M45 381.5h1M51 381.5h2M60 381.5h1M63 381.5h2M70 381.5h2M19 382.5h3M23 382.5h1M25 382.5h4M31 382.5h2M34 382.5h13M52 382.5h2M80 382.5h1M20 383.5h2M25 383.5h8M34 383.5h5M41 383.5h2M44 383.5h1M47 383.5h1M49 383.5h2M54 383.5h1M61 383.5h1M64 383.5h1M67 383.5h1M20 384.5h1M22 384.5h8M31 384.5h6M39 384.5h2M42 384.5h2M45 384.5h1M47 384.5h3M52 384.5h3M56 384.5h2M59 384.5h1M64 384.5h1M69 384.5h1M81 384.5h1M19 385.5h1M22 385.5h4M27 385.5h4M32 385.5h4M37 385.5h3M41 385.5h7M51 385.5h2M55 385.5h2M19 386.5h4M24 386.5h6M31 386.5h13M45 386.5h1M47 386.5h2M50 386.5h1M52 386.5h1M54 386.5h1M63 386.5h1M19 387.5h18M38 387.5h5M45 387.5h5M55 387.5h1M57 387.5h1M67 387.5h1M70 387.5h1M74 387.5h1M19 388.5h1M22 388.5h4M27 388.5h3M31 388.5h5M37 388.5h2M42 388.5h3M47 388.5h1M49 388.5h1M58 388.5h1M63 388.5h1M19 389.5h1M21 389.5h2M24 389.5h1M26 389.5h7M34 389.5h7M42 389.5h4M49 389.5h1M51 389.5h1M54 389.5h2M57 389.5h1M60 389.5h1M68 389.5h1M21 390.5h1M23 390.5h3M28 390.5h4M33 390.5h8M42 390.5h5M48 390.5h1M50 390.5h1M54 390.5h1M23 391.5h4M28 391.5h2M31 391.5h2M34 391.5h1M38 391.5h9M48 391.5h2M53 391.5h1M22 392.5h5M28 392.5h1M30 392.5h2M33 392.5h1M36 392.5h2M41 392.5h2M44 392.5h1M46 392.5h1M23 393.5h1M25 393.5h4M30 393.5h1M32 393.5h1M34 393.5h7M25 394.5h1M27 394.5h1M32 394.5h2M37 394.5h1M22 395.5h1M29 395.5h1M34 395.5h2M37 395.5h1M41 395.5h1M56 397.5h1M47 404.5h1M54 414.5h1" stroke="#7a7a7a" stroke-width="1" fill="none"/>
<line x1="41.5" y1="362.9" x2="41.5" y2="422.8" stroke="#333" stroke-width="1.1"/>
<line x1="14.8" y1="377.6" x2="64.3" y2="377.6" stroke="#505050" stroke-width="1.3"/>
<path d="M17.8 394.9H77.4V384.2" stroke="#1a1a1a" stroke-width="1.15" fill="none"/>
<text x="66.4" y="393.7" font-size="8" fill="#1a1a1a" textLength="8.8" lengthAdjust="spacingAndGlyphs" stroke="#1a1a1a" stroke-width="0.2">R1</text>
<line x1="64.5" y1="373.6" x2="75.6" y2="373.6" stroke="#2a2a2a" stroke-width="1.1"/>
<line x1="70.7" y1="365.1" x2="70.7" y2="379.3" stroke="#2a2a2a" stroke-width="1.1"/>
<text x="73.7" y="373.3" font-size="8.6" font-weight="bold" fill="#111" stroke="#111" stroke-width="0.3">35</text>
<rect x="17.8" y="362.9" width="65.4" height="59.9" fill="none" stroke="#111" stroke-width="1.5"/>
<line x1="14.8" y1="422.8" x2="17.8" y2="422.8" stroke="#222" stroke-width="1.0"/>
<line x1="16.2" y1="418.3" x2="17.8" y2="418.3" stroke="#555" stroke-width="0.6"/>
<line x1="16.2" y1="415.7" x2="17.8" y2="415.7" stroke="#555" stroke-width="0.6"/>
<line x1="16.2" y1="413.8" x2="17.8" y2="413.8" stroke="#555" stroke-width="0.6"/>
<line x1="16.2" y1="412.3" x2="17.8" y2="412.3" stroke="#555" stroke-width="0.6"/>
<line x1="16.2" y1="411.1" x2="17.8" y2="411.1" stroke="#555" stroke-width="0.6"/>
<line x1="16.2" y1="410.1" x2="17.8" y2="410.1" stroke="#555" stroke-width="0.6"/>
<line x1="16.2" y1="409.3" x2="17.8" y2="409.3" stroke="#555" stroke-width="0.6"/>
<line x1="16.2" y1="408.5" x2="17.8" y2="408.5" stroke="#555" stroke-width="0.6"/>
<line x1="14.8" y1="407.8" x2="17.8" y2="407.8" stroke="#222" stroke-width="1.0"/>
<line x1="16.2" y1="403.3" x2="17.8" y2="403.3" stroke="#555" stroke-width="0.6"/>
<line x1="16.2" y1="400.7" x2="17.8" y2="400.7" stroke="#555" stroke-width="0.6"/>
<line x1="16.2" y1="398.8" x2="17.8" y2="398.8" stroke="#555" stroke-width="0.6"/>
<line x1="16.2" y1="397.4" x2="17.8" y2="397.4" stroke="#555" stroke-width="0.6"/>
<line x1="16.2" y1="396.2" x2="17.8" y2="396.2" stroke="#555" stroke-width="0.6"/>
<line x1="16.2" y1="395.2" x2="17.8" y2="395.2" stroke="#555" stroke-width="0.6"/>
<line x1="16.2" y1="394.3" x2="17.8" y2="394.3" stroke="#555" stroke-width="0.6"/>
<line x1="16.2" y1="393.5" x2="17.8" y2="393.5" stroke="#555" stroke-width="0.6"/>
<line x1="14.8" y1="392.9" x2="17.8" y2="392.9" stroke="#222" stroke-width="1.0"/>
<line x1="16.2" y1="388.3" x2="17.8" y2="388.3" stroke="#555" stroke-width="0.6"/>
<line x1="16.2" y1="385.7" x2="17.8" y2="385.7" stroke="#555" stroke-width="0.6"/>
<line x1="16.2" y1="383.8" x2="17.8" y2="383.8" stroke="#555" stroke-width="0.6"/>
<line x1="16.2" y1="382.4" x2="17.8" y2="382.4" stroke="#555" stroke-width="0.6"/>
<line x1="16.2" y1="381.2" x2="17.8" y2="381.2" stroke="#555" stroke-width="0.6"/>
<line x1="16.2" y1="380.2" x2="17.8" y2="380.2" stroke="#555" stroke-width="0.6"/>
<line x1="16.2" y1="379.3" x2="17.8" y2="379.3" stroke="#555" stroke-width="0.6"/>
<line x1="16.2" y1="378.6" x2="17.8" y2="378.6" stroke="#555" stroke-width="0.6"/>
<line x1="14.8" y1="377.9" x2="17.8" y2="377.9" stroke="#222" stroke-width="1.0"/>
<line x1="16.2" y1="373.4" x2="17.8" y2="373.4" stroke="#555" stroke-width="0.6"/>
<line x1="16.2" y1="370.7" x2="17.8" y2="370.7" stroke="#555" stroke-width="0.6"/>
<line x1="16.2" y1="368.9" x2="17.8" y2="368.9" stroke="#555" stroke-width="0.6"/>
<line x1="16.2" y1="367.4" x2="17.8" y2="367.4" stroke="#555" stroke-width="0.6"/>
<line x1="16.2" y1="366.2" x2="17.8" y2="366.2" stroke="#555" stroke-width="0.6"/>
<line x1="16.2" y1="365.2" x2="17.8" y2="365.2" stroke="#555" stroke-width="0.6"/>
<line x1="16.2" y1="364.4" x2="17.8" y2="364.4" stroke="#555" stroke-width="0.6"/>
<line x1="16.2" y1="363.6" x2="17.8" y2="363.6" stroke="#555" stroke-width="0.6"/>
<line x1="14.8" y1="362.9" x2="17.8" y2="362.9" stroke="#222" stroke-width="1.0"/>
<line x1="17.8" y1="422.8" x2="17.8" y2="425.8" stroke="#222" stroke-width="1.0"/>
<line x1="22.7" y1="422.8" x2="22.7" y2="424.4" stroke="#555" stroke-width="0.6"/>
<line x1="25.6" y1="422.8" x2="25.6" y2="424.4" stroke="#555" stroke-width="0.6"/>
<line x1="27.6" y1="422.8" x2="27.6" y2="424.4" stroke="#555" stroke-width="0.6"/>
<line x1="29.2" y1="422.8" x2="29.2" y2="424.4" stroke="#555" stroke-width="0.6"/>
<line x1="30.5" y1="422.8" x2="30.5" y2="424.4" stroke="#555" stroke-width="0.6"/>
<line x1="31.6" y1="422.8" x2="31.6" y2="424.4" stroke="#555" stroke-width="0.6"/>
<line x1="32.6" y1="422.8" x2="32.6" y2="424.4" stroke="#555" stroke-width="0.6"/>
<line x1="33.4" y1="422.8" x2="33.4" y2="424.4" stroke="#555" stroke-width="0.6"/>
<line x1="34.2" y1="422.8" x2="34.2" y2="425.8" stroke="#222" stroke-width="1.0"/>
<line x1="39.1" y1="422.8" x2="39.1" y2="424.4" stroke="#555" stroke-width="0.6"/>
<line x1="42" y1="422.8" x2="42" y2="424.4" stroke="#555" stroke-width="0.6"/>
<line x1="44" y1="422.8" x2="44" y2="424.4" stroke="#555" stroke-width="0.6"/>
<line x1="45.6" y1="422.8" x2="45.6" y2="424.4" stroke="#555" stroke-width="0.6"/>
<line x1="46.9" y1="422.8" x2="46.9" y2="424.4" stroke="#555" stroke-width="0.6"/>
<line x1="48" y1="422.8" x2="48" y2="424.4" stroke="#555" stroke-width="0.6"/>
<line x1="48.9" y1="422.8" x2="48.9" y2="424.4" stroke="#555" stroke-width="0.6"/>
<line x1="49.8" y1="422.8" x2="49.8" y2="424.4" stroke="#555" stroke-width="0.6"/>
<line x1="50.5" y1="422.8" x2="50.5" y2="425.8" stroke="#222" stroke-width="1.0"/>
<line x1="55.4" y1="422.8" x2="55.4" y2="424.4" stroke="#555" stroke-width="0.6"/>
<line x1="58.3" y1="422.8" x2="58.3" y2="424.4" stroke="#555" stroke-width="0.6"/>
<line x1="60.3" y1="422.8" x2="60.3" y2="424.4" stroke="#555" stroke-width="0.6"/>
<line x1="61.9" y1="422.8" x2="61.9" y2="424.4" stroke="#555" stroke-width="0.6"/>
<line x1="63.2" y1="422.8" x2="63.2" y2="424.4" stroke="#555" stroke-width="0.6"/>
<line x1="64.3" y1="422.8" x2="64.3" y2="424.4" stroke="#555" stroke-width="0.6"/>
<line x1="65.3" y1="422.8" x2="65.3" y2="424.4" stroke="#555" stroke-width="0.6"/>
<line x1="66.1" y1="422.8" x2="66.1" y2="424.4" stroke="#555" stroke-width="0.6"/>
<line x1="66.9" y1="422.8" x2="66.9" y2="425.8" stroke="#222" stroke-width="1.0"/>
<line x1="71.8" y1="422.8" x2="71.8" y2="424.4" stroke="#555" stroke-width="0.6"/>
<line x1="74.7" y1="422.8" x2="74.7" y2="424.4" stroke="#555" stroke-width="0.6"/>
<line x1="76.7" y1="422.8" x2="76.7" y2="424.4" stroke="#555" stroke-width="0.6"/>
<line x1="78.3" y1="422.8" x2="78.3" y2="424.4" stroke="#555" stroke-width="0.6"/>
<line x1="79.6" y1="422.8" x2="79.6" y2="424.4" stroke="#555" stroke-width="0.6"/>
<line x1="80.7" y1="422.8" x2="80.7" y2="424.4" stroke="#555" stroke-width="0.6"/>
<line x1="81.6" y1="422.8" x2="81.6" y2="424.4" stroke="#555" stroke-width="0.6"/>
<line x1="82.5" y1="422.8" x2="82.5" y2="424.4" stroke="#555" stroke-width="0.6"/>
<line x1="83.2" y1="422.8" x2="83.2" y2="425.8" stroke="#222" stroke-width="1.0"/>
<path d="M94 378.5h1M100 378.5h2M103 378.5h1M105 378.5h2M113 378.5h3M128 378.5h1M93 379.5h1M95 379.5h1M97 379.5h7M105 379.5h5M113 379.5h1M116 379.5h1M120 379.5h1M127 379.5h1M136 379.5h1M94 380.5h6M101 380.5h10M112 380.5h1M115 380.5h1M117 380.5h2M123 380.5h2M130 380.5h1M91 381.5h6M98 381.5h5M104 381.5h1M106 381.5h4M111 381.5h1M113 381.5h3M123 381.5h1M91 382.5h14M106 382.5h2M109 382.5h2M114 382.5h1M119 382.5h1M92 383.5h19M112 383.5h1M116 383.5h2M122 383.5h1M124 383.5h1M132 383.5h1M91 384.5h4M96 384.5h17M116 384.5h1M120 384.5h1M126 384.5h1M91 385.5h15M107 385.5h2M110 385.5h3M114 385.5h2M117 385.5h1M123 385.5h3M91 386.5h20M115 386.5h1M133 386.5h2M91 387.5h18M110 387.5h2M114 387.5h2M117 387.5h1M126 387.5h2M130 387.5h1M134 387.5h1M93 388.5h2M96 388.5h18M116 388.5h1M121 388.5h2M91 389.5h1M94 389.5h18M114 389.5h2M117 389.5h1M119 389.5h1M91 390.5h3M95 390.5h6M102 390.5h9M113 390.5h1M116 390.5h1M118 390.5h1M91 391.5h2M94 391.5h1M96 391.5h12M109 391.5h3M115 391.5h1M91 392.5h1M93 392.5h12M107 392.5h1M109 392.5h3M113 392.5h1M93 393.5h5M99 393.5h7M107 393.5h2M95 394.5h1M98 394.5h2M101 394.5h2M106 394.5h1M109 394.5h1M94 395.5h1M98 395.5h1M103 395.5h1M105 395.5h1M99 396.5h1M113 396.5h1M133 402.5h1M135 402.5h1M131 404.5h1" stroke="#7a7a7a" stroke-width="1" fill="none"/>
<line x1="114.5" y1="362.9" x2="114.5" y2="422.8" stroke="#333" stroke-width="1.1"/>
<line x1="87.2" y1="377.6" x2="136.7" y2="377.6" stroke="#505050" stroke-width="1.3"/>
<path d="M90.2 394.9H149.8V384.2" stroke="#1a1a1a" stroke-width="1.15" fill="none"/>
<text x="138.8" y="393.7" font-size="8" fill="#1a1a1a" textLength="8.8" lengthAdjust="spacingAndGlyphs" stroke="#1a1a1a" stroke-width="0.2">R1</text>
<line x1="136.9" y1="373.6" x2="148" y2="373.6" stroke="#2a2a2a" stroke-width="1.1"/>
<line x1="143.1" y1="365.1" x2="143.1" y2="379.3" stroke="#2a2a2a" stroke-width="1.1"/>
<text x="146.1" y="373.3" font-size="8.6" font-weight="bold" fill="#111" stroke="#111" stroke-width="0.3">10</text>
<rect x="90.2" y="362.9" width="65.3" height="59.9" fill="none" stroke="#111" stroke-width="1.5"/>
<line x1="87.2" y1="422.8" x2="90.2" y2="422.8" stroke="#222" stroke-width="1.0"/>
<line x1="88.6" y1="418.3" x2="90.2" y2="418.3" stroke="#555" stroke-width="0.6"/>
<line x1="88.6" y1="415.7" x2="90.2" y2="415.7" stroke="#555" stroke-width="0.6"/>
<line x1="88.6" y1="413.8" x2="90.2" y2="413.8" stroke="#555" stroke-width="0.6"/>
<line x1="88.6" y1="412.3" x2="90.2" y2="412.3" stroke="#555" stroke-width="0.6"/>
<line x1="88.6" y1="411.1" x2="90.2" y2="411.1" stroke="#555" stroke-width="0.6"/>
<line x1="88.6" y1="410.1" x2="90.2" y2="410.1" stroke="#555" stroke-width="0.6"/>
<line x1="88.6" y1="409.3" x2="90.2" y2="409.3" stroke="#555" stroke-width="0.6"/>
<line x1="88.6" y1="408.5" x2="90.2" y2="408.5" stroke="#555" stroke-width="0.6"/>
<line x1="87.2" y1="407.8" x2="90.2" y2="407.8" stroke="#222" stroke-width="1.0"/>
<line x1="88.6" y1="403.3" x2="90.2" y2="403.3" stroke="#555" stroke-width="0.6"/>
<line x1="88.6" y1="400.7" x2="90.2" y2="400.7" stroke="#555" stroke-width="0.6"/>
<line x1="88.6" y1="398.8" x2="90.2" y2="398.8" stroke="#555" stroke-width="0.6"/>
<line x1="88.6" y1="397.4" x2="90.2" y2="397.4" stroke="#555" stroke-width="0.6"/>
<line x1="88.6" y1="396.2" x2="90.2" y2="396.2" stroke="#555" stroke-width="0.6"/>
<line x1="88.6" y1="395.2" x2="90.2" y2="395.2" stroke="#555" stroke-width="0.6"/>
<line x1="88.6" y1="394.3" x2="90.2" y2="394.3" stroke="#555" stroke-width="0.6"/>
<line x1="88.6" y1="393.5" x2="90.2" y2="393.5" stroke="#555" stroke-width="0.6"/>
<line x1="87.2" y1="392.9" x2="90.2" y2="392.9" stroke="#222" stroke-width="1.0"/>
<line x1="88.6" y1="388.3" x2="90.2" y2="388.3" stroke="#555" stroke-width="0.6"/>
<line x1="88.6" y1="385.7" x2="90.2" y2="385.7" stroke="#555" stroke-width="0.6"/>
<line x1="88.6" y1="383.8" x2="90.2" y2="383.8" stroke="#555" stroke-width="0.6"/>
<line x1="88.6" y1="382.4" x2="90.2" y2="382.4" stroke="#555" stroke-width="0.6"/>
<line x1="88.6" y1="381.2" x2="90.2" y2="381.2" stroke="#555" stroke-width="0.6"/>
<line x1="88.6" y1="380.2" x2="90.2" y2="380.2" stroke="#555" stroke-width="0.6"/>
<line x1="88.6" y1="379.3" x2="90.2" y2="379.3" stroke="#555" stroke-width="0.6"/>
<line x1="88.6" y1="378.6" x2="90.2" y2="378.6" stroke="#555" stroke-width="0.6"/>
<line x1="87.2" y1="377.9" x2="90.2" y2="377.9" stroke="#222" stroke-width="1.0"/>
<line x1="88.6" y1="373.4" x2="90.2" y2="373.4" stroke="#555" stroke-width="0.6"/>
<line x1="88.6" y1="370.7" x2="90.2" y2="370.7" stroke="#555" stroke-width="0.6"/>
<line x1="88.6" y1="368.9" x2="90.2" y2="368.9" stroke="#555" stroke-width="0.6"/>
<line x1="88.6" y1="367.4" x2="90.2" y2="367.4" stroke="#555" stroke-width="0.6"/>
<line x1="88.6" y1="366.2" x2="90.2" y2="366.2" stroke="#555" stroke-width="0.6"/>
<line x1="88.6" y1="365.2" x2="90.2" y2="365.2" stroke="#555" stroke-width="0.6"/>
<line x1="88.6" y1="364.4" x2="90.2" y2="364.4" stroke="#555" stroke-width="0.6"/>
<line x1="88.6" y1="363.6" x2="90.2" y2="363.6" stroke="#555" stroke-width="0.6"/>
<line x1="87.2" y1="362.9" x2="90.2" y2="362.9" stroke="#222" stroke-width="1.0"/>
<line x1="90.2" y1="422.8" x2="90.2" y2="425.8" stroke="#222" stroke-width="1.0"/>
<line x1="95.1" y1="422.8" x2="95.1" y2="424.4" stroke="#555" stroke-width="0.6"/>
<line x1="98" y1="422.8" x2="98" y2="424.4" stroke="#555" stroke-width="0.6"/>
<line x1="100" y1="422.8" x2="100" y2="424.4" stroke="#555" stroke-width="0.6"/>
<line x1="101.6" y1="422.8" x2="101.6" y2="424.4" stroke="#555" stroke-width="0.6"/>
<line x1="102.9" y1="422.8" x2="102.9" y2="424.4" stroke="#555" stroke-width="0.6"/>
<line x1="104" y1="422.8" x2="104" y2="424.4" stroke="#555" stroke-width="0.6"/>
<line x1="104.9" y1="422.8" x2="104.9" y2="424.4" stroke="#555" stroke-width="0.6"/>
<line x1="105.8" y1="422.8" x2="105.8" y2="424.4" stroke="#555" stroke-width="0.6"/>
<line x1="106.5" y1="422.8" x2="106.5" y2="425.8" stroke="#222" stroke-width="1.0"/>
<line x1="111.4" y1="422.8" x2="111.4" y2="424.4" stroke="#555" stroke-width="0.6"/>
<line x1="114.3" y1="422.8" x2="114.3" y2="424.4" stroke="#555" stroke-width="0.6"/>
<line x1="116.4" y1="422.8" x2="116.4" y2="424.4" stroke="#555" stroke-width="0.6"/>
<line x1="117.9" y1="422.8" x2="117.9" y2="424.4" stroke="#555" stroke-width="0.6"/>
<line x1="119.2" y1="422.8" x2="119.2" y2="424.4" stroke="#555" stroke-width="0.6"/>
<line x1="120.3" y1="422.8" x2="120.3" y2="424.4" stroke="#555" stroke-width="0.6"/>
<line x1="121.3" y1="422.8" x2="121.3" y2="424.4" stroke="#555" stroke-width="0.6"/>
<line x1="122.1" y1="422.8" x2="122.1" y2="424.4" stroke="#555" stroke-width="0.6"/>
<line x1="122.8" y1="422.8" x2="122.8" y2="425.8" stroke="#222" stroke-width="1.0"/>
<line x1="127.8" y1="422.8" x2="127.8" y2="424.4" stroke="#555" stroke-width="0.6"/>
<line x1="130.6" y1="422.8" x2="130.6" y2="424.4" stroke="#555" stroke-width="0.6"/>
<line x1="132.7" y1="422.8" x2="132.7" y2="424.4" stroke="#555" stroke-width="0.6"/>
<line x1="134.3" y1="422.8" x2="134.3" y2="424.4" stroke="#555" stroke-width="0.6"/>
<line x1="135.6" y1="422.8" x2="135.6" y2="424.4" stroke="#555" stroke-width="0.6"/>
<line x1="136.6" y1="422.8" x2="136.6" y2="424.4" stroke="#555" stroke-width="0.6"/>
<line x1="137.6" y1="422.8" x2="137.6" y2="424.4" stroke="#555" stroke-width="0.6"/>
<line x1="138.4" y1="422.8" x2="138.4" y2="424.4" stroke="#555" stroke-width="0.6"/>
<line x1="139.2" y1="422.8" x2="139.2" y2="425.8" stroke="#222" stroke-width="1.0"/>
<line x1="144.1" y1="422.8" x2="144.1" y2="424.4" stroke="#555" stroke-width="0.6"/>
<line x1="147" y1="422.8" x2="147" y2="424.4" stroke="#555" stroke-width="0.6"/>
<line x1="149" y1="422.8" x2="149" y2="424.4" stroke="#555" stroke-width="0.6"/>
<line x1="150.6" y1="422.8" x2="150.6" y2="424.4" stroke="#555" stroke-width="0.6"/>
<line x1="151.9" y1="422.8" x2="151.9" y2="424.4" stroke="#555" stroke-width="0.6"/>
<line x1="153" y1="422.8" x2="153" y2="424.4" stroke="#555" stroke-width="0.6"/>
<line x1="153.9" y1="422.8" x2="153.9" y2="424.4" stroke="#555" stroke-width="0.6"/>
<line x1="154.8" y1="422.8" x2="154.8" y2="424.4" stroke="#555" stroke-width="0.6"/>
<line x1="155.5" y1="422.8" x2="155.5" y2="425.8" stroke="#222" stroke-width="1.0"/>
<path d="M184 367.5h1M188 367.5h1M174 368.5h1M192 370.5h1M187 372.5h1M193 372.5h1M179 374.5h1M183 374.5h1M190 374.5h1M201 375.5h1M189 376.5h1M212 376.5h1M178 377.5h1M180 377.5h1M182 377.5h2M197 377.5h1M206 377.5h1M175 378.5h1M180 378.5h2M184 378.5h4M189 378.5h4M195 378.5h5M204 378.5h1M207 378.5h1M223 378.5h1M177 379.5h2M180 379.5h4M185 379.5h1M187 379.5h2M190 379.5h4M196 379.5h1M199 379.5h1M203 379.5h2M206 379.5h2M211 379.5h1M173 380.5h4M178 380.5h5M184 380.5h6M191 380.5h1M194 380.5h1M197 380.5h1M200 380.5h2M206 380.5h1M209 380.5h1M172 381.5h2M176 381.5h3M180 381.5h2M183 381.5h2M188 381.5h10M199 381.5h2M205 381.5h2M220 381.5h1M173 382.5h1M176 382.5h9M186 382.5h10M200 382.5h2M203 382.5h3M208 382.5h1M211 382.5h1M214 382.5h1M172 383.5h3M176 383.5h1M178 383.5h2M181 383.5h11M193 383.5h5M199 383.5h2M205 383.5h1M209 383.5h2M220 383.5h1M226 383.5h1M172 384.5h3M177 384.5h9M187 384.5h10M198 384.5h3M202 384.5h5M209 384.5h1M211 384.5h2M214 384.5h2M229 384.5h1M172 385.5h6M179 385.5h13M193 385.5h14M208 385.5h4M172 386.5h1M174 386.5h12M187 386.5h15M203 386.5h2M207 386.5h1M210 386.5h1M214 386.5h1M173 387.5h8M182 387.5h14M197 387.5h7M205 387.5h3M209 387.5h3M214 387.5h3M172 388.5h25M198 388.5h8M209 388.5h1M211 388.5h1M214 388.5h1M216 388.5h1M219 388.5h1M172 389.5h3M176 389.5h32M210 389.5h4M172 390.5h30M203 390.5h1M206 390.5h1M210 390.5h5M217 390.5h1M172 391.5h2M175 391.5h35M212 391.5h2M217 391.5h2M172 392.5h28M201 392.5h6M210 392.5h3M174 393.5h25M200 393.5h5M206 393.5h2M210 393.5h1M212 393.5h1M214 393.5h1M218 393.5h1M172 394.5h5M178 394.5h29M208 394.5h1M210 394.5h1M213 394.5h2M216 394.5h2M172 395.5h2M176 395.5h28M205 395.5h2M208 395.5h2M211 395.5h1M213 395.5h1M215 395.5h1M217 395.5h2M172 396.5h40M214 396.5h1M172 397.5h19M192 397.5h15M208 397.5h2M211 397.5h1M213 397.5h6M223 397.5h1M172 398.5h5M178 398.5h15M194 398.5h13M212 398.5h1M215 398.5h1M172 399.5h5M178 399.5h8M187 399.5h19M207 399.5h5M214 399.5h1M216 399.5h2M225 399.5h1M172 400.5h38M211 400.5h1M213 400.5h1M215 400.5h1M219 400.5h1M172 401.5h32M206 401.5h6M213 401.5h1M215 401.5h1M220 401.5h1M172 402.5h33M207 402.5h2M210 402.5h1M212 402.5h1M214 402.5h1M219 402.5h1M222 402.5h1M173 403.5h4M178 403.5h19M198 403.5h5M204 403.5h2M207 403.5h1M210 403.5h3M215 403.5h1M217 403.5h1M172 404.5h1M175 404.5h6M182 404.5h26M209 404.5h2M213 404.5h2M220 404.5h1M172 405.5h28M201 405.5h8M216 405.5h2M220 405.5h1M172 406.5h5M178 406.5h29M209 406.5h1M212 406.5h1M214 406.5h1M217 406.5h1M173 407.5h25M199 407.5h10M172 408.5h17M190 408.5h5M196 408.5h13M210 408.5h4M221 408.5h1M172 409.5h29M202 409.5h5M208 409.5h2M213 409.5h1M216 409.5h1M172 410.5h33M206 410.5h3M210 410.5h2M214 410.5h1M228 410.5h1M172 411.5h4M177 411.5h8M186 411.5h16M203 411.5h5M210 411.5h2M173 412.5h13M187 412.5h3M191 412.5h9M201 412.5h2M204 412.5h4M209 412.5h1M174 413.5h1M176 413.5h23M200 413.5h3M206 413.5h1M208 413.5h1M212 413.5h2M172 414.5h1M174 414.5h2M178 414.5h2M182 414.5h7M194 414.5h4M199 414.5h2M203 414.5h5M211 414.5h2M217 414.5h1M224 414.5h1M175 415.5h6M182 415.5h2M186 415.5h12M199 415.5h1M201 415.5h3M205 415.5h2M208 415.5h1M211 415.5h1M225 415.5h1M172 416.5h3M177 416.5h1M179 416.5h3M183 416.5h3M187 416.5h3M191 416.5h7M204 416.5h1M207 416.5h2M210 416.5h1M172 417.5h2M177 417.5h2M181 417.5h4M186 417.5h1M188 417.5h2M191 417.5h4M196 417.5h2M199 417.5h1M202 417.5h1M204 417.5h4M212 417.5h1M214 417.5h1M173 418.5h1M178 418.5h3M182 418.5h1M184 418.5h5M190 418.5h2M195 418.5h2M198 418.5h2M201 418.5h2M205 418.5h2M220 418.5h1M174 419.5h3M180 419.5h1M182 419.5h1M187 419.5h10M200 419.5h2M203 419.5h2M212 419.5h1M220 419.5h1M172 420.5h1M175 420.5h2M182 420.5h1M184 420.5h1M186 420.5h2M190 420.5h1M193 420.5h2M196 420.5h3M200 420.5h2M203 420.5h1M205 420.5h1M208 420.5h1M219 420.5h1M178 421.5h4M186 421.5h1M188 421.5h2M191 421.5h4M196 421.5h2M199 421.5h1M203 421.5h1M216 421.5h1" stroke="#7a7a7a" stroke-width="1" fill="none"/>
<line x1="194.5" y1="362.9" x2="194.5" y2="422.8" stroke="#333" stroke-width="1.1"/>
<line x1="167.6" y1="377.7" x2="211.3" y2="377.7" stroke="#505050" stroke-width="1.3"/>
<path d="M224.6 377.7H230.3V394.8H171.1" stroke="#1a1a1a" stroke-width="1.15" fill="none"/>
<path d="M171.1 403.2H230.3V422.8" stroke="#1a1a1a" stroke-width="1.15" fill="none"/>
<text x="219.9" y="392.8" font-size="8" fill="#1a1a1a" textLength="8.8" lengthAdjust="spacingAndGlyphs" stroke="#1a1a1a" stroke-width="0.2">R2</text>
<text x="219.3" y="421.5" font-size="8" fill="#1a1a1a" textLength="8.8" lengthAdjust="spacingAndGlyphs" stroke="#1a1a1a" stroke-width="0.2">R3</text>
<line x1="211.9" y1="372.8" x2="229.1" y2="372.8" stroke="#555" stroke-width="1"/>
<line x1="211.9" y1="374.3" x2="229.1" y2="374.3" stroke="#555" stroke-width="1"/>
<line x1="218.5" y1="365.8" x2="218.5" y2="381.7" stroke="#222" stroke-width="1.1"/>
<text x="218.5" y="372.1" font-size="8.6" font-weight="bold" fill="#111" stroke="#111" stroke-width="0.3">37</text>
<text x="218.5" y="381.7" font-size="8.6" font-weight="bold" fill="#111" stroke="#111" stroke-width="0.3">22</text>
<rect x="171.1" y="362.9" width="64.4" height="59.9" fill="none" stroke="#111" stroke-width="1.5"/>
<line x1="168.1" y1="422.8" x2="171.1" y2="422.8" stroke="#222" stroke-width="1.0"/>
<line x1="169.5" y1="418.3" x2="171.1" y2="418.3" stroke="#555" stroke-width="0.6"/>
<line x1="169.5" y1="415.7" x2="171.1" y2="415.7" stroke="#555" stroke-width="0.6"/>
<line x1="169.5" y1="413.8" x2="171.1" y2="413.8" stroke="#555" stroke-width="0.6"/>
<line x1="169.5" y1="412.3" x2="171.1" y2="412.3" stroke="#555" stroke-width="0.6"/>
<line x1="169.5" y1="411.1" x2="171.1" y2="411.1" stroke="#555" stroke-width="0.6"/>
<line x1="169.5" y1="410.1" x2="171.1" y2="410.1" stroke="#555" stroke-width="0.6"/>
<line x1="169.5" y1="409.3" x2="171.1" y2="409.3" stroke="#555" stroke-width="0.6"/>
<line x1="169.5" y1="408.5" x2="171.1" y2="408.5" stroke="#555" stroke-width="0.6"/>
<line x1="168.1" y1="407.8" x2="171.1" y2="407.8" stroke="#222" stroke-width="1.0"/>
<line x1="169.5" y1="403.3" x2="171.1" y2="403.3" stroke="#555" stroke-width="0.6"/>
<line x1="169.5" y1="400.7" x2="171.1" y2="400.7" stroke="#555" stroke-width="0.6"/>
<line x1="169.5" y1="398.8" x2="171.1" y2="398.8" stroke="#555" stroke-width="0.6"/>
<line x1="169.5" y1="397.4" x2="171.1" y2="397.4" stroke="#555" stroke-width="0.6"/>
<line x1="169.5" y1="396.2" x2="171.1" y2="396.2" stroke="#555" stroke-width="0.6"/>
<line x1="169.5" y1="395.2" x2="171.1" y2="395.2" stroke="#555" stroke-width="0.6"/>
<line x1="169.5" y1="394.3" x2="171.1" y2="394.3" stroke="#555" stroke-width="0.6"/>
<line x1="169.5" y1="393.5" x2="171.1" y2="393.5" stroke="#555" stroke-width="0.6"/>
<line x1="168.1" y1="392.9" x2="171.1" y2="392.9" stroke="#222" stroke-width="1.0"/>
<line x1="169.5" y1="388.3" x2="171.1" y2="388.3" stroke="#555" stroke-width="0.6"/>
<line x1="169.5" y1="385.7" x2="171.1" y2="385.7" stroke="#555" stroke-width="0.6"/>
<line x1="169.5" y1="383.8" x2="171.1" y2="383.8" stroke="#555" stroke-width="0.6"/>
<line x1="169.5" y1="382.4" x2="171.1" y2="382.4" stroke="#555" stroke-width="0.6"/>
<line x1="169.5" y1="381.2" x2="171.1" y2="381.2" stroke="#555" stroke-width="0.6"/>
<line x1="169.5" y1="380.2" x2="171.1" y2="380.2" stroke="#555" stroke-width="0.6"/>
<line x1="169.5" y1="379.3" x2="171.1" y2="379.3" stroke="#555" stroke-width="0.6"/>
<line x1="169.5" y1="378.6" x2="171.1" y2="378.6" stroke="#555" stroke-width="0.6"/>
<line x1="168.1" y1="377.9" x2="171.1" y2="377.9" stroke="#222" stroke-width="1.0"/>
<line x1="169.5" y1="373.4" x2="171.1" y2="373.4" stroke="#555" stroke-width="0.6"/>
<line x1="169.5" y1="370.7" x2="171.1" y2="370.7" stroke="#555" stroke-width="0.6"/>
<line x1="169.5" y1="368.9" x2="171.1" y2="368.9" stroke="#555" stroke-width="0.6"/>
<line x1="169.5" y1="367.4" x2="171.1" y2="367.4" stroke="#555" stroke-width="0.6"/>
<line x1="169.5" y1="366.2" x2="171.1" y2="366.2" stroke="#555" stroke-width="0.6"/>
<line x1="169.5" y1="365.2" x2="171.1" y2="365.2" stroke="#555" stroke-width="0.6"/>
<line x1="169.5" y1="364.4" x2="171.1" y2="364.4" stroke="#555" stroke-width="0.6"/>
<line x1="169.5" y1="363.6" x2="171.1" y2="363.6" stroke="#555" stroke-width="0.6"/>
<line x1="168.1" y1="362.9" x2="171.1" y2="362.9" stroke="#222" stroke-width="1.0"/>
<line x1="171.1" y1="422.8" x2="171.1" y2="425.8" stroke="#222" stroke-width="1.0"/>
<line x1="175.9" y1="422.8" x2="175.9" y2="424.4" stroke="#555" stroke-width="0.6"/>
<line x1="178.8" y1="422.8" x2="178.8" y2="424.4" stroke="#555" stroke-width="0.6"/>
<line x1="180.8" y1="422.8" x2="180.8" y2="424.4" stroke="#555" stroke-width="0.6"/>
<line x1="182.4" y1="422.8" x2="182.4" y2="424.4" stroke="#555" stroke-width="0.6"/>
<line x1="183.6" y1="422.8" x2="183.6" y2="424.4" stroke="#555" stroke-width="0.6"/>
<line x1="184.7" y1="422.8" x2="184.7" y2="424.4" stroke="#555" stroke-width="0.6"/>
<line x1="185.6" y1="422.8" x2="185.6" y2="424.4" stroke="#555" stroke-width="0.6"/>
<line x1="186.5" y1="422.8" x2="186.5" y2="424.4" stroke="#555" stroke-width="0.6"/>
<line x1="187.2" y1="422.8" x2="187.2" y2="425.8" stroke="#222" stroke-width="1.0"/>
<line x1="192" y1="422.8" x2="192" y2="424.4" stroke="#555" stroke-width="0.6"/>
<line x1="194.9" y1="422.8" x2="194.9" y2="424.4" stroke="#555" stroke-width="0.6"/>
<line x1="196.9" y1="422.8" x2="196.9" y2="424.4" stroke="#555" stroke-width="0.6"/>
<line x1="198.5" y1="422.8" x2="198.5" y2="424.4" stroke="#555" stroke-width="0.6"/>
<line x1="199.7" y1="422.8" x2="199.7" y2="424.4" stroke="#555" stroke-width="0.6"/>
<line x1="200.8" y1="422.8" x2="200.8" y2="424.4" stroke="#555" stroke-width="0.6"/>
<line x1="201.7" y1="422.8" x2="201.7" y2="424.4" stroke="#555" stroke-width="0.6"/>
<line x1="202.6" y1="422.8" x2="202.6" y2="424.4" stroke="#555" stroke-width="0.6"/>
<line x1="203.3" y1="422.8" x2="203.3" y2="425.8" stroke="#222" stroke-width="1.0"/>
<line x1="208.1" y1="422.8" x2="208.1" y2="424.4" stroke="#555" stroke-width="0.6"/>
<line x1="211" y1="422.8" x2="211" y2="424.4" stroke="#555" stroke-width="0.6"/>
<line x1="213" y1="422.8" x2="213" y2="424.4" stroke="#555" stroke-width="0.6"/>
<line x1="214.6" y1="422.8" x2="214.6" y2="424.4" stroke="#555" stroke-width="0.6"/>
<line x1="215.8" y1="422.8" x2="215.8" y2="424.4" stroke="#555" stroke-width="0.6"/>
<line x1="216.9" y1="422.8" x2="216.9" y2="424.4" stroke="#555" stroke-width="0.6"/>
<line x1="217.8" y1="422.8" x2="217.8" y2="424.4" stroke="#555" stroke-width="0.6"/>
<line x1="218.7" y1="422.8" x2="218.7" y2="424.4" stroke="#555" stroke-width="0.6"/>
<line x1="219.4" y1="422.8" x2="219.4" y2="425.8" stroke="#222" stroke-width="1.0"/>
<line x1="224.2" y1="422.8" x2="224.2" y2="424.4" stroke="#555" stroke-width="0.6"/>
<line x1="227.1" y1="422.8" x2="227.1" y2="424.4" stroke="#555" stroke-width="0.6"/>
<line x1="229.1" y1="422.8" x2="229.1" y2="424.4" stroke="#555" stroke-width="0.6"/>
<line x1="230.7" y1="422.8" x2="230.7" y2="424.4" stroke="#555" stroke-width="0.6"/>
<line x1="231.9" y1="422.8" x2="231.9" y2="424.4" stroke="#555" stroke-width="0.6"/>
<line x1="233" y1="422.8" x2="233" y2="424.4" stroke="#555" stroke-width="0.6"/>
<line x1="233.9" y1="422.8" x2="233.9" y2="424.4" stroke="#555" stroke-width="0.6"/>
<line x1="234.8" y1="422.8" x2="234.8" y2="424.4" stroke="#555" stroke-width="0.6"/>
<line x1="235.5" y1="422.8" x2="235.5" y2="425.8" stroke="#222" stroke-width="1.0"/>
<path d="M251 369.5h1M250 372.5h1M252 373.5h1M263 373.5h1M266 373.5h1M251 376.5h1M256 376.5h1M259 376.5h1M261 376.5h1M253 377.5h1M256 377.5h1M274 377.5h1M245 378.5h1M249 378.5h4M257 378.5h1M261 378.5h1M263 378.5h2M247 379.5h4M254 379.5h3M258 379.5h5M271 379.5h1M273 379.5h2M245 380.5h1M247 380.5h1M250 380.5h1M253 380.5h2M257 380.5h2M263 380.5h3M267 380.5h1M271 380.5h2M280 380.5h1M245 381.5h2M248 381.5h6M256 381.5h2M259 381.5h1M261 381.5h1M263 381.5h2M266 381.5h1M269 381.5h1M277 381.5h1M247 382.5h15M263 382.5h1M265 382.5h7M275 382.5h1M246 383.5h1M249 383.5h5M255 383.5h2M258 383.5h5M265 383.5h4M271 383.5h2M280 383.5h1M245 384.5h1M247 384.5h2M250 384.5h5M257 384.5h5M264 384.5h9M280 384.5h1M284 384.5h1M298 384.5h1M245 385.5h4M250 385.5h19M270 385.5h2M273 385.5h2M276 385.5h1M245 386.5h4M250 386.5h1M252 386.5h14M268 386.5h2M272 386.5h4M245 387.5h1M247 387.5h17M265 387.5h8M274 387.5h1M277 387.5h1M245 388.5h1M248 388.5h20M269 388.5h1M271 388.5h2M274 388.5h1M299 388.5h1M245 389.5h23M269 389.5h2M275 389.5h1M279 389.5h1M245 390.5h1M247 390.5h18M266 390.5h2M269 390.5h4M280 390.5h1M282 390.5h1M245 391.5h26M272 391.5h3M276 391.5h2M280 391.5h1M285 391.5h1M245 392.5h7M253 392.5h18M272 392.5h1M274 392.5h1M279 392.5h1M245 393.5h3M249 393.5h28M280 393.5h1M297 393.5h1M245 394.5h30M276 394.5h1M278 394.5h1M285 394.5h1M288 394.5h1M296 394.5h1M298 394.5h1M245 395.5h32M280 395.5h2M286 395.5h1M288 395.5h1M245 396.5h29M275 396.5h3M279 396.5h1M285 396.5h1M245 397.5h3M249 397.5h29M282 397.5h1M290 397.5h1M292 397.5h1M300 397.5h1M245 398.5h27M273 398.5h2M277 398.5h2M281 398.5h1M245 399.5h3M249 399.5h23M273 399.5h5M284 399.5h1M300 399.5h1M245 400.5h33M279 400.5h1M281 400.5h1M283 400.5h1M285 400.5h1M245 401.5h27M273 401.5h4M284 401.5h1M287 401.5h2M291 401.5h1M245 402.5h32M279 402.5h1M282 402.5h1M284 402.5h3M245 403.5h28M274 403.5h4M279 403.5h1M282 403.5h1M245 404.5h29M275 404.5h1M279 404.5h1M282 404.5h1M297 404.5h1M245 405.5h21M267 405.5h1M269 405.5h3M273 405.5h4M278 405.5h2M245 406.5h27M274 406.5h1M276 406.5h1M281 406.5h2M287 406.5h1M245 407.5h28M274 407.5h1M277 407.5h2M280 407.5h1M282 407.5h1M245 408.5h28M276 408.5h1M278 408.5h1M283 408.5h1M285 408.5h1M292 408.5h1M245 409.5h4M250 409.5h5M256 409.5h15M279 409.5h1M282 409.5h1M287 409.5h1M295 409.5h1M245 410.5h1M247 410.5h11M259 410.5h6M266 410.5h8M278 410.5h1M245 411.5h2M248 411.5h9M258 411.5h13M273 411.5h1M275 411.5h1M283 411.5h1M294 411.5h1M245 412.5h1M248 412.5h12M262 412.5h3M266 412.5h3M270 412.5h2M274 412.5h4M281 412.5h1M245 413.5h5M251 413.5h5M257 413.5h13M278 413.5h1M246 414.5h20M267 414.5h4M279 414.5h1M283 414.5h1M246 415.5h2M249 415.5h2M252 415.5h1M254 415.5h2M257 415.5h3M261 415.5h1M263 415.5h2M266 415.5h4M271 415.5h2M275 415.5h2M291 415.5h1M245 416.5h2M248 416.5h8M257 416.5h10M268 416.5h1M270 416.5h1M272 416.5h1M274 416.5h1M276 416.5h1M246 417.5h2M249 417.5h7M257 417.5h2M261 417.5h8M279 417.5h1M245 418.5h3M251 418.5h1M253 418.5h7M261 418.5h3M265 418.5h5M281 418.5h1M246 419.5h1M248 419.5h1M250 419.5h6M257 419.5h1M260 419.5h1M263 419.5h3M267 419.5h1M269 419.5h1M272 419.5h1M245 420.5h1M250 420.5h1M252 420.5h1M255 420.5h1M258 420.5h1M260 420.5h3M264 420.5h1M266 420.5h2M269 420.5h2M274 420.5h2M288 420.5h1M249 421.5h2M253 421.5h3M257 421.5h4M262 421.5h1M264 421.5h1M268 421.5h1M271 421.5h1" stroke="#7a7a7a" stroke-width="1" fill="none"/>
<line x1="267.5" y1="362.9" x2="267.5" y2="422.8" stroke="#333" stroke-width="1.1"/>
<line x1="240.1" y1="377.7" x2="283.8" y2="377.7" stroke="#505050" stroke-width="1.3"/>
<path d="M297.1 377.7H302.8V394.8H243.6" stroke="#1a1a1a" stroke-width="1.15" fill="none"/>
<path d="M243.6 403.2H302.8V422.8" stroke="#1a1a1a" stroke-width="1.15" fill="none"/>
<text x="292.4" y="392.8" font-size="8" fill="#1a1a1a" textLength="8.8" lengthAdjust="spacingAndGlyphs" stroke="#1a1a1a" stroke-width="0.2">R2</text>
<text x="291.8" y="421.5" font-size="8" fill="#1a1a1a" textLength="8.8" lengthAdjust="spacingAndGlyphs" stroke="#1a1a1a" stroke-width="0.2">R3</text>
<line x1="284.4" y1="372.8" x2="301.6" y2="372.8" stroke="#555" stroke-width="1"/>
<line x1="284.4" y1="374.3" x2="301.6" y2="374.3" stroke="#555" stroke-width="1"/>
<line x1="291" y1="365.8" x2="291" y2="381.7" stroke="#222" stroke-width="1.1"/>
<text x="291" y="372.1" font-size="8.6" font-weight="bold" fill="#111" stroke="#111" stroke-width="0.3">13</text>
<text x="291" y="381.7" font-size="8.6" font-weight="bold" fill="#111" stroke="#111" stroke-width="0.3">16</text>
<rect x="243.6" y="362.9" width="64.6" height="59.9" fill="none" stroke="#111" stroke-width="1.5"/>
<line x1="240.6" y1="422.8" x2="243.6" y2="422.8" stroke="#222" stroke-width="1.0"/>
<line x1="242" y1="418.3" x2="243.6" y2="418.3" stroke="#555" stroke-width="0.6"/>
<line x1="242" y1="415.7" x2="243.6" y2="415.7" stroke="#555" stroke-width="0.6"/>
<line x1="242" y1="413.8" x2="243.6" y2="413.8" stroke="#555" stroke-width="0.6"/>
<line x1="242" y1="412.3" x2="243.6" y2="412.3" stroke="#555" stroke-width="0.6"/>
<line x1="242" y1="411.1" x2="243.6" y2="411.1" stroke="#555" stroke-width="0.6"/>
<line x1="242" y1="410.1" x2="243.6" y2="410.1" stroke="#555" stroke-width="0.6"/>
<line x1="242" y1="409.3" x2="243.6" y2="409.3" stroke="#555" stroke-width="0.6"/>
<line x1="242" y1="408.5" x2="243.6" y2="408.5" stroke="#555" stroke-width="0.6"/>
<line x1="240.6" y1="407.8" x2="243.6" y2="407.8" stroke="#222" stroke-width="1.0"/>
<line x1="242" y1="403.3" x2="243.6" y2="403.3" stroke="#555" stroke-width="0.6"/>
<line x1="242" y1="400.7" x2="243.6" y2="400.7" stroke="#555" stroke-width="0.6"/>
<line x1="242" y1="398.8" x2="243.6" y2="398.8" stroke="#555" stroke-width="0.6"/>
<line x1="242" y1="397.4" x2="243.6" y2="397.4" stroke="#555" stroke-width="0.6"/>
<line x1="242" y1="396.2" x2="243.6" y2="396.2" stroke="#555" stroke-width="0.6"/>
<line x1="242" y1="395.2" x2="243.6" y2="395.2" stroke="#555" stroke-width="0.6"/>
<line x1="242" y1="394.3" x2="243.6" y2="394.3" stroke="#555" stroke-width="0.6"/>
<line x1="242" y1="393.5" x2="243.6" y2="393.5" stroke="#555" stroke-width="0.6"/>
<line x1="240.6" y1="392.9" x2="243.6" y2="392.9" stroke="#222" stroke-width="1.0"/>
<line x1="242" y1="388.3" x2="243.6" y2="388.3" stroke="#555" stroke-width="0.6"/>
<line x1="242" y1="385.7" x2="243.6" y2="385.7" stroke="#555" stroke-width="0.6"/>
<line x1="242" y1="383.8" x2="243.6" y2="383.8" stroke="#555" stroke-width="0.6"/>
<line x1="242" y1="382.4" x2="243.6" y2="382.4" stroke="#555" stroke-width="0.6"/>
<line x1="242" y1="381.2" x2="243.6" y2="381.2" stroke="#555" stroke-width="0.6"/>
<line x1="242" y1="380.2" x2="243.6" y2="380.2" stroke="#555" stroke-width="0.6"/>
<line x1="242" y1="379.3" x2="243.6" y2="379.3" stroke="#555" stroke-width="0.6"/>
<line x1="242" y1="378.6" x2="243.6" y2="378.6" stroke="#555" stroke-width="0.6"/>
<line x1="240.6" y1="377.9" x2="243.6" y2="377.9" stroke="#222" stroke-width="1.0"/>
<line x1="242" y1="373.4" x2="243.6" y2="373.4" stroke="#555" stroke-width="0.6"/>
<line x1="242" y1="370.7" x2="243.6" y2="370.7" stroke="#555" stroke-width="0.6"/>
<line x1="242" y1="368.9" x2="243.6" y2="368.9" stroke="#555" stroke-width="0.6"/>
<line x1="242" y1="367.4" x2="243.6" y2="367.4" stroke="#555" stroke-width="0.6"/>
<line x1="242" y1="366.2" x2="243.6" y2="366.2" stroke="#555" stroke-width="0.6"/>
<line x1="242" y1="365.2" x2="243.6" y2="365.2" stroke="#555" stroke-width="0.6"/>
<line x1="242" y1="364.4" x2="243.6" y2="364.4" stroke="#555" stroke-width="0.6"/>
<line x1="242" y1="363.6" x2="243.6" y2="363.6" stroke="#555" stroke-width="0.6"/>
<line x1="240.6" y1="362.9" x2="243.6" y2="362.9" stroke="#222" stroke-width="1.0"/>
<line x1="243.6" y1="422.8" x2="243.6" y2="425.8" stroke="#222" stroke-width="1.0"/>
<line x1="248.5" y1="422.8" x2="248.5" y2="424.4" stroke="#555" stroke-width="0.6"/>
<line x1="251.3" y1="422.8" x2="251.3" y2="424.4" stroke="#555" stroke-width="0.6"/>
<line x1="253.3" y1="422.8" x2="253.3" y2="424.4" stroke="#555" stroke-width="0.6"/>
<line x1="254.9" y1="422.8" x2="254.9" y2="424.4" stroke="#555" stroke-width="0.6"/>
<line x1="256.2" y1="422.8" x2="256.2" y2="424.4" stroke="#555" stroke-width="0.6"/>
<line x1="257.2" y1="422.8" x2="257.2" y2="424.4" stroke="#555" stroke-width="0.6"/>
<line x1="258.2" y1="422.8" x2="258.2" y2="424.4" stroke="#555" stroke-width="0.6"/>
<line x1="259" y1="422.8" x2="259" y2="424.4" stroke="#555" stroke-width="0.6"/>
<line x1="259.8" y1="422.8" x2="259.8" y2="425.8" stroke="#222" stroke-width="1.0"/>
<line x1="264.6" y1="422.8" x2="264.6" y2="424.4" stroke="#555" stroke-width="0.6"/>
<line x1="267.5" y1="422.8" x2="267.5" y2="424.4" stroke="#555" stroke-width="0.6"/>
<line x1="269.5" y1="422.8" x2="269.5" y2="424.4" stroke="#555" stroke-width="0.6"/>
<line x1="271" y1="422.8" x2="271" y2="424.4" stroke="#555" stroke-width="0.6"/>
<line x1="272.3" y1="422.8" x2="272.3" y2="424.4" stroke="#555" stroke-width="0.6"/>
<line x1="273.4" y1="422.8" x2="273.4" y2="424.4" stroke="#555" stroke-width="0.6"/>
<line x1="274.3" y1="422.8" x2="274.3" y2="424.4" stroke="#555" stroke-width="0.6"/>
<line x1="275.2" y1="422.8" x2="275.2" y2="424.4" stroke="#555" stroke-width="0.6"/>
<line x1="275.9" y1="422.8" x2="275.9" y2="425.8" stroke="#222" stroke-width="1.0"/>
<line x1="280.8" y1="422.8" x2="280.8" y2="424.4" stroke="#555" stroke-width="0.6"/>
<line x1="283.6" y1="422.8" x2="283.6" y2="424.4" stroke="#555" stroke-width="0.6"/>
<line x1="285.6" y1="422.8" x2="285.6" y2="424.4" stroke="#555" stroke-width="0.6"/>
<line x1="287.2" y1="422.8" x2="287.2" y2="424.4" stroke="#555" stroke-width="0.6"/>
<line x1="288.5" y1="422.8" x2="288.5" y2="424.4" stroke="#555" stroke-width="0.6"/>
<line x1="289.5" y1="422.8" x2="289.5" y2="424.4" stroke="#555" stroke-width="0.6"/>
<line x1="290.5" y1="422.8" x2="290.5" y2="424.4" stroke="#555" stroke-width="0.6"/>
<line x1="291.3" y1="422.8" x2="291.3" y2="424.4" stroke="#555" stroke-width="0.6"/>
<line x1="292.1" y1="422.8" x2="292.1" y2="425.8" stroke="#222" stroke-width="1.0"/>
<line x1="296.9" y1="422.8" x2="296.9" y2="424.4" stroke="#555" stroke-width="0.6"/>
<line x1="299.8" y1="422.8" x2="299.8" y2="424.4" stroke="#555" stroke-width="0.6"/>
<line x1="301.8" y1="422.8" x2="301.8" y2="424.4" stroke="#555" stroke-width="0.6"/>
<line x1="303.3" y1="422.8" x2="303.3" y2="424.4" stroke="#555" stroke-width="0.6"/>
<line x1="304.6" y1="422.8" x2="304.6" y2="424.4" stroke="#555" stroke-width="0.6"/>
<line x1="305.7" y1="422.8" x2="305.7" y2="424.4" stroke="#555" stroke-width="0.6"/>
<line x1="306.6" y1="422.8" x2="306.6" y2="424.4" stroke="#555" stroke-width="0.6"/>
<line x1="307.5" y1="422.8" x2="307.5" y2="424.4" stroke="#555" stroke-width="0.6"/>
<line x1="308.2" y1="422.8" x2="308.2" y2="425.8" stroke="#222" stroke-width="1.0"/>
<text x="-0.2" y="207.4" font-size="17.6" font-weight="bold">B</text>
<path d="M14.9 212.3V206.4H45M131 206.4H159.5V212.5" stroke="#222" stroke-width="1.1" fill="none"/>
<path d="M168.75 212.5V206.4H194.5M282 206.4H312.8V212.5" stroke="#222" stroke-width="1.1" fill="none"/>
<text x="53.8" y="210" font-size="9.3" font-weight="bold" textLength="66.3" lengthAdjust="spacingAndGlyphs">control shRNA</text>
<text x="208.3" y="209.5" font-size="9.1" font-weight="bold" textLength="59.5" lengthAdjust="spacingAndGlyphs">Ly49E shRNA</text>
<text x="51" y="223.2" font-size="9" font-weight="bold" text-anchor="middle">BSA</text>
<text x="123.3" y="223.2" font-size="9" font-weight="bold" text-anchor="middle">uPA</text>
<text x="203.8" y="223.2" font-size="9" font-weight="bold" text-anchor="middle">BSA</text>
<text x="276.4" y="223.2" font-size="9" font-weight="bold" text-anchor="middle">uPA</text>
<path d="M7.4 226V311.9" stroke="#222" stroke-width="1.1" fill="none"/>
<path d="M7.4 220.6L4.6 228.6L7.4 227.2L10.2 228.6Z" stroke="none" stroke-width="1" fill="#111"/>
<text x="11.2" y="335.7" font-size="9.2" fill="#222" text-anchor="middle" textLength="24.2" lengthAdjust="spacingAndGlyphs" transform="rotate(-90 11.2 335.7)">Ly49E</text>
<path d="M7.6 355.6V436.2H146.3" stroke="#333" stroke-width="1.1" fill="none"/>
<text x="154" y="436.5" font-size="8.8" fill="#333" textLength="23" lengthAdjust="spacingAndGlyphs">IFN-γ</text>
<path d="M184.4 436.2H313" stroke="#222" stroke-width="1.1" fill="none"/>
<path d="M319.4 436.2L311.5 432.8L313.6 436.2L311.5 439.6Z" stroke="#111" stroke-width="0.6" fill="#111"/>
<line x1="318.8" y1="226.5" x2="318.8" y2="238.7" stroke="#111" stroke-width="1.7"/>
<line x1="318.8" y1="278.4" x2="318.8" y2="286.9" stroke="#111" stroke-width="1.7"/>
<text x="322" y="259.5" font-size="8.8" fill="#222" text-anchor="middle" textLength="31" lengthAdjust="spacingAndGlyphs" transform="rotate(-90 322 259.5)" stroke="#222" stroke-width="0.2">0 NK1.1</text>
<line x1="318.8" y1="294.1" x2="318.8" y2="306.3" stroke="#111" stroke-width="1.7"/>
<line x1="318.8" y1="345.9" x2="318.8" y2="354.4" stroke="#111" stroke-width="1.7"/>
<text x="322" y="327" font-size="8.8" fill="#222" text-anchor="middle" textLength="31" lengthAdjust="spacingAndGlyphs" transform="rotate(-90 322 327)" stroke="#222" stroke-width="0.2">1 NK1.1</text>
<line x1="318.8" y1="362.3" x2="318.8" y2="374.5" stroke="#111" stroke-width="1.7"/>
<line x1="318.8" y1="414.3" x2="318.8" y2="422.8" stroke="#111" stroke-width="1.7"/>
<text x="322" y="395.4" font-size="8.8" fill="#222" text-anchor="middle" textLength="31" lengthAdjust="spacingAndGlyphs" transform="rotate(-90 322 395.4)" stroke="#222" stroke-width="0.2">5 NK1.1</text>
<text x="355" y="207.4" font-size="17.6" font-weight="bold">C</text>
<rect x="435.4" y="207" width="5.6" height="5.9" fill="#111" stroke="#111" stroke-width="1"/>
<rect x="435.4" y="220.6" width="5.6" height="5.9" fill="#aaa" stroke="#333" stroke-width="1"/>
<rect x="435.4" y="233.8" width="5.6" height="5.9" fill="#fff" stroke="#333" stroke-width="1"/>
<text x="444.6" y="212.8" font-size="10.4" fill="#222" textLength="11.8" lengthAdjust="spacingAndGlyphs" stroke="#222" stroke-width="0.15">R1</text>
<text x="444.6" y="226.4" font-size="10.4" fill="#222" textLength="11.8" lengthAdjust="spacingAndGlyphs" stroke="#222" stroke-width="0.15">R2</text>
<text x="444.6" y="239.6" font-size="10.4" fill="#222" textLength="11.8" lengthAdjust="spacingAndGlyphs" stroke="#222" stroke-width="0.15">R3</text>
<line x1="474.2" y1="262.1" x2="479.8" y2="262.1" stroke="#222" stroke-width="0.9"/>
<line x1="479.8" y1="259.9" x2="479.8" y2="264.2" stroke="#222" stroke-width="0.9"/>
<rect x="381.2" y="254.5" width="93" height="15.1" fill="url(#gd)" stroke="#111" stroke-width="1.1"/>
<line x1="476.8" y1="277.5" x2="478" y2="277.5" stroke="#222" stroke-width="0.9"/>
<line x1="478" y1="275.3" x2="478" y2="279.7" stroke="#222" stroke-width="0.9"/>
<rect x="381.2" y="269.6" width="95.6" height="15.8" fill="url(#gl)" stroke="#111" stroke-width="1.1"/>
<line x1="397.3" y1="292.7" x2="424.3" y2="292.7" stroke="#222" stroke-width="0.9"/>
<line x1="424.3" y1="290.5" x2="424.3" y2="294.9" stroke="#222" stroke-width="0.9"/>
<rect x="381.2" y="285.4" width="16.1" height="14.6" fill="#fff" stroke="#111" stroke-width="1.1"/>
<line x1="465.5" y1="330.6" x2="480.3" y2="330.6" stroke="#222" stroke-width="0.9"/>
<line x1="480.3" y1="328.4" x2="480.3" y2="332.8" stroke="#222" stroke-width="0.9"/>
<rect x="381.2" y="323" width="84.3" height="15.3" fill="url(#gd)" stroke="#111" stroke-width="1.1"/>
<line x1="460.6" y1="345.6" x2="474.6" y2="345.6" stroke="#222" stroke-width="0.9"/>
<line x1="474.6" y1="343.4" x2="474.6" y2="347.8" stroke="#222" stroke-width="0.9"/>
<rect x="381.2" y="338.3" width="79.4" height="14.7" fill="url(#gl)" stroke="#111" stroke-width="1.1"/>
<line x1="416.3" y1="360.8" x2="422.2" y2="360.8" stroke="#222" stroke-width="0.9"/>
<line x1="422.2" y1="358.6" x2="422.2" y2="363" stroke="#222" stroke-width="0.9"/>
<rect x="381.2" y="353" width="35.1" height="15.6" fill="#fff" stroke="#111" stroke-width="1.1"/>
<path d="M381.2 242.5V379.8H480.4" stroke="#222" stroke-width="1.1" fill="none"/>
<line x1="381" y1="379.8" x2="381" y2="382.4" stroke="#222" stroke-width="1"/>
<text x="381.2" y="395.9" font-size="10.2" fill="#222" text-anchor="middle" textLength="4.9" lengthAdjust="spacingAndGlyphs" stroke="#222" stroke-width="0.12">0</text>
<line x1="400.1" y1="379.8" x2="400.1" y2="382.4" stroke="#222" stroke-width="1"/>
<text x="400.3" y="395.9" font-size="10.2" fill="#222" text-anchor="middle" textLength="10.4" lengthAdjust="spacingAndGlyphs" stroke="#222" stroke-width="0.12">20</text>
<line x1="419.3" y1="379.8" x2="419.3" y2="382.4" stroke="#222" stroke-width="1"/>
<text x="419.5" y="395.9" font-size="10.2" fill="#222" text-anchor="middle" textLength="10.4" lengthAdjust="spacingAndGlyphs" stroke="#222" stroke-width="0.12">40</text>
<line x1="438.4" y1="379.8" x2="438.4" y2="382.4" stroke="#222" stroke-width="1"/>
<text x="438.6" y="395.9" font-size="10.2" fill="#222" text-anchor="middle" textLength="10.4" lengthAdjust="spacingAndGlyphs" stroke="#222" stroke-width="0.12">60</text>
<line x1="457.6" y1="379.8" x2="457.6" y2="382.4" stroke="#222" stroke-width="1"/>
<text x="457.8" y="395.9" font-size="10.2" fill="#222" text-anchor="middle" textLength="10.4" lengthAdjust="spacingAndGlyphs" stroke="#222" stroke-width="0.12">80</text>
<line x1="476.8" y1="379.8" x2="476.8" y2="382.4" stroke="#222" stroke-width="1"/>
<text x="476.9" y="395.9" font-size="10.2" fill="#222" text-anchor="middle" textLength="15.6" lengthAdjust="spacingAndGlyphs" stroke="#222" stroke-width="0.12">100</text>
<text x="382.2" y="407.5" font-size="10.4" fill="#222" textLength="96.3" lengthAdjust="spacingAndGlyphs" stroke="#222" stroke-width="0.12">% inhibition of IFN-γ</text>
<line x1="372.7" y1="250.9" x2="372.7" y2="259.7" stroke="#111" stroke-width="1.9"/>
<line x1="372.7" y1="297.3" x2="372.7" y2="304.6" stroke="#111" stroke-width="1.9"/>
<text x="376.3" y="280.3" font-size="9.6" fill="#222" text-anchor="middle" textLength="30.5" lengthAdjust="spacingAndGlyphs" transform="rotate(-90 376.3 280.3)" stroke="#222" stroke-width="0.2">1 NK1.1</text>
<line x1="372.7" y1="320.3" x2="372.7" y2="329" stroke="#111" stroke-width="1.9"/>
<line x1="372.7" y1="365.8" x2="372.7" y2="372.6" stroke="#111" stroke-width="1.9"/>
<text x="376.3" y="348.9" font-size="9.6" fill="#222" text-anchor="middle" textLength="30.5" lengthAdjust="spacingAndGlyphs" transform="rotate(-90 376.3 348.9)" stroke="#222" stroke-width="0.2">5 NK1.1</text></svg></body></html>
